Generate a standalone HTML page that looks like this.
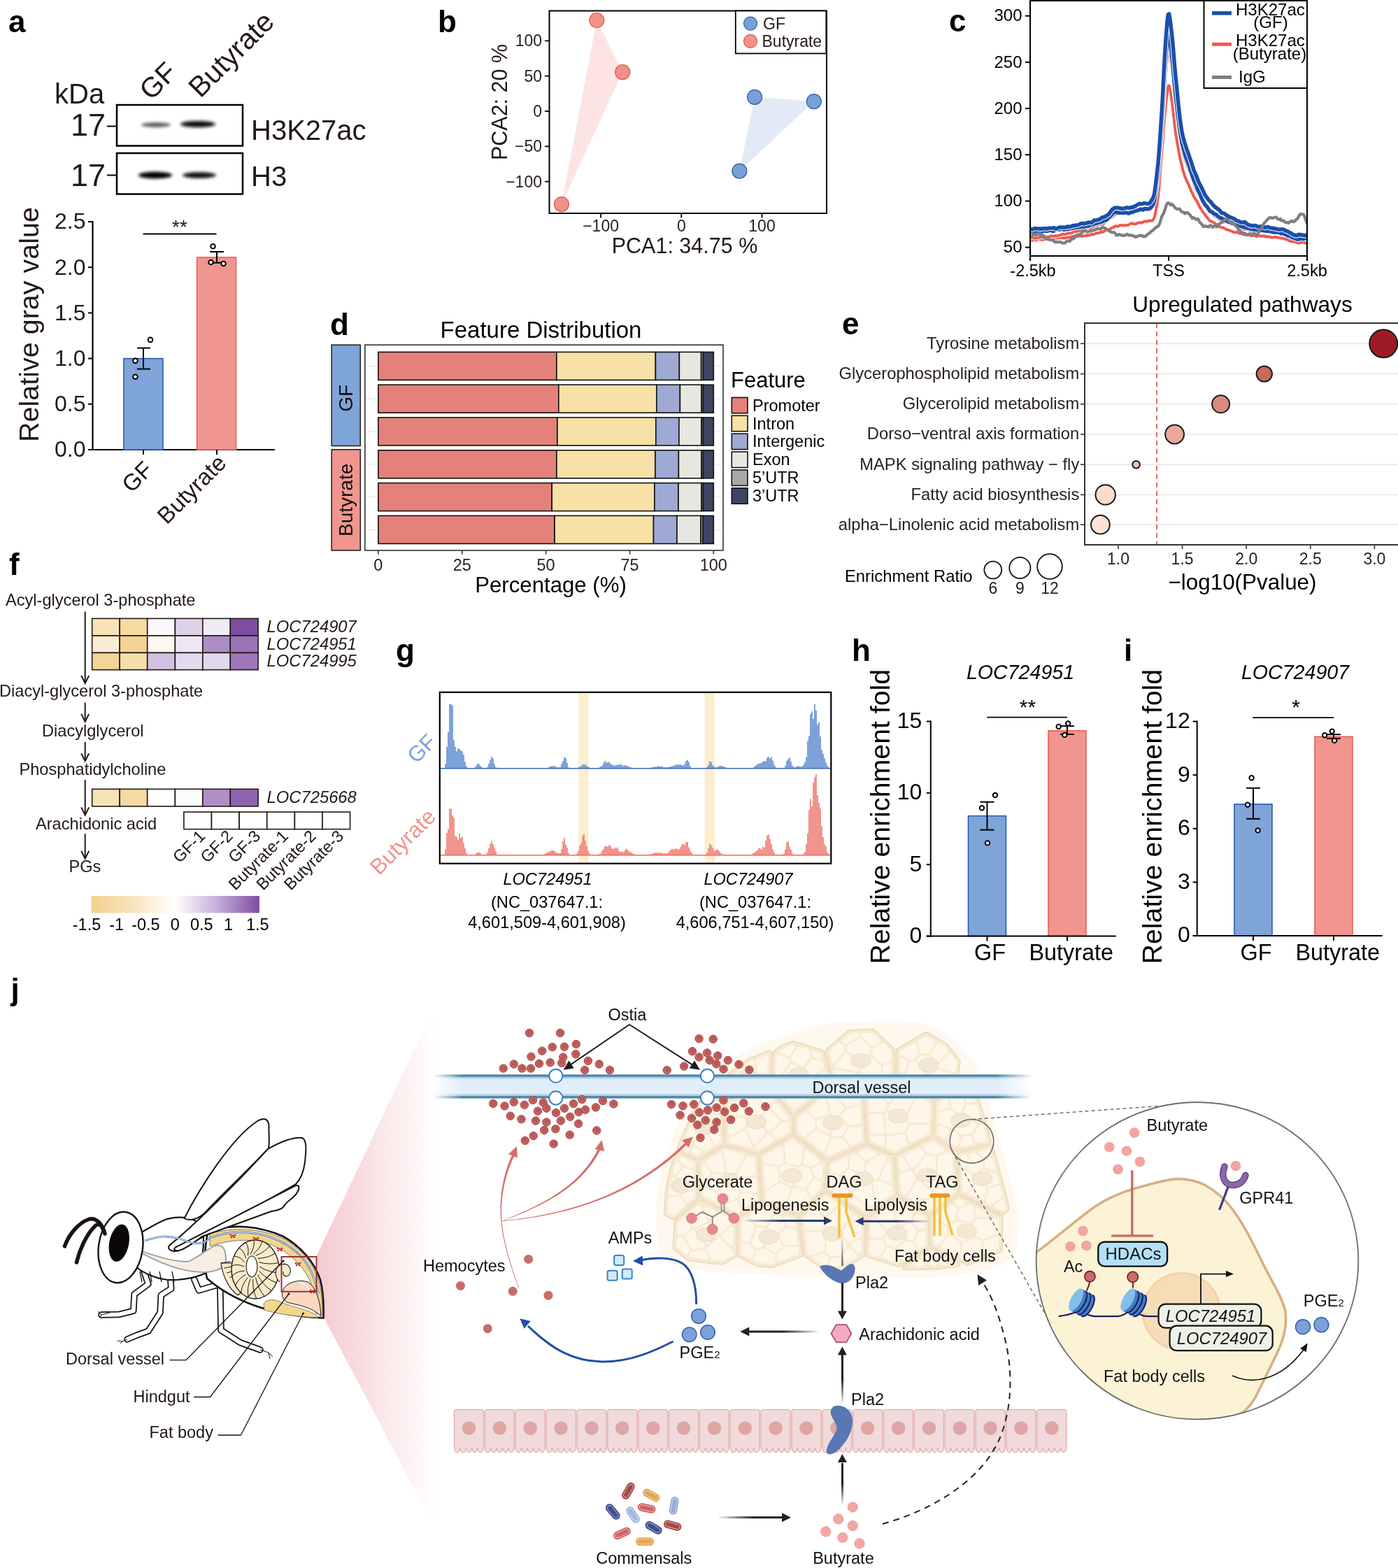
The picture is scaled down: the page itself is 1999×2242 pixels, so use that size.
<!DOCTYPE html>
<html><head><meta charset="utf-8"><title>Figure</title>
<style>
html,body{margin:0;padding:0;background:#fff;}
svg{display:block;}
text{font-family:'Liberation Sans', Arial, Helvetica, sans-serif;}
</style></head>
<body>
<svg width="1999" height="2242" viewBox="0 0 1999 2242" font-family="'Liberation Sans', Arial, Helvetica, sans-serif" fill="#231815">
<rect x="0" y="0" width="1999" height="2242" fill="#fff"/>
<defs>
<filter id="blur2" x="-50%" y="-200%" width="200%" height="500%"><feGaussianBlur stdDeviation="2.2"/></filter>
</defs>
<text x="12.0" y="46.0" font-size="44" font-weight="bold" fill="#000">a</text>
<text x="78.0" y="148.0" font-size="40">kDa</text>
<text x="216.0" y="145.0" font-size="40" transform="rotate(-45 216.0 145.0)">GF</text>
<text x="286.5" y="141.5" font-size="41" transform="rotate(-45 286.5 141.5)">Butyrate</text>
<text x="101.0" y="194.0" font-size="45">17</text>
<text x="101.0" y="266.0" font-size="45">17</text>
<line x1="153.0" y1="180.5" x2="167.0" y2="180.5" stroke="#000" stroke-width="2"/>
<line x1="153.0" y1="250.5" x2="167.0" y2="250.5" stroke="#000" stroke-width="2"/>
<rect x="167.0" y="150.0" width="180.0" height="58.5" fill="#fff" stroke="#000" stroke-width="2.5"/>
<rect x="167.0" y="219.0" width="180.0" height="58.5" fill="#fff" stroke="#000" stroke-width="2.5"/>
<g filter="url(#blur2)">
<ellipse cx="223" cy="178.5" rx="21" ry="3.2" fill="#555"/>
<ellipse cx="283" cy="177.5" rx="25" ry="4.5" fill="#111"/>
<ellipse cx="222" cy="250.5" rx="24" ry="5" fill="#000"/>
<ellipse cx="285" cy="250.5" rx="24" ry="4.2" fill="#0a0a0a"/>
</g>
<text x="359.0" y="199.5" font-size="40">H3K27ac</text>
<text x="359.0" y="265.5" font-size="40">H3</text>
<line x1="132.5" y1="316.0" x2="132.5" y2="644.0" stroke="#000" stroke-width="2.2"/>
<line x1="127.0" y1="643.0" x2="393.0" y2="643.0" stroke="#000" stroke-width="2.2"/>
<line x1="126.0" y1="643.0" x2="132.5" y2="643.0" stroke="#000" stroke-width="2"/>
<text x="122.5" y="653.3" font-size="32" text-anchor="end">0.0</text>
<line x1="126.0" y1="577.8" x2="132.5" y2="577.8" stroke="#000" stroke-width="2"/>
<text x="122.5" y="588.1" font-size="32" text-anchor="end">0.5</text>
<line x1="126.0" y1="512.6" x2="132.5" y2="512.6" stroke="#000" stroke-width="2"/>
<text x="122.5" y="522.9" font-size="32" text-anchor="end">1.0</text>
<line x1="126.0" y1="447.4" x2="132.5" y2="447.4" stroke="#000" stroke-width="2"/>
<text x="122.5" y="457.7" font-size="32" text-anchor="end">1.5</text>
<line x1="126.0" y1="382.2" x2="132.5" y2="382.2" stroke="#000" stroke-width="2"/>
<text x="122.5" y="392.5" font-size="32" text-anchor="end">2.0</text>
<line x1="126.0" y1="317.0" x2="132.5" y2="317.0" stroke="#000" stroke-width="2"/>
<text x="122.5" y="327.3" font-size="32" text-anchor="end">2.5</text>
<text x="55.0" y="464.0" font-size="39.5" text-anchor="middle" transform="rotate(-90 55.0 464.0)">Relative gray value</text>
<rect x="177.0" y="512.6" width="56.0" height="130.4" fill="#7FA4D8" stroke="#2457B0" stroke-width="1.5"/>
<rect x="281.5" y="367.9" width="56.0" height="275.1" fill="#F0968E" stroke="#EB5A50" stroke-width="1.5"/>
<line x1="205.0" y1="643.0" x2="205.0" y2="650.0" stroke="#000" stroke-width="2"/>
<line x1="310.0" y1="643.0" x2="310.0" y2="650.0" stroke="#000" stroke-width="2"/>
<text x="220.5" y="673.5" font-size="33" text-anchor="end" transform="rotate(-45 220.5 673.5)">GF</text>
<text x="325.5" y="664.0" font-size="33" text-anchor="end" transform="rotate(-45 325.5 664.0)">Butyrate</text>
<line x1="205.0" y1="497.6" x2="205.0" y2="527.6" stroke="#000" stroke-width="2"/>
<line x1="196.0" y1="497.6" x2="215.0" y2="497.6" stroke="#000" stroke-width="2"/>
<line x1="196.0" y1="527.6" x2="215.0" y2="527.6" stroke="#000" stroke-width="2"/>
<circle cx="193.5" cy="515.9" r="3.3" fill="#fff" stroke="#000" stroke-width="2"/>
<circle cx="193.5" cy="538.7" r="3.3" fill="#fff" stroke="#000" stroke-width="2"/>
<circle cx="215.0" cy="485.9" r="3.3" fill="#fff" stroke="#000" stroke-width="2"/>
<line x1="310.0" y1="360.0" x2="310.0" y2="375.7" stroke="#000" stroke-width="2"/>
<line x1="300.0" y1="360.0" x2="320.0" y2="360.0" stroke="#000" stroke-width="2"/>
<line x1="300.0" y1="375.7" x2="320.0" y2="375.7" stroke="#000" stroke-width="2"/>
<circle cx="304.5" cy="352.2" r="3.3" fill="#fff" stroke="#000" stroke-width="2"/>
<circle cx="301.5" cy="375.0" r="3.3" fill="#fff" stroke="#000" stroke-width="2"/>
<circle cx="319.5" cy="377.0" r="3.3" fill="#fff" stroke="#000" stroke-width="2"/>
<line x1="204.5" y1="334.5" x2="309.5" y2="334.5" stroke="#000" stroke-width="1.8"/>
<text x="257.0" y="334.0" font-size="28" text-anchor="middle">**</text>
<text x="626.0" y="46.0" font-size="44" font-weight="bold" fill="#000">b</text>
<rect x="785.5" y="15.5" width="396.5" height="289.5" fill="#fff" stroke="none" stroke-width="1"/>
<polygon points="853.3,29.0 890.2,103.2 802.9,292.1" fill="#FBE4E3" stroke="none" stroke-width="1"/>
<polygon points="1079.1,138.8 1163.9,145.1 1057.4,244.6" fill="#E2EAF6" stroke="none" stroke-width="1"/>
<circle cx="853.3" cy="29.0" r="10.5" fill="#F0928A" stroke="#E0564E" stroke-width="1.2"/>
<circle cx="890.2" cy="103.2" r="10.5" fill="#F0928A" stroke="#E0564E" stroke-width="1.2"/>
<circle cx="802.9" cy="292.1" r="10.5" fill="#F0928A" stroke="#E0564E" stroke-width="1.2"/>
<circle cx="1079.1" cy="138.8" r="10.5" fill="#789FD6" stroke="#2F5DB0" stroke-width="1.2"/>
<circle cx="1163.9" cy="145.1" r="10.5" fill="#789FD6" stroke="#2F5DB0" stroke-width="1.2"/>
<circle cx="1057.4" cy="244.6" r="10.5" fill="#789FD6" stroke="#2F5DB0" stroke-width="1.2"/>
<rect x="785.5" y="15.5" width="396.5" height="289.5" fill="none" stroke="#000" stroke-width="2"/>
<rect x="1051.8" y="15.5" width="129.5" height="61.0" fill="#fff" stroke="#000" stroke-width="1.8"/>
<circle cx="1073.0" cy="33.6" r="9.5" fill="#789FD6" stroke="#2F5DB0" stroke-width="1.2"/>
<circle cx="1073.0" cy="58.8" r="9.5" fill="#F0928A" stroke="#E0564E" stroke-width="1.2"/>
<text x="1091.0" y="41.5" font-size="23">GF</text>
<text x="1089.5" y="66.5" font-size="23">Butyrate</text>
<line x1="779.0" y1="58.4" x2="785.5" y2="58.4" stroke="#000" stroke-width="1.8"/>
<text x="775.0" y="66.4" font-size="23" text-anchor="end" fill="#2b2020">100</text>
<line x1="779.0" y1="108.7" x2="785.5" y2="108.7" stroke="#000" stroke-width="1.8"/>
<text x="775.0" y="116.7" font-size="23" text-anchor="end" fill="#2b2020">50</text>
<line x1="779.0" y1="159.0" x2="785.5" y2="159.0" stroke="#000" stroke-width="1.8"/>
<text x="775.0" y="167.0" font-size="23" text-anchor="end" fill="#2b2020">0</text>
<line x1="779.0" y1="209.3" x2="785.5" y2="209.3" stroke="#000" stroke-width="1.8"/>
<text x="775.0" y="217.3" font-size="23" text-anchor="end" fill="#2b2020">−50</text>
<line x1="779.0" y1="259.6" x2="785.5" y2="259.6" stroke="#000" stroke-width="1.8"/>
<text x="775.0" y="267.6" font-size="23" text-anchor="end" fill="#2b2020">−100</text>
<line x1="859.1" y1="305.0" x2="859.1" y2="311.5" stroke="#000" stroke-width="1.8"/>
<text x="859.1" y="331.0" font-size="23" text-anchor="middle" fill="#2b2020">−100</text>
<line x1="974.3" y1="305.0" x2="974.3" y2="311.5" stroke="#000" stroke-width="1.8"/>
<text x="974.3" y="331.0" font-size="23" text-anchor="middle" fill="#2b2020">0</text>
<line x1="1089.5" y1="305.0" x2="1089.5" y2="311.5" stroke="#000" stroke-width="1.8"/>
<text x="1089.5" y="331.0" font-size="23" text-anchor="middle" fill="#2b2020">100</text>
<text x="979.0" y="361.5" font-size="30.5" text-anchor="middle">PCA1: 34.75 %</text>
<text x="725.0" y="146.0" font-size="30.5" text-anchor="middle" transform="rotate(-90 725.0 146.0)">PCA2: 20 %</text>
<text x="1357.0" y="45.0" font-size="44" font-weight="bold" fill="#000">c</text>
<defs><clipPath id="cclip"><rect x="1473" y="1" width="396" height="365"/></clipPath></defs>
<g clip-path="url(#cclip)">
<polyline points="1473.0,343.3 1474.3,343.1 1475.6,343.8 1477.0,343.1 1478.3,343.2 1479.6,343.6 1480.9,343.4 1482.3,343.6 1483.6,341.8 1484.9,341.6 1486.2,341.4 1487.6,342.4 1488.9,342.6 1490.2,342.7 1491.5,342.7 1492.9,342.2 1494.2,341.9 1495.5,341.4 1496.8,341.5 1498.2,341.3 1499.5,341.0 1500.8,340.7 1502.1,340.8 1503.5,341.2 1504.8,341.1 1506.1,340.3 1507.4,340.2 1508.8,340.3 1510.1,340.5 1511.4,340.6 1512.7,340.5 1514.1,340.4 1515.4,339.9 1516.7,339.6 1518.0,339.6 1519.4,340.6 1520.7,340.2 1522.0,340.6 1523.3,340.1 1524.7,340.2 1526.0,339.6 1527.3,339.1 1528.6,339.4 1529.9,339.5 1531.3,339.2 1532.6,338.3 1533.9,338.0 1535.2,337.8 1536.6,337.7 1537.9,337.9 1539.2,338.1 1540.5,338.1 1541.9,337.7 1543.2,337.3 1544.5,337.6 1545.8,337.6 1547.2,338.1 1548.5,337.5 1549.8,337.2 1551.1,336.8 1552.5,336.8 1553.8,337.0 1555.1,336.1 1556.4,336.5 1557.8,336.3 1559.1,336.1 1560.4,334.9 1561.7,335.0 1563.1,335.1 1564.4,335.1 1565.7,334.4 1567.0,333.4 1568.4,333.6 1569.7,333.0 1571.0,333.5 1572.3,332.4 1573.7,332.1 1575.0,331.6 1576.3,332.2 1577.6,331.3 1579.0,330.6 1580.3,329.4 1581.6,329.1 1582.9,328.8 1584.3,328.6 1585.6,328.5 1586.9,328.1 1588.2,326.7 1589.5,326.1 1590.9,325.3 1592.2,325.1 1593.5,324.1 1594.8,323.3 1596.2,323.3 1597.5,323.8 1598.8,323.8 1600.1,322.9 1601.5,322.1 1602.8,321.9 1604.1,322.3 1605.4,322.4 1606.8,322.4 1608.1,322.0 1609.4,322.2 1610.7,322.0 1612.1,322.1 1613.4,321.5 1614.7,321.3 1616.0,320.2 1617.4,319.6 1618.7,318.9 1620.0,320.1 1621.3,320.3 1622.7,320.6 1624.0,319.5 1625.3,319.8 1626.6,319.0 1628.0,318.6 1629.3,318.0 1630.6,318.4 1631.9,318.8 1633.3,318.3 1634.6,317.6 1635.9,316.6 1637.2,316.6 1638.6,316.5 1639.9,316.9 1641.2,316.1 1642.5,315.9 1643.8,315.3 1645.2,315.8 1646.5,315.6 1647.8,315.6 1649.1,313.9 1650.5,311.2 1651.8,306.1 1653.1,300.0 1654.4,292.1 1655.8,283.3 1657.1,270.7 1658.4,255.1 1659.7,237.4 1661.1,220.9 1662.4,204.6 1663.7,187.9 1665.0,170.9 1666.4,155.4 1667.7,142.7 1669.0,130.7 1670.3,122.8 1671.7,122.6 1673.0,127.7 1674.3,135.8 1675.6,144.0 1677.0,154.7 1678.3,166.6 1679.6,178.6 1680.9,189.1 1682.3,197.5 1683.6,205.4 1684.9,213.1 1686.2,220.4 1687.6,227.2 1688.9,233.1 1690.2,238.0 1691.5,243.6 1692.9,247.8 1694.2,252.3 1695.5,255.2 1696.8,258.5 1698.2,261.2 1699.5,263.9 1700.8,267.2 1702.1,270.0 1703.4,273.3 1704.8,276.1 1706.1,279.0 1707.4,281.7 1708.7,283.4 1710.1,285.8 1711.4,287.2 1712.7,290.2 1714.0,292.9 1715.4,295.8 1716.7,297.8 1718.0,300.0 1719.3,302.0 1720.7,304.2 1722.0,305.4 1723.3,307.5 1724.6,308.8 1726.0,310.9 1727.3,312.3 1728.6,314.1 1729.9,315.5 1731.3,316.3 1732.6,316.8 1733.9,317.4 1735.2,318.2 1736.6,319.0 1737.9,319.8 1739.2,320.7 1740.5,322.0 1741.9,323.3 1743.2,323.7 1744.5,324.8 1745.8,324.8 1747.2,325.6 1748.5,325.3 1749.8,326.0 1751.1,326.8 1752.5,327.5 1753.8,328.2 1755.1,328.4 1756.4,329.0 1757.7,329.2 1759.1,329.7 1760.4,330.3 1761.7,330.7 1763.0,331.7 1764.4,331.8 1765.7,332.5 1767.0,331.9 1768.3,331.8 1769.7,332.3 1771.0,333.0 1772.3,333.7 1773.6,333.8 1775.0,333.9 1776.3,334.3 1777.6,334.8 1778.9,335.4 1780.3,335.5 1781.6,335.2 1782.9,335.8 1784.2,335.8 1785.6,335.8 1786.9,336.0 1788.2,336.6 1789.5,337.0 1790.9,337.0 1792.2,336.5 1793.5,336.5 1794.8,336.8 1796.2,337.8 1797.5,338.0 1798.8,337.1 1800.1,337.0 1801.5,337.1 1802.8,337.8 1804.1,337.8 1805.4,337.3 1806.8,337.7 1808.1,337.6 1809.4,338.3 1810.7,338.1 1812.1,338.8 1813.4,338.4 1814.7,338.7 1816.0,338.5 1817.3,339.4 1818.7,339.7 1820.0,339.7 1821.3,339.2 1822.6,338.9 1824.0,338.9 1825.3,339.1 1826.6,339.5 1827.9,339.8 1829.3,340.0 1830.6,340.2 1831.9,340.5 1833.2,340.6 1834.6,340.8 1835.9,341.5 1837.2,342.0 1838.5,341.9 1839.9,342.2 1841.2,342.9 1842.5,343.9 1843.8,343.9 1845.2,344.8 1846.5,345.0 1847.8,345.4 1849.1,345.4 1850.5,345.4 1851.8,345.9 1853.1,346.1 1854.4,346.7 1855.8,347.5 1857.1,347.6 1858.4,347.2 1859.7,347.0 1861.1,346.2 1862.4,346.8 1863.7,346.2 1865.0,346.8 1866.4,347.5 1867.7,347.9 1869.0,347.9" fill="none" stroke="#fff" stroke-width="6" stroke-linejoin="round"/>
<polyline points="1473.0,343.3 1474.3,343.1 1475.6,343.8 1477.0,343.1 1478.3,343.2 1479.6,343.6 1480.9,343.4 1482.3,343.6 1483.6,341.8 1484.9,341.6 1486.2,341.4 1487.6,342.4 1488.9,342.6 1490.2,342.7 1491.5,342.7 1492.9,342.2 1494.2,341.9 1495.5,341.4 1496.8,341.5 1498.2,341.3 1499.5,341.0 1500.8,340.7 1502.1,340.8 1503.5,341.2 1504.8,341.1 1506.1,340.3 1507.4,340.2 1508.8,340.3 1510.1,340.5 1511.4,340.6 1512.7,340.5 1514.1,340.4 1515.4,339.9 1516.7,339.6 1518.0,339.6 1519.4,340.6 1520.7,340.2 1522.0,340.6 1523.3,340.1 1524.7,340.2 1526.0,339.6 1527.3,339.1 1528.6,339.4 1529.9,339.5 1531.3,339.2 1532.6,338.3 1533.9,338.0 1535.2,337.8 1536.6,337.7 1537.9,337.9 1539.2,338.1 1540.5,338.1 1541.9,337.7 1543.2,337.3 1544.5,337.6 1545.8,337.6 1547.2,338.1 1548.5,337.5 1549.8,337.2 1551.1,336.8 1552.5,336.8 1553.8,337.0 1555.1,336.1 1556.4,336.5 1557.8,336.3 1559.1,336.1 1560.4,334.9 1561.7,335.0 1563.1,335.1 1564.4,335.1 1565.7,334.4 1567.0,333.4 1568.4,333.6 1569.7,333.0 1571.0,333.5 1572.3,332.4 1573.7,332.1 1575.0,331.6 1576.3,332.2 1577.6,331.3 1579.0,330.6 1580.3,329.4 1581.6,329.1 1582.9,328.8 1584.3,328.6 1585.6,328.5 1586.9,328.1 1588.2,326.7 1589.5,326.1 1590.9,325.3 1592.2,325.1 1593.5,324.1 1594.8,323.3 1596.2,323.3 1597.5,323.8 1598.8,323.8 1600.1,322.9 1601.5,322.1 1602.8,321.9 1604.1,322.3 1605.4,322.4 1606.8,322.4 1608.1,322.0 1609.4,322.2 1610.7,322.0 1612.1,322.1 1613.4,321.5 1614.7,321.3 1616.0,320.2 1617.4,319.6 1618.7,318.9 1620.0,320.1 1621.3,320.3 1622.7,320.6 1624.0,319.5 1625.3,319.8 1626.6,319.0 1628.0,318.6 1629.3,318.0 1630.6,318.4 1631.9,318.8 1633.3,318.3 1634.6,317.6 1635.9,316.6 1637.2,316.6 1638.6,316.5 1639.9,316.9 1641.2,316.1 1642.5,315.9 1643.8,315.3 1645.2,315.8 1646.5,315.6 1647.8,315.6 1649.1,313.9 1650.5,311.2 1651.8,306.1 1653.1,300.0 1654.4,292.1 1655.8,283.3 1657.1,270.7 1658.4,255.1 1659.7,237.4 1661.1,220.9 1662.4,204.6 1663.7,187.9 1665.0,170.9 1666.4,155.4 1667.7,142.7 1669.0,130.7 1670.3,122.8 1671.7,122.6 1673.0,127.7 1674.3,135.8 1675.6,144.0 1677.0,154.7 1678.3,166.6 1679.6,178.6 1680.9,189.1 1682.3,197.5 1683.6,205.4 1684.9,213.1 1686.2,220.4 1687.6,227.2 1688.9,233.1 1690.2,238.0 1691.5,243.6 1692.9,247.8 1694.2,252.3 1695.5,255.2 1696.8,258.5 1698.2,261.2 1699.5,263.9 1700.8,267.2 1702.1,270.0 1703.4,273.3 1704.8,276.1 1706.1,279.0 1707.4,281.7 1708.7,283.4 1710.1,285.8 1711.4,287.2 1712.7,290.2 1714.0,292.9 1715.4,295.8 1716.7,297.8 1718.0,300.0 1719.3,302.0 1720.7,304.2 1722.0,305.4 1723.3,307.5 1724.6,308.8 1726.0,310.9 1727.3,312.3 1728.6,314.1 1729.9,315.5 1731.3,316.3 1732.6,316.8 1733.9,317.4 1735.2,318.2 1736.6,319.0 1737.9,319.8 1739.2,320.7 1740.5,322.0 1741.9,323.3 1743.2,323.7 1744.5,324.8 1745.8,324.8 1747.2,325.6 1748.5,325.3 1749.8,326.0 1751.1,326.8 1752.5,327.5 1753.8,328.2 1755.1,328.4 1756.4,329.0 1757.7,329.2 1759.1,329.7 1760.4,330.3 1761.7,330.7 1763.0,331.7 1764.4,331.8 1765.7,332.5 1767.0,331.9 1768.3,331.8 1769.7,332.3 1771.0,333.0 1772.3,333.7 1773.6,333.8 1775.0,333.9 1776.3,334.3 1777.6,334.8 1778.9,335.4 1780.3,335.5 1781.6,335.2 1782.9,335.8 1784.2,335.8 1785.6,335.8 1786.9,336.0 1788.2,336.6 1789.5,337.0 1790.9,337.0 1792.2,336.5 1793.5,336.5 1794.8,336.8 1796.2,337.8 1797.5,338.0 1798.8,337.1 1800.1,337.0 1801.5,337.1 1802.8,337.8 1804.1,337.8 1805.4,337.3 1806.8,337.7 1808.1,337.6 1809.4,338.3 1810.7,338.1 1812.1,338.8 1813.4,338.4 1814.7,338.7 1816.0,338.5 1817.3,339.4 1818.7,339.7 1820.0,339.7 1821.3,339.2 1822.6,338.9 1824.0,338.9 1825.3,339.1 1826.6,339.5 1827.9,339.8 1829.3,340.0 1830.6,340.2 1831.9,340.5 1833.2,340.6 1834.6,340.8 1835.9,341.5 1837.2,342.0 1838.5,341.9 1839.9,342.2 1841.2,342.9 1842.5,343.9 1843.8,343.9 1845.2,344.8 1846.5,345.0 1847.8,345.4 1849.1,345.4 1850.5,345.4 1851.8,345.9 1853.1,346.1 1854.4,346.7 1855.8,347.5 1857.1,347.6 1858.4,347.2 1859.7,347.0 1861.1,346.2 1862.4,346.8 1863.7,346.2 1865.0,346.8 1866.4,347.5 1867.7,347.9 1869.0,347.9" fill="none" stroke="#EE5A50" stroke-width="4" stroke-linejoin="round"/>
<polyline points="1473.0,340.7 1474.3,340.2 1475.6,339.7 1477.0,340.1 1478.3,340.5 1479.6,340.8 1480.9,340.2 1482.3,340.6 1483.6,340.2 1484.9,340.1 1486.2,339.0 1487.6,338.9 1488.9,338.7 1490.2,339.5 1491.5,338.7 1492.9,339.4 1494.2,338.4 1495.5,339.1 1496.8,338.6 1498.2,339.0 1499.5,338.9 1500.8,338.4 1502.1,338.0 1503.5,337.2 1504.8,337.7 1506.1,337.5 1507.4,338.0 1508.8,337.1 1510.1,337.5 1511.4,337.2 1512.7,337.2 1514.1,336.8 1515.4,336.2 1516.7,336.0 1518.0,335.0 1519.4,334.7 1520.7,334.8 1522.0,335.1 1523.3,335.2 1524.7,334.4 1526.0,333.6 1527.3,333.5 1528.6,333.6 1529.9,333.8 1531.3,333.5 1532.6,333.0 1533.9,332.5 1535.2,331.3 1536.6,331.1 1537.9,330.8 1539.2,330.9 1540.5,330.7 1541.9,330.4 1543.2,330.2 1544.5,329.3 1545.8,329.2 1547.2,328.4 1548.5,328.4 1549.8,327.5 1551.1,327.3 1552.5,326.6 1553.8,326.0 1555.1,325.8 1556.4,325.6 1557.8,325.5 1559.1,325.5 1560.4,324.7 1561.7,324.6 1563.1,324.3 1564.4,323.6 1565.7,323.0 1567.0,322.5 1568.4,322.1 1569.7,321.7 1571.0,320.6 1572.3,320.9 1573.7,320.3 1575.0,320.7 1576.3,320.4 1577.6,320.1 1579.0,319.0 1580.3,317.5 1581.6,315.8 1582.9,315.3 1584.3,314.3 1585.6,314.0 1586.9,312.4 1588.2,311.8 1589.5,310.7 1590.9,309.6 1592.2,308.5 1593.5,307.2 1594.8,306.7 1596.2,305.9 1597.5,305.8 1598.8,305.6 1600.1,305.6 1601.5,305.5 1602.8,305.5 1604.1,305.9 1605.4,306.1 1606.8,305.8 1608.1,305.5 1609.4,305.3 1610.7,305.4 1612.1,305.8 1613.4,305.7 1614.7,306.2 1616.0,305.3 1617.4,305.1 1618.7,304.2 1620.0,304.0 1621.3,303.6 1622.7,303.2 1624.0,302.6 1625.3,302.1 1626.6,301.8 1628.0,301.6 1629.3,301.8 1630.6,300.8 1631.9,300.7 1633.3,300.0 1634.6,299.7 1635.9,298.9 1637.2,298.8 1638.6,299.2 1639.9,299.4 1641.2,298.7 1642.5,298.8 1643.8,298.7 1645.2,298.0 1646.5,296.5 1647.8,294.5 1649.1,292.4 1650.5,288.9 1651.8,282.8 1653.1,275.2 1654.4,265.1 1655.8,253.7 1657.1,239.6 1658.4,223.1 1659.7,205.8 1661.1,188.0 1662.4,169.3 1663.7,148.3 1665.0,127.7 1666.4,109.7 1667.7,96.1 1669.0,82.8 1670.3,73.9 1671.7,73.6 1673.0,79.0 1674.3,87.6 1675.6,96.3 1677.0,108.6 1678.3,122.4 1679.6,136.5 1680.9,148.7 1682.3,159.4 1683.6,169.9 1684.9,180.0 1686.2,188.9 1687.6,197.3 1688.9,204.5 1690.2,211.4 1691.5,217.9 1692.9,223.5 1694.2,227.4 1695.5,230.5 1696.8,234.2 1698.2,238.5 1699.5,241.7 1700.8,245.0 1702.1,248.3 1703.4,252.4 1704.8,256.1 1706.1,259.7 1707.4,263.8 1708.7,267.3 1710.1,270.6 1711.4,273.0 1712.7,275.7 1714.0,278.3 1715.4,281.7 1716.7,283.9 1718.0,285.9 1719.3,287.2 1720.7,289.9 1722.0,292.2 1723.3,294.5 1724.6,296.0 1726.0,297.9 1727.3,299.2 1728.6,301.1 1729.9,302.7 1731.3,303.7 1732.6,304.4 1733.9,305.3 1735.2,306.9 1736.6,308.7 1737.9,309.7 1739.2,310.2 1740.5,311.3 1741.9,311.9 1743.2,313.9 1744.5,314.2 1745.8,315.2 1747.2,315.6 1748.5,316.6 1749.8,317.3 1751.1,317.2 1752.5,317.4 1753.8,317.6 1755.1,318.6 1756.4,318.5 1757.7,319.4 1759.1,319.6 1760.4,320.4 1761.7,320.9 1763.0,320.9 1764.4,320.9 1765.7,321.3 1767.0,322.4 1768.3,324.0 1769.7,324.9 1771.0,325.3 1772.3,325.4 1773.6,325.7 1775.0,326.1 1776.3,326.4 1777.6,327.2 1778.9,327.9 1780.3,328.1 1781.6,327.8 1782.9,328.0 1784.2,328.3 1785.6,329.0 1786.9,329.2 1788.2,330.5 1789.5,330.2 1790.9,330.3 1792.2,329.6 1793.5,329.8 1794.8,330.0 1796.2,330.4 1797.5,330.4 1798.8,330.6 1800.1,330.9 1801.5,331.3 1802.8,331.1 1804.1,330.9 1805.4,330.5 1806.8,330.8 1808.1,330.8 1809.4,331.7 1810.7,331.6 1812.1,332.1 1813.4,331.4 1814.7,331.5 1816.0,331.8 1817.3,332.3 1818.7,332.5 1820.0,332.5 1821.3,332.9 1822.6,333.5 1824.0,332.7 1825.3,332.7 1826.6,332.2 1827.9,333.6 1829.3,334.2 1830.6,334.7 1831.9,334.7 1833.2,334.4 1834.6,334.9 1835.9,335.1 1837.2,335.2 1838.5,335.6 1839.9,335.8 1841.2,337.0 1842.5,337.0 1843.8,337.6 1845.2,337.1 1846.5,337.8 1847.8,338.3 1849.1,338.8 1850.5,339.3 1851.8,339.6 1853.1,340.5 1854.4,340.5 1855.8,340.5 1857.1,340.1 1858.4,339.2 1859.7,339.0 1861.1,338.7 1862.4,339.5 1863.7,339.8 1865.0,340.0 1866.4,340.4 1867.7,339.5 1869.0,339.3" fill="none" stroke="#fff" stroke-width="6" stroke-linejoin="round"/>
<polyline points="1473.0,340.7 1474.3,340.2 1475.6,339.7 1477.0,340.1 1478.3,340.5 1479.6,340.8 1480.9,340.2 1482.3,340.6 1483.6,340.2 1484.9,340.1 1486.2,339.0 1487.6,338.9 1488.9,338.7 1490.2,339.5 1491.5,338.7 1492.9,339.4 1494.2,338.4 1495.5,339.1 1496.8,338.6 1498.2,339.0 1499.5,338.9 1500.8,338.4 1502.1,338.0 1503.5,337.2 1504.8,337.7 1506.1,337.5 1507.4,338.0 1508.8,337.1 1510.1,337.5 1511.4,337.2 1512.7,337.2 1514.1,336.8 1515.4,336.2 1516.7,336.0 1518.0,335.0 1519.4,334.7 1520.7,334.8 1522.0,335.1 1523.3,335.2 1524.7,334.4 1526.0,333.6 1527.3,333.5 1528.6,333.6 1529.9,333.8 1531.3,333.5 1532.6,333.0 1533.9,332.5 1535.2,331.3 1536.6,331.1 1537.9,330.8 1539.2,330.9 1540.5,330.7 1541.9,330.4 1543.2,330.2 1544.5,329.3 1545.8,329.2 1547.2,328.4 1548.5,328.4 1549.8,327.5 1551.1,327.3 1552.5,326.6 1553.8,326.0 1555.1,325.8 1556.4,325.6 1557.8,325.5 1559.1,325.5 1560.4,324.7 1561.7,324.6 1563.1,324.3 1564.4,323.6 1565.7,323.0 1567.0,322.5 1568.4,322.1 1569.7,321.7 1571.0,320.6 1572.3,320.9 1573.7,320.3 1575.0,320.7 1576.3,320.4 1577.6,320.1 1579.0,319.0 1580.3,317.5 1581.6,315.8 1582.9,315.3 1584.3,314.3 1585.6,314.0 1586.9,312.4 1588.2,311.8 1589.5,310.7 1590.9,309.6 1592.2,308.5 1593.5,307.2 1594.8,306.7 1596.2,305.9 1597.5,305.8 1598.8,305.6 1600.1,305.6 1601.5,305.5 1602.8,305.5 1604.1,305.9 1605.4,306.1 1606.8,305.8 1608.1,305.5 1609.4,305.3 1610.7,305.4 1612.1,305.8 1613.4,305.7 1614.7,306.2 1616.0,305.3 1617.4,305.1 1618.7,304.2 1620.0,304.0 1621.3,303.6 1622.7,303.2 1624.0,302.6 1625.3,302.1 1626.6,301.8 1628.0,301.6 1629.3,301.8 1630.6,300.8 1631.9,300.7 1633.3,300.0 1634.6,299.7 1635.9,298.9 1637.2,298.8 1638.6,299.2 1639.9,299.4 1641.2,298.7 1642.5,298.8 1643.8,298.7 1645.2,298.0 1646.5,296.5 1647.8,294.5 1649.1,292.4 1650.5,288.9 1651.8,282.8 1653.1,275.2 1654.4,265.1 1655.8,253.7 1657.1,239.6 1658.4,223.1 1659.7,205.8 1661.1,188.0 1662.4,169.3 1663.7,148.3 1665.0,127.7 1666.4,109.7 1667.7,96.1 1669.0,82.8 1670.3,73.9 1671.7,73.6 1673.0,79.0 1674.3,87.6 1675.6,96.3 1677.0,108.6 1678.3,122.4 1679.6,136.5 1680.9,148.7 1682.3,159.4 1683.6,169.9 1684.9,180.0 1686.2,188.9 1687.6,197.3 1688.9,204.5 1690.2,211.4 1691.5,217.9 1692.9,223.5 1694.2,227.4 1695.5,230.5 1696.8,234.2 1698.2,238.5 1699.5,241.7 1700.8,245.0 1702.1,248.3 1703.4,252.4 1704.8,256.1 1706.1,259.7 1707.4,263.8 1708.7,267.3 1710.1,270.6 1711.4,273.0 1712.7,275.7 1714.0,278.3 1715.4,281.7 1716.7,283.9 1718.0,285.9 1719.3,287.2 1720.7,289.9 1722.0,292.2 1723.3,294.5 1724.6,296.0 1726.0,297.9 1727.3,299.2 1728.6,301.1 1729.9,302.7 1731.3,303.7 1732.6,304.4 1733.9,305.3 1735.2,306.9 1736.6,308.7 1737.9,309.7 1739.2,310.2 1740.5,311.3 1741.9,311.9 1743.2,313.9 1744.5,314.2 1745.8,315.2 1747.2,315.6 1748.5,316.6 1749.8,317.3 1751.1,317.2 1752.5,317.4 1753.8,317.6 1755.1,318.6 1756.4,318.5 1757.7,319.4 1759.1,319.6 1760.4,320.4 1761.7,320.9 1763.0,320.9 1764.4,320.9 1765.7,321.3 1767.0,322.4 1768.3,324.0 1769.7,324.9 1771.0,325.3 1772.3,325.4 1773.6,325.7 1775.0,326.1 1776.3,326.4 1777.6,327.2 1778.9,327.9 1780.3,328.1 1781.6,327.8 1782.9,328.0 1784.2,328.3 1785.6,329.0 1786.9,329.2 1788.2,330.5 1789.5,330.2 1790.9,330.3 1792.2,329.6 1793.5,329.8 1794.8,330.0 1796.2,330.4 1797.5,330.4 1798.8,330.6 1800.1,330.9 1801.5,331.3 1802.8,331.1 1804.1,330.9 1805.4,330.5 1806.8,330.8 1808.1,330.8 1809.4,331.7 1810.7,331.6 1812.1,332.1 1813.4,331.4 1814.7,331.5 1816.0,331.8 1817.3,332.3 1818.7,332.5 1820.0,332.5 1821.3,332.9 1822.6,333.5 1824.0,332.7 1825.3,332.7 1826.6,332.2 1827.9,333.6 1829.3,334.2 1830.6,334.7 1831.9,334.7 1833.2,334.4 1834.6,334.9 1835.9,335.1 1837.2,335.2 1838.5,335.6 1839.9,335.8 1841.2,337.0 1842.5,337.0 1843.8,337.6 1845.2,337.1 1846.5,337.8 1847.8,338.3 1849.1,338.8 1850.5,339.3 1851.8,339.6 1853.1,340.5 1854.4,340.5 1855.8,340.5 1857.1,340.1 1858.4,339.2 1859.7,339.0 1861.1,338.7 1862.4,339.5 1863.7,339.8 1865.0,340.0 1866.4,340.4 1867.7,339.5 1869.0,339.3" fill="none" stroke="#EE5A50" stroke-width="4" stroke-linejoin="round"/>
<polyline points="1473.0,330.8 1474.3,330.7 1475.6,331.1 1477.0,331.1 1478.3,331.0 1479.6,330.7 1480.9,330.7 1482.3,330.7 1483.6,330.3 1484.9,330.4 1486.2,330.3 1487.6,330.5 1488.9,330.5 1490.2,330.7 1491.5,330.2 1492.9,330.1 1494.2,329.9 1495.5,330.3 1496.8,330.3 1498.2,330.1 1499.5,329.8 1500.8,329.2 1502.1,328.8 1503.5,329.5 1504.8,330.3 1506.1,330.6 1507.4,329.8 1508.8,329.0 1510.1,328.8 1511.4,327.9 1512.7,328.2 1514.1,328.2 1515.4,328.1 1516.7,327.4 1518.0,327.0 1519.4,327.7 1520.7,328.2 1522.0,328.2 1523.3,327.9 1524.7,327.6 1526.0,327.7 1527.3,327.6 1528.6,327.4 1529.9,327.1 1531.3,326.8 1532.6,326.4 1533.9,326.3 1535.2,326.0 1536.6,325.5 1537.9,325.1 1539.2,325.3 1540.5,325.2 1541.9,325.2 1543.2,324.5 1544.5,324.8 1545.8,324.2 1547.2,324.2 1548.5,324.0 1549.8,324.2 1551.1,323.9 1552.5,323.2 1553.8,323.1 1555.1,323.2 1556.4,323.0 1557.8,322.5 1559.1,321.8 1560.4,321.3 1561.7,321.3 1563.1,321.0 1564.4,320.5 1565.7,319.7 1567.0,319.6 1568.4,319.3 1569.7,318.7 1571.0,317.8 1572.3,317.7 1573.7,317.7 1575.0,317.5 1576.3,317.0 1577.6,315.8 1579.0,315.1 1580.3,314.9 1581.6,314.9 1582.9,314.0 1584.3,312.3 1585.6,310.9 1586.9,309.9 1588.2,308.6 1589.5,306.9 1590.9,305.3 1592.2,304.3 1593.5,303.7 1594.8,303.5 1596.2,303.2 1597.5,303.9 1598.8,303.9 1600.1,304.4 1601.5,304.3 1602.8,304.3 1604.1,304.6 1605.4,304.1 1606.8,304.4 1608.1,304.1 1609.4,304.1 1610.7,304.0 1612.1,304.5 1613.4,305.2 1614.7,304.6 1616.0,304.1 1617.4,303.5 1618.7,303.6 1620.0,303.2 1621.3,302.3 1622.7,301.8 1624.0,301.3 1625.3,301.3 1626.6,300.7 1628.0,300.6 1629.3,299.8 1630.6,299.2 1631.9,299.1 1633.3,299.9 1634.6,300.1 1635.9,298.7 1637.2,298.2 1638.6,298.7 1639.9,299.1 1641.2,298.9 1642.5,298.5 1643.8,298.4 1645.2,297.2 1646.5,295.8 1647.8,293.8 1649.1,291.7 1650.5,287.7 1651.8,280.6 1653.1,271.5 1654.4,260.6 1655.8,249.8 1657.1,236.4 1658.4,220.3 1659.7,202.8 1661.1,184.3 1662.4,163.3 1663.7,138.5 1665.0,113.4 1666.4,91.4 1667.7,74.1 1669.0,58.1 1670.3,46.9 1671.7,46.8 1673.0,55.3 1674.3,68.0 1675.6,79.8 1677.0,92.7 1678.3,107.8 1679.6,122.4 1680.9,136.5 1682.3,147.8 1683.6,159.0 1684.9,169.4 1686.2,180.0 1687.6,189.8 1688.9,198.0 1690.2,204.8 1691.5,210.1 1692.9,215.2 1694.2,219.9 1695.5,224.5 1696.8,228.2 1698.2,231.5 1699.5,235.0 1700.8,238.7 1702.1,243.2 1703.4,246.9 1704.8,251.1 1706.1,254.8 1707.4,258.5 1708.7,261.5 1710.1,264.3 1711.4,267.5 1712.7,271.3 1714.0,273.6 1715.4,276.3 1716.7,279.2 1718.0,283.1 1719.3,286.0 1720.7,288.6 1722.0,290.7 1723.3,293.0 1724.6,294.1 1726.0,295.7 1727.3,297.9 1728.6,299.7 1729.9,301.9 1731.3,302.0 1732.6,303.1 1733.9,303.6 1735.2,305.3 1736.6,305.8 1737.9,306.3 1739.2,307.1 1740.5,308.4 1741.9,310.0 1743.2,310.5 1744.5,311.7 1745.8,311.6 1747.2,312.6 1748.5,312.9 1749.8,314.0 1751.1,314.5 1752.5,315.0 1753.8,315.9 1755.1,316.3 1756.4,317.1 1757.7,317.6 1759.1,318.1 1760.4,318.4 1761.7,318.7 1763.0,319.2 1764.4,319.4 1765.7,320.0 1767.0,320.4 1768.3,321.4 1769.7,321.9 1771.0,322.7 1772.3,322.8 1773.6,323.4 1775.0,323.7 1776.3,324.2 1777.6,324.1 1778.9,324.4 1780.3,325.5 1781.6,325.9 1782.9,326.1 1784.2,326.2 1785.6,326.4 1786.9,327.0 1788.2,327.2 1789.5,327.7 1790.9,327.8 1792.2,327.6 1793.5,328.4 1794.8,328.0 1796.2,328.4 1797.5,328.6 1798.8,329.1 1800.1,329.2 1801.5,328.8 1802.8,329.2 1804.1,329.3 1805.4,329.5 1806.8,329.7 1808.1,329.7 1809.4,330.0 1810.7,330.2 1812.1,330.5 1813.4,330.4 1814.7,330.3 1816.0,330.8 1817.3,330.9 1818.7,331.5 1820.0,331.7 1821.3,332.1 1822.6,332.1 1824.0,332.0 1825.3,332.2 1826.6,331.7 1827.9,332.3 1829.3,332.7 1830.6,333.1 1831.9,334.0 1833.2,333.2 1834.6,333.9 1835.9,333.9 1837.2,335.1 1838.5,335.4 1839.9,336.3 1841.2,336.9 1842.5,337.2 1843.8,337.4 1845.2,338.2 1846.5,338.9 1847.8,339.5 1849.1,339.8 1850.5,340.3 1851.8,340.6 1853.1,341.6 1854.4,342.0 1855.8,342.3 1857.1,341.7 1858.4,341.7 1859.7,341.2 1861.1,341.4 1862.4,341.3 1863.7,341.6 1865.0,341.2 1866.4,340.5 1867.7,340.1 1869.0,340.0" fill="none" stroke="#fff" stroke-width="7.5" stroke-linejoin="round"/>
<polyline points="1473.0,330.8 1474.3,330.7 1475.6,331.1 1477.0,331.1 1478.3,331.0 1479.6,330.7 1480.9,330.7 1482.3,330.7 1483.6,330.3 1484.9,330.4 1486.2,330.3 1487.6,330.5 1488.9,330.5 1490.2,330.7 1491.5,330.2 1492.9,330.1 1494.2,329.9 1495.5,330.3 1496.8,330.3 1498.2,330.1 1499.5,329.8 1500.8,329.2 1502.1,328.8 1503.5,329.5 1504.8,330.3 1506.1,330.6 1507.4,329.8 1508.8,329.0 1510.1,328.8 1511.4,327.9 1512.7,328.2 1514.1,328.2 1515.4,328.1 1516.7,327.4 1518.0,327.0 1519.4,327.7 1520.7,328.2 1522.0,328.2 1523.3,327.9 1524.7,327.6 1526.0,327.7 1527.3,327.6 1528.6,327.4 1529.9,327.1 1531.3,326.8 1532.6,326.4 1533.9,326.3 1535.2,326.0 1536.6,325.5 1537.9,325.1 1539.2,325.3 1540.5,325.2 1541.9,325.2 1543.2,324.5 1544.5,324.8 1545.8,324.2 1547.2,324.2 1548.5,324.0 1549.8,324.2 1551.1,323.9 1552.5,323.2 1553.8,323.1 1555.1,323.2 1556.4,323.0 1557.8,322.5 1559.1,321.8 1560.4,321.3 1561.7,321.3 1563.1,321.0 1564.4,320.5 1565.7,319.7 1567.0,319.6 1568.4,319.3 1569.7,318.7 1571.0,317.8 1572.3,317.7 1573.7,317.7 1575.0,317.5 1576.3,317.0 1577.6,315.8 1579.0,315.1 1580.3,314.9 1581.6,314.9 1582.9,314.0 1584.3,312.3 1585.6,310.9 1586.9,309.9 1588.2,308.6 1589.5,306.9 1590.9,305.3 1592.2,304.3 1593.5,303.7 1594.8,303.5 1596.2,303.2 1597.5,303.9 1598.8,303.9 1600.1,304.4 1601.5,304.3 1602.8,304.3 1604.1,304.6 1605.4,304.1 1606.8,304.4 1608.1,304.1 1609.4,304.1 1610.7,304.0 1612.1,304.5 1613.4,305.2 1614.7,304.6 1616.0,304.1 1617.4,303.5 1618.7,303.6 1620.0,303.2 1621.3,302.3 1622.7,301.8 1624.0,301.3 1625.3,301.3 1626.6,300.7 1628.0,300.6 1629.3,299.8 1630.6,299.2 1631.9,299.1 1633.3,299.9 1634.6,300.1 1635.9,298.7 1637.2,298.2 1638.6,298.7 1639.9,299.1 1641.2,298.9 1642.5,298.5 1643.8,298.4 1645.2,297.2 1646.5,295.8 1647.8,293.8 1649.1,291.7 1650.5,287.7 1651.8,280.6 1653.1,271.5 1654.4,260.6 1655.8,249.8 1657.1,236.4 1658.4,220.3 1659.7,202.8 1661.1,184.3 1662.4,163.3 1663.7,138.5 1665.0,113.4 1666.4,91.4 1667.7,74.1 1669.0,58.1 1670.3,46.9 1671.7,46.8 1673.0,55.3 1674.3,68.0 1675.6,79.8 1677.0,92.7 1678.3,107.8 1679.6,122.4 1680.9,136.5 1682.3,147.8 1683.6,159.0 1684.9,169.4 1686.2,180.0 1687.6,189.8 1688.9,198.0 1690.2,204.8 1691.5,210.1 1692.9,215.2 1694.2,219.9 1695.5,224.5 1696.8,228.2 1698.2,231.5 1699.5,235.0 1700.8,238.7 1702.1,243.2 1703.4,246.9 1704.8,251.1 1706.1,254.8 1707.4,258.5 1708.7,261.5 1710.1,264.3 1711.4,267.5 1712.7,271.3 1714.0,273.6 1715.4,276.3 1716.7,279.2 1718.0,283.1 1719.3,286.0 1720.7,288.6 1722.0,290.7 1723.3,293.0 1724.6,294.1 1726.0,295.7 1727.3,297.9 1728.6,299.7 1729.9,301.9 1731.3,302.0 1732.6,303.1 1733.9,303.6 1735.2,305.3 1736.6,305.8 1737.9,306.3 1739.2,307.1 1740.5,308.4 1741.9,310.0 1743.2,310.5 1744.5,311.7 1745.8,311.6 1747.2,312.6 1748.5,312.9 1749.8,314.0 1751.1,314.5 1752.5,315.0 1753.8,315.9 1755.1,316.3 1756.4,317.1 1757.7,317.6 1759.1,318.1 1760.4,318.4 1761.7,318.7 1763.0,319.2 1764.4,319.4 1765.7,320.0 1767.0,320.4 1768.3,321.4 1769.7,321.9 1771.0,322.7 1772.3,322.8 1773.6,323.4 1775.0,323.7 1776.3,324.2 1777.6,324.1 1778.9,324.4 1780.3,325.5 1781.6,325.9 1782.9,326.1 1784.2,326.2 1785.6,326.4 1786.9,327.0 1788.2,327.2 1789.5,327.7 1790.9,327.8 1792.2,327.6 1793.5,328.4 1794.8,328.0 1796.2,328.4 1797.5,328.6 1798.8,329.1 1800.1,329.2 1801.5,328.8 1802.8,329.2 1804.1,329.3 1805.4,329.5 1806.8,329.7 1808.1,329.7 1809.4,330.0 1810.7,330.2 1812.1,330.5 1813.4,330.4 1814.7,330.3 1816.0,330.8 1817.3,330.9 1818.7,331.5 1820.0,331.7 1821.3,332.1 1822.6,332.1 1824.0,332.0 1825.3,332.2 1826.6,331.7 1827.9,332.3 1829.3,332.7 1830.6,333.1 1831.9,334.0 1833.2,333.2 1834.6,333.9 1835.9,333.9 1837.2,335.1 1838.5,335.4 1839.9,336.3 1841.2,336.9 1842.5,337.2 1843.8,337.4 1845.2,338.2 1846.5,338.9 1847.8,339.5 1849.1,339.8 1850.5,340.3 1851.8,340.6 1853.1,341.6 1854.4,342.0 1855.8,342.3 1857.1,341.7 1858.4,341.7 1859.7,341.2 1861.1,341.4 1862.4,341.3 1863.7,341.6 1865.0,341.2 1866.4,340.5 1867.7,340.1 1869.0,340.0" fill="none" stroke="#1B4FAA" stroke-width="5.5" stroke-linejoin="round"/>
<polyline points="1473.0,327.3 1474.3,327.4 1475.6,328.3 1477.0,327.5 1478.3,327.0 1479.6,326.4 1480.9,326.7 1482.3,326.9 1483.6,326.9 1484.9,326.9 1486.2,327.0 1487.6,326.9 1488.9,327.4 1490.2,327.1 1491.5,327.0 1492.9,326.6 1494.2,326.8 1495.5,326.7 1496.8,327.1 1498.2,326.6 1499.5,326.5 1500.8,326.1 1502.1,326.2 1503.5,326.5 1504.8,326.3 1506.1,325.7 1507.4,325.8 1508.8,326.5 1510.1,327.5 1511.4,326.7 1512.7,326.1 1514.1,325.2 1515.4,325.1 1516.7,325.0 1518.0,325.1 1519.4,325.2 1520.7,324.9 1522.0,325.2 1523.3,325.1 1524.7,325.1 1526.0,324.0 1527.3,323.9 1528.6,324.1 1529.9,324.6 1531.3,323.9 1532.6,323.4 1533.9,322.5 1535.2,323.2 1536.6,322.5 1537.9,322.3 1539.2,321.9 1540.5,321.9 1541.9,321.6 1543.2,320.9 1544.5,320.3 1545.8,319.7 1547.2,319.3 1548.5,319.4 1549.8,320.1 1551.1,319.6 1552.5,319.3 1553.8,318.8 1555.1,318.7 1556.4,318.1 1557.8,318.1 1559.1,318.1 1560.4,318.7 1561.7,317.6 1563.1,316.7 1564.4,315.1 1565.7,315.1 1567.0,314.9 1568.4,314.7 1569.7,314.3 1571.0,313.9 1572.3,313.8 1573.7,312.7 1575.0,311.6 1576.3,310.6 1577.6,310.7 1579.0,310.4 1580.3,309.5 1581.6,308.8 1582.9,308.0 1584.3,307.2 1585.6,306.1 1586.9,304.3 1588.2,302.4 1589.5,300.8 1590.9,299.0 1592.2,298.4 1593.5,297.2 1594.8,297.3 1596.2,297.1 1597.5,297.1 1598.8,297.1 1600.1,297.4 1601.5,297.7 1602.8,298.0 1604.1,298.4 1605.4,298.5 1606.8,298.2 1608.1,297.6 1609.4,297.4 1610.7,296.8 1612.1,297.0 1613.4,297.2 1614.7,297.2 1616.0,297.3 1617.4,296.4 1618.7,296.7 1620.0,295.7 1621.3,296.0 1622.7,294.9 1624.0,294.4 1625.3,293.5 1626.6,292.7 1628.0,291.9 1629.3,291.2 1630.6,291.6 1631.9,291.6 1633.3,291.5 1634.6,290.9 1635.9,290.6 1637.2,290.7 1638.6,290.9 1639.9,291.2 1641.2,291.3 1642.5,291.1 1643.8,290.6 1645.2,289.0 1646.5,286.7 1647.8,284.7 1649.1,282.0 1650.5,277.9 1651.8,269.0 1653.1,258.8 1654.4,246.9 1655.8,235.4 1657.1,220.2 1658.4,202.4 1659.7,182.7 1661.1,162.2 1662.4,139.9 1663.7,113.6 1665.0,88.0 1666.4,64.5 1667.7,47.5 1669.0,30.6 1670.3,20.6 1671.7,19.8 1673.0,27.5 1674.3,37.7 1675.6,48.8 1677.0,62.7 1678.3,78.5 1679.6,94.5 1680.9,108.6 1682.3,121.7 1683.6,135.4 1684.9,148.7 1686.2,160.9 1687.6,172.3 1688.9,181.6 1690.2,189.7 1691.5,195.3 1692.9,200.5 1694.2,204.9 1695.5,208.8 1696.8,213.2 1698.2,216.9 1699.5,220.5 1700.8,224.3 1702.1,228.1 1703.4,232.0 1704.8,236.2 1706.1,240.3 1707.4,244.6 1708.7,247.1 1710.1,250.3 1711.4,253.4 1712.7,257.1 1714.0,260.4 1715.4,263.1 1716.7,265.3 1718.0,267.9 1719.3,270.7 1720.7,273.6 1722.0,276.9 1723.3,279.1 1724.6,281.1 1726.0,282.6 1727.3,284.7 1728.6,286.5 1729.9,287.4 1731.3,288.6 1732.6,290.6 1733.9,292.1 1735.2,294.1 1736.6,294.8 1737.9,296.6 1739.2,296.9 1740.5,298.4 1741.9,298.9 1743.2,300.2 1744.5,301.5 1745.8,303.5 1747.2,304.7 1748.5,304.7 1749.8,305.0 1751.1,305.7 1752.5,307.1 1753.8,307.7 1755.1,308.4 1756.4,309.0 1757.7,310.3 1759.1,310.7 1760.4,311.0 1761.7,311.7 1763.0,312.0 1764.4,312.8 1765.7,313.1 1767.0,315.0 1768.3,315.6 1769.7,315.8 1771.0,315.9 1772.3,317.2 1773.6,317.6 1775.0,318.0 1776.3,318.1 1777.6,318.0 1778.9,317.6 1780.3,317.6 1781.6,319.1 1782.9,319.9 1784.2,321.3 1785.6,321.4 1786.9,322.2 1788.2,322.2 1789.5,323.0 1790.9,322.9 1792.2,322.7 1793.5,322.4 1794.8,322.5 1796.2,323.0 1797.5,323.6 1798.8,324.6 1800.1,324.6 1801.5,324.1 1802.8,323.8 1804.1,323.6 1805.4,324.4 1806.8,324.6 1808.1,325.2 1809.4,325.4 1810.7,324.8 1812.1,324.4 1813.4,324.4 1814.7,325.4 1816.0,325.8 1817.3,326.1 1818.7,325.9 1820.0,326.5 1821.3,326.3 1822.6,326.9 1824.0,326.9 1825.3,327.4 1826.6,327.8 1827.9,328.1 1829.3,328.2 1830.6,328.1 1831.9,328.1 1833.2,327.8 1834.6,327.9 1835.9,328.5 1837.2,329.2 1838.5,330.2 1839.9,330.2 1841.2,330.9 1842.5,331.6 1843.8,332.4 1845.2,332.9 1846.5,333.8 1847.8,334.8 1849.1,335.7 1850.5,335.9 1851.8,336.4 1853.1,336.9 1854.4,336.5 1855.8,336.3 1857.1,335.3 1858.4,335.7 1859.7,335.4 1861.1,336.2 1862.4,335.9 1863.7,336.4 1865.0,336.8 1866.4,336.9 1867.7,336.1 1869.0,335.2" fill="none" stroke="#fff" stroke-width="7.5" stroke-linejoin="round"/>
<polyline points="1473.0,327.3 1474.3,327.4 1475.6,328.3 1477.0,327.5 1478.3,327.0 1479.6,326.4 1480.9,326.7 1482.3,326.9 1483.6,326.9 1484.9,326.9 1486.2,327.0 1487.6,326.9 1488.9,327.4 1490.2,327.1 1491.5,327.0 1492.9,326.6 1494.2,326.8 1495.5,326.7 1496.8,327.1 1498.2,326.6 1499.5,326.5 1500.8,326.1 1502.1,326.2 1503.5,326.5 1504.8,326.3 1506.1,325.7 1507.4,325.8 1508.8,326.5 1510.1,327.5 1511.4,326.7 1512.7,326.1 1514.1,325.2 1515.4,325.1 1516.7,325.0 1518.0,325.1 1519.4,325.2 1520.7,324.9 1522.0,325.2 1523.3,325.1 1524.7,325.1 1526.0,324.0 1527.3,323.9 1528.6,324.1 1529.9,324.6 1531.3,323.9 1532.6,323.4 1533.9,322.5 1535.2,323.2 1536.6,322.5 1537.9,322.3 1539.2,321.9 1540.5,321.9 1541.9,321.6 1543.2,320.9 1544.5,320.3 1545.8,319.7 1547.2,319.3 1548.5,319.4 1549.8,320.1 1551.1,319.6 1552.5,319.3 1553.8,318.8 1555.1,318.7 1556.4,318.1 1557.8,318.1 1559.1,318.1 1560.4,318.7 1561.7,317.6 1563.1,316.7 1564.4,315.1 1565.7,315.1 1567.0,314.9 1568.4,314.7 1569.7,314.3 1571.0,313.9 1572.3,313.8 1573.7,312.7 1575.0,311.6 1576.3,310.6 1577.6,310.7 1579.0,310.4 1580.3,309.5 1581.6,308.8 1582.9,308.0 1584.3,307.2 1585.6,306.1 1586.9,304.3 1588.2,302.4 1589.5,300.8 1590.9,299.0 1592.2,298.4 1593.5,297.2 1594.8,297.3 1596.2,297.1 1597.5,297.1 1598.8,297.1 1600.1,297.4 1601.5,297.7 1602.8,298.0 1604.1,298.4 1605.4,298.5 1606.8,298.2 1608.1,297.6 1609.4,297.4 1610.7,296.8 1612.1,297.0 1613.4,297.2 1614.7,297.2 1616.0,297.3 1617.4,296.4 1618.7,296.7 1620.0,295.7 1621.3,296.0 1622.7,294.9 1624.0,294.4 1625.3,293.5 1626.6,292.7 1628.0,291.9 1629.3,291.2 1630.6,291.6 1631.9,291.6 1633.3,291.5 1634.6,290.9 1635.9,290.6 1637.2,290.7 1638.6,290.9 1639.9,291.2 1641.2,291.3 1642.5,291.1 1643.8,290.6 1645.2,289.0 1646.5,286.7 1647.8,284.7 1649.1,282.0 1650.5,277.9 1651.8,269.0 1653.1,258.8 1654.4,246.9 1655.8,235.4 1657.1,220.2 1658.4,202.4 1659.7,182.7 1661.1,162.2 1662.4,139.9 1663.7,113.6 1665.0,88.0 1666.4,64.5 1667.7,47.5 1669.0,30.6 1670.3,20.6 1671.7,19.8 1673.0,27.5 1674.3,37.7 1675.6,48.8 1677.0,62.7 1678.3,78.5 1679.6,94.5 1680.9,108.6 1682.3,121.7 1683.6,135.4 1684.9,148.7 1686.2,160.9 1687.6,172.3 1688.9,181.6 1690.2,189.7 1691.5,195.3 1692.9,200.5 1694.2,204.9 1695.5,208.8 1696.8,213.2 1698.2,216.9 1699.5,220.5 1700.8,224.3 1702.1,228.1 1703.4,232.0 1704.8,236.2 1706.1,240.3 1707.4,244.6 1708.7,247.1 1710.1,250.3 1711.4,253.4 1712.7,257.1 1714.0,260.4 1715.4,263.1 1716.7,265.3 1718.0,267.9 1719.3,270.7 1720.7,273.6 1722.0,276.9 1723.3,279.1 1724.6,281.1 1726.0,282.6 1727.3,284.7 1728.6,286.5 1729.9,287.4 1731.3,288.6 1732.6,290.6 1733.9,292.1 1735.2,294.1 1736.6,294.8 1737.9,296.6 1739.2,296.9 1740.5,298.4 1741.9,298.9 1743.2,300.2 1744.5,301.5 1745.8,303.5 1747.2,304.7 1748.5,304.7 1749.8,305.0 1751.1,305.7 1752.5,307.1 1753.8,307.7 1755.1,308.4 1756.4,309.0 1757.7,310.3 1759.1,310.7 1760.4,311.0 1761.7,311.7 1763.0,312.0 1764.4,312.8 1765.7,313.1 1767.0,315.0 1768.3,315.6 1769.7,315.8 1771.0,315.9 1772.3,317.2 1773.6,317.6 1775.0,318.0 1776.3,318.1 1777.6,318.0 1778.9,317.6 1780.3,317.6 1781.6,319.1 1782.9,319.9 1784.2,321.3 1785.6,321.4 1786.9,322.2 1788.2,322.2 1789.5,323.0 1790.9,322.9 1792.2,322.7 1793.5,322.4 1794.8,322.5 1796.2,323.0 1797.5,323.6 1798.8,324.6 1800.1,324.6 1801.5,324.1 1802.8,323.8 1804.1,323.6 1805.4,324.4 1806.8,324.6 1808.1,325.2 1809.4,325.4 1810.7,324.8 1812.1,324.4 1813.4,324.4 1814.7,325.4 1816.0,325.8 1817.3,326.1 1818.7,325.9 1820.0,326.5 1821.3,326.3 1822.6,326.9 1824.0,326.9 1825.3,327.4 1826.6,327.8 1827.9,328.1 1829.3,328.2 1830.6,328.1 1831.9,328.1 1833.2,327.8 1834.6,327.9 1835.9,328.5 1837.2,329.2 1838.5,330.2 1839.9,330.2 1841.2,330.9 1842.5,331.6 1843.8,332.4 1845.2,332.9 1846.5,333.8 1847.8,334.8 1849.1,335.7 1850.5,335.9 1851.8,336.4 1853.1,336.9 1854.4,336.5 1855.8,336.3 1857.1,335.3 1858.4,335.7 1859.7,335.4 1861.1,336.2 1862.4,335.9 1863.7,336.4 1865.0,336.8 1866.4,336.9 1867.7,336.1 1869.0,335.2" fill="none" stroke="#1B4FAA" stroke-width="5.5" stroke-linejoin="round"/>
<polyline points="1473.0,339.3 1474.3,338.9 1475.6,337.5 1477.0,335.3 1478.3,334.7 1479.6,335.2 1480.9,336.3 1482.3,335.7 1483.6,334.1 1484.9,333.3 1486.2,334.7 1487.6,336.6 1488.9,335.9 1490.2,335.4 1491.5,336.6 1492.9,338.6 1494.2,340.4 1495.5,340.5 1496.8,341.8 1498.2,342.3 1499.5,342.3 1500.8,342.6 1502.1,343.0 1503.5,343.4 1504.8,343.1 1506.1,344.1 1507.4,344.8 1508.8,346.4 1510.1,345.6 1511.4,346.5 1512.7,346.0 1514.1,346.1 1515.4,345.6 1516.7,346.4 1518.0,346.8 1519.4,347.5 1520.7,347.7 1522.0,347.3 1523.3,347.3 1524.7,345.3 1526.0,344.5 1527.3,344.6 1528.6,344.5 1529.9,345.0 1531.3,342.7 1532.6,341.9 1533.9,341.6 1535.2,340.8 1536.6,340.1 1537.9,337.1 1539.2,337.0 1540.5,335.6 1541.9,336.4 1543.2,335.3 1544.5,336.0 1545.8,333.8 1547.2,332.8 1548.5,330.1 1549.8,330.4 1551.1,329.9 1552.5,330.7 1553.8,331.2 1555.1,331.6 1556.4,330.9 1557.8,330.4 1559.1,329.9 1560.4,330.5 1561.7,329.4 1563.1,329.4 1564.4,329.0 1565.7,328.7 1567.0,327.8 1568.4,327.7 1569.7,326.7 1571.0,327.1 1572.3,326.8 1573.7,327.9 1575.0,326.0 1576.3,325.2 1577.6,324.8 1579.0,326.4 1580.3,326.3 1581.6,327.0 1582.9,327.9 1584.3,328.7 1585.6,329.9 1586.9,330.3 1588.2,331.7 1589.5,332.0 1590.9,332.5 1592.2,332.0 1593.5,332.5 1594.8,333.7 1596.2,336.3 1597.5,336.4 1598.8,336.1 1600.1,334.9 1601.5,335.4 1602.8,335.7 1604.1,336.6 1605.4,336.9 1606.8,336.7 1608.1,336.6 1609.4,336.3 1610.7,335.3 1612.1,334.8 1613.4,336.1 1614.7,336.3 1616.0,336.6 1617.4,336.2 1618.7,336.9 1620.0,337.3 1621.3,337.2 1622.7,338.4 1624.0,339.2 1625.3,338.8 1626.6,337.6 1628.0,337.2 1629.3,337.0 1630.6,336.4 1631.9,337.0 1633.3,337.0 1634.6,338.3 1635.9,337.8 1637.2,338.2 1638.6,337.5 1639.9,335.8 1641.2,334.8 1642.5,334.0 1643.8,333.1 1645.2,331.8 1646.5,330.5 1647.8,329.9 1649.1,328.9 1650.5,327.2 1651.8,326.0 1653.1,325.0 1654.4,324.4 1655.8,323.8 1657.1,321.8 1658.4,318.9 1659.7,314.6 1661.1,310.0 1662.4,307.4 1663.7,305.8 1665.0,302.0 1666.4,297.4 1667.7,293.5 1669.0,291.0 1670.3,290.1 1671.7,290.5 1673.0,292.1 1674.3,293.2 1675.6,291.7 1677.0,293.1 1678.3,294.1 1679.6,296.6 1680.9,297.4 1682.3,298.8 1683.6,299.2 1684.9,298.9 1686.2,298.4 1687.6,299.9 1688.9,302.0 1690.2,303.0 1691.5,303.4 1692.9,303.6 1694.2,305.5 1695.5,304.3 1696.8,303.9 1698.2,304.2 1699.5,305.7 1700.8,306.3 1702.1,308.1 1703.4,310.1 1704.8,312.2 1706.1,311.0 1707.4,311.6 1708.7,312.4 1710.1,313.9 1711.4,313.5 1712.7,312.9 1714.0,314.5 1715.4,317.8 1716.7,318.8 1718.0,320.4 1719.3,321.4 1720.7,324.2 1722.0,324.0 1723.3,323.3 1724.6,323.2 1726.0,324.2 1727.3,324.4 1728.6,324.4 1729.9,322.3 1731.3,322.5 1732.6,323.3 1733.9,325.1 1735.2,323.8 1736.6,322.9 1737.9,323.4 1739.2,324.5 1740.5,323.8 1741.9,321.0 1743.2,320.6 1744.5,319.4 1745.8,318.8 1747.2,317.7 1748.5,317.5 1749.8,316.0 1751.1,313.7 1752.5,312.5 1753.8,313.3 1755.1,313.8 1756.4,314.9 1757.7,315.8 1759.1,318.2 1760.4,319.2 1761.7,320.4 1763.0,319.1 1764.4,320.6 1765.7,321.0 1767.0,323.2 1768.3,324.4 1769.7,325.4 1771.0,328.7 1772.3,329.3 1773.6,330.5 1775.0,331.5 1776.3,333.3 1777.6,334.0 1778.9,333.2 1780.3,333.9 1781.6,335.5 1782.9,336.1 1784.2,335.2 1785.6,334.7 1786.9,334.5 1788.2,335.5 1789.5,335.9 1790.9,334.7 1792.2,334.0 1793.5,333.5 1794.8,334.6 1796.2,335.7 1797.5,336.0 1798.8,334.1 1800.1,331.3 1801.5,329.2 1802.8,328.4 1804.1,326.0 1805.4,323.2 1806.8,320.1 1808.1,318.7 1809.4,317.0 1810.7,315.8 1812.1,314.1 1813.4,312.9 1814.7,311.5 1816.0,311.0 1817.3,311.3 1818.7,311.9 1820.0,311.7 1821.3,311.4 1822.6,310.8 1824.0,310.4 1825.3,310.9 1826.6,313.0 1827.9,313.6 1829.3,313.7 1830.6,312.8 1831.9,315.4 1833.2,315.0 1834.6,315.7 1835.9,315.5 1837.2,317.5 1838.5,318.2 1839.9,318.2 1841.2,318.1 1842.5,318.8 1843.8,317.5 1845.2,317.0 1846.5,315.8 1847.8,316.2 1849.1,317.3 1850.5,316.5 1851.8,316.2 1853.1,314.1 1854.4,313.3 1855.8,311.9 1857.1,309.0 1858.4,307.5 1859.7,305.9 1861.1,306.5 1862.4,306.3 1863.7,306.5 1865.0,308.4 1866.4,312.5 1867.7,315.9 1869.0,319.6" fill="none" stroke="#7F7F7F" stroke-width="4.2" stroke-linejoin="round"/>
</g>
<rect x="1473.0" y="1.0" width="396.0" height="365.0" fill="none" stroke="#000" stroke-width="2"/>
<line x1="1466.0" y1="353.7" x2="1473.0" y2="353.7" stroke="#000" stroke-width="2"/>
<text x="1461.5" y="361.4" font-size="24" text-anchor="end" fill="#000">50</text>
<line x1="1466.0" y1="287.5" x2="1473.0" y2="287.5" stroke="#000" stroke-width="2"/>
<text x="1461.5" y="295.2" font-size="24" text-anchor="end" fill="#000">100</text>
<line x1="1466.0" y1="221.3" x2="1473.0" y2="221.3" stroke="#000" stroke-width="2"/>
<text x="1461.5" y="229.0" font-size="24" text-anchor="end" fill="#000">150</text>
<line x1="1466.0" y1="155.1" x2="1473.0" y2="155.1" stroke="#000" stroke-width="2"/>
<text x="1461.5" y="162.8" font-size="24" text-anchor="end" fill="#000">200</text>
<line x1="1466.0" y1="88.9" x2="1473.0" y2="88.9" stroke="#000" stroke-width="2"/>
<text x="1461.5" y="96.6" font-size="24" text-anchor="end" fill="#000">250</text>
<line x1="1466.0" y1="22.7" x2="1473.0" y2="22.7" stroke="#000" stroke-width="2"/>
<text x="1461.5" y="30.4" font-size="24" text-anchor="end" fill="#000">300</text>
<line x1="1473.0" y1="366.0" x2="1473.0" y2="373.0" stroke="#000" stroke-width="2"/>
<text x="1477.0" y="395.0" font-size="23.5" text-anchor="middle" fill="#000">-2.5kb</text>
<line x1="1671.0" y1="366.0" x2="1671.0" y2="373.0" stroke="#000" stroke-width="2"/>
<text x="1671.0" y="395.0" font-size="23.5" text-anchor="middle" fill="#000">TSS</text>
<line x1="1869.0" y1="366.0" x2="1869.0" y2="373.0" stroke="#000" stroke-width="2"/>
<text x="1869.0" y="395.0" font-size="23.5" text-anchor="middle" fill="#000">2.5kb</text>
<rect x="1721.5" y="1.0" width="147.5" height="125.0" fill="#fff" stroke="#000" stroke-width="2"/>
<line x1="1733.0" y1="18.8" x2="1761.0" y2="18.8" stroke="#1B4FAA" stroke-width="5.5"/>
<text x="1767.0" y="21.5" font-size="24" fill="#000">H3K27ac</text>
<text x="1817.0" y="40.0" font-size="24" text-anchor="middle" fill="#000">(GF)</text>
<line x1="1733.0" y1="63.3" x2="1761.0" y2="63.3" stroke="#EE5A50" stroke-width="5"/>
<text x="1767.0" y="66.0" font-size="24" fill="#000">H3K27ac</text>
<text x="1815.5" y="85.0" font-size="24" text-anchor="middle" fill="#000">(Butyrate)</text>
<line x1="1733.0" y1="110.5" x2="1761.0" y2="110.5" stroke="#7F7F7F" stroke-width="5"/>
<text x="1771.0" y="117.5" font-size="24" fill="#000">IgG</text>
<text x="472.0" y="479.0" font-size="44" font-weight="bold" fill="#000">d</text>
<text x="773.5" y="483.0" font-size="33" text-anchor="middle" fill="#000">Feature Distribution</text>
<rect x="521.8" y="493.2" width="512.2" height="293.8" fill="#fff" stroke="none" stroke-width="1"/>
<line x1="521.8" y1="523.4" x2="1034.0" y2="523.4" stroke="#EBEBEB" stroke-width="1.5"/>
<line x1="521.8" y1="570.2" x2="1034.0" y2="570.2" stroke="#EBEBEB" stroke-width="1.5"/>
<line x1="521.8" y1="617.0" x2="1034.0" y2="617.0" stroke="#EBEBEB" stroke-width="1.5"/>
<line x1="521.8" y1="663.8" x2="1034.0" y2="663.8" stroke="#EBEBEB" stroke-width="1.5"/>
<line x1="521.8" y1="710.6" x2="1034.0" y2="710.6" stroke="#EBEBEB" stroke-width="1.5"/>
<line x1="521.8" y1="757.4" x2="1034.0" y2="757.4" stroke="#EBEBEB" stroke-width="1.5"/>
<rect x="540.9" y="503.4" width="255.0" height="40.0" fill="#E3817A" stroke="#111" stroke-width="1.6"/>
<rect x="795.9" y="503.4" width="141.4" height="40.0" fill="#F8E1A6" stroke="#111" stroke-width="1.6"/>
<rect x="937.4" y="503.4" width="34.0" height="40.0" fill="#9EA9D4" stroke="#111" stroke-width="1.6"/>
<rect x="971.4" y="503.4" width="31.2" height="40.0" fill="#E6E8E0" stroke="#111" stroke-width="1.6"/>
<rect x="1002.6" y="503.4" width="2.9" height="40.0" fill="#A8A8A8" stroke="#111" stroke-width="1.6"/>
<rect x="1005.4" y="503.4" width="14.9" height="40.0" fill="#3E4461" stroke="#111" stroke-width="1.6"/>
<rect x="540.9" y="550.2" width="257.9" height="40.0" fill="#E3817A" stroke="#111" stroke-width="1.6"/>
<rect x="798.8" y="550.2" width="140.0" height="40.0" fill="#F8E1A6" stroke="#111" stroke-width="1.6"/>
<rect x="938.8" y="550.2" width="33.6" height="40.0" fill="#9EA9D4" stroke="#111" stroke-width="1.6"/>
<rect x="972.4" y="550.2" width="30.7" height="40.0" fill="#E6E8E0" stroke="#111" stroke-width="1.6"/>
<rect x="1003.0" y="550.2" width="2.4" height="40.0" fill="#A8A8A8" stroke="#111" stroke-width="1.6"/>
<rect x="1005.4" y="550.2" width="14.9" height="40.0" fill="#3E4461" stroke="#111" stroke-width="1.6"/>
<rect x="540.9" y="597.0" width="256.0" height="40.0" fill="#E3817A" stroke="#111" stroke-width="1.6"/>
<rect x="796.9" y="597.0" width="140.9" height="40.0" fill="#F8E1A6" stroke="#111" stroke-width="1.6"/>
<rect x="937.8" y="597.0" width="33.1" height="40.0" fill="#9EA9D4" stroke="#111" stroke-width="1.6"/>
<rect x="970.9" y="597.0" width="32.1" height="40.0" fill="#E6E8E0" stroke="#111" stroke-width="1.6"/>
<rect x="1003.0" y="597.0" width="2.4" height="40.0" fill="#A8A8A8" stroke="#111" stroke-width="1.6"/>
<rect x="1005.4" y="597.0" width="14.9" height="40.0" fill="#3E4461" stroke="#111" stroke-width="1.6"/>
<rect x="540.9" y="643.8" width="255.0" height="40.0" fill="#E3817A" stroke="#111" stroke-width="1.6"/>
<rect x="795.9" y="643.8" width="140.9" height="40.0" fill="#F8E1A6" stroke="#111" stroke-width="1.6"/>
<rect x="936.9" y="643.8" width="33.6" height="40.0" fill="#9EA9D4" stroke="#111" stroke-width="1.6"/>
<rect x="970.4" y="643.8" width="32.6" height="40.0" fill="#E6E8E0" stroke="#111" stroke-width="1.6"/>
<rect x="1003.0" y="643.8" width="2.4" height="40.0" fill="#A8A8A8" stroke="#111" stroke-width="1.6"/>
<rect x="1005.4" y="643.8" width="14.9" height="40.0" fill="#3E4461" stroke="#111" stroke-width="1.6"/>
<rect x="540.9" y="690.6" width="248.3" height="40.0" fill="#E3817A" stroke="#111" stroke-width="1.6"/>
<rect x="789.2" y="690.6" width="146.7" height="40.0" fill="#F8E1A6" stroke="#111" stroke-width="1.6"/>
<rect x="935.9" y="690.6" width="34.0" height="40.0" fill="#9EA9D4" stroke="#111" stroke-width="1.6"/>
<rect x="970.0" y="690.6" width="33.1" height="40.0" fill="#E6E8E0" stroke="#111" stroke-width="1.6"/>
<rect x="1003.0" y="690.6" width="2.4" height="40.0" fill="#A8A8A8" stroke="#111" stroke-width="1.6"/>
<rect x="1005.4" y="690.6" width="14.9" height="40.0" fill="#3E4461" stroke="#111" stroke-width="1.6"/>
<rect x="540.9" y="737.4" width="252.2" height="40.0" fill="#E3817A" stroke="#111" stroke-width="1.6"/>
<rect x="793.1" y="737.4" width="141.4" height="40.0" fill="#F8E1A6" stroke="#111" stroke-width="1.6"/>
<rect x="934.5" y="737.4" width="33.6" height="40.0" fill="#9EA9D4" stroke="#111" stroke-width="1.6"/>
<rect x="968.0" y="737.4" width="34.0" height="40.0" fill="#E6E8E0" stroke="#111" stroke-width="1.6"/>
<rect x="1002.1" y="737.4" width="2.9" height="40.0" fill="#A8A8A8" stroke="#111" stroke-width="1.6"/>
<rect x="1005.0" y="737.4" width="15.3" height="40.0" fill="#3E4461" stroke="#111" stroke-width="1.6"/>
<rect x="521.8" y="493.2" width="512.2" height="293.8" fill="none" stroke="#333" stroke-width="1.6"/>
<rect x="474.2" y="493.2" width="41.1" height="144.3" fill="#7FA4D8" stroke="#222" stroke-width="1.6"/>
<rect x="474.2" y="642.8" width="41.1" height="144.2" fill="#F0968E" stroke="#222" stroke-width="1.6"/>
<text x="504.5" y="569.4" font-size="28" text-anchor="middle" fill="#111" transform="rotate(-90 504.5 569.4)">GF</text>
<text x="504.5" y="714.9" font-size="28" text-anchor="middle" fill="#111" transform="rotate(-90 504.5 714.9)">Butyrate</text>
<line x1="540.9" y1="787.0" x2="540.9" y2="792.5" stroke="#333" stroke-width="1.6"/>
<text x="540.9" y="816.4" font-size="23.5" text-anchor="middle" fill="#2b2020">0</text>
<line x1="660.8" y1="787.0" x2="660.8" y2="792.5" stroke="#333" stroke-width="1.6"/>
<text x="660.8" y="816.4" font-size="23.5" text-anchor="middle" fill="#2b2020">25</text>
<line x1="780.6" y1="787.0" x2="780.6" y2="792.5" stroke="#333" stroke-width="1.6"/>
<text x="780.6" y="816.4" font-size="23.5" text-anchor="middle" fill="#2b2020">50</text>
<line x1="900.5" y1="787.0" x2="900.5" y2="792.5" stroke="#333" stroke-width="1.6"/>
<text x="900.5" y="816.4" font-size="23.5" text-anchor="middle" fill="#2b2020">75</text>
<line x1="1020.3" y1="787.0" x2="1020.3" y2="792.5" stroke="#333" stroke-width="1.6"/>
<text x="1020.3" y="816.4" font-size="23.5" text-anchor="middle" fill="#2b2020">100</text>
<text x="787.5" y="847.0" font-size="31.2" text-anchor="middle" fill="#000">Percentage (%)</text>
<text x="1045.0" y="554.0" font-size="31" fill="#000">Feature</text>
<rect x="1046.3" y="568.4" width="22.7" height="22.4" fill="#E3817A" stroke="#111" stroke-width="1.6"/>
<text x="1076.0" y="587.6" font-size="23.5" fill="#000">Promoter</text>
<rect x="1046.3" y="594.3" width="22.7" height="22.4" fill="#F8E1A6" stroke="#111" stroke-width="1.6"/>
<text x="1076.0" y="613.5" font-size="23.5" fill="#000">Intron</text>
<rect x="1046.3" y="620.2" width="22.7" height="22.4" fill="#9EA9D4" stroke="#111" stroke-width="1.6"/>
<text x="1076.0" y="639.4" font-size="23.5" fill="#000">Intergenic</text>
<rect x="1046.3" y="646.1" width="22.7" height="22.4" fill="#E6E8E0" stroke="#111" stroke-width="1.6"/>
<text x="1076.0" y="665.3" font-size="23.5" fill="#000">Exon</text>
<rect x="1046.3" y="672.0" width="22.7" height="22.4" fill="#A8A8A8" stroke="#111" stroke-width="1.6"/>
<text x="1076.0" y="691.2" font-size="23.5" fill="#000">5’UTR</text>
<rect x="1046.3" y="697.9" width="22.7" height="22.4" fill="#3E4461" stroke="#111" stroke-width="1.6"/>
<text x="1076.0" y="717.1" font-size="23.5" fill="#000">3’UTR</text>
<text x="1204.0" y="477.6" font-size="44" font-weight="bold" fill="#000">e</text>
<text x="1776.5" y="445.6" font-size="31.6" text-anchor="middle" fill="#000">Upregulated pathways</text>
<line x1="1551.0" y1="491.3" x2="2005.0" y2="491.3" stroke="#EBEBEB" stroke-width="2"/>
<line x1="1551.0" y1="534.6" x2="2005.0" y2="534.6" stroke="#EBEBEB" stroke-width="2"/>
<line x1="1551.0" y1="577.8" x2="2005.0" y2="577.8" stroke="#EBEBEB" stroke-width="2"/>
<line x1="1551.0" y1="621.0" x2="2005.0" y2="621.0" stroke="#EBEBEB" stroke-width="2"/>
<line x1="1551.0" y1="664.2" x2="2005.0" y2="664.2" stroke="#EBEBEB" stroke-width="2"/>
<line x1="1551.0" y1="707.4" x2="2005.0" y2="707.4" stroke="#EBEBEB" stroke-width="2"/>
<line x1="1551.0" y1="750.2" x2="2005.0" y2="750.2" stroke="#EBEBEB" stroke-width="2"/>
<line x1="1654.1" y1="462.0" x2="1654.1" y2="779.0" stroke="#E36B63" stroke-width="2" stroke-dasharray="7,5"/>
<circle cx="1978.2" cy="491.3" r="20.0" fill="#9B1B27" stroke="#1a1a1a" stroke-width="2"/>
<circle cx="1807.8" cy="534.6" r="11.2" fill="#C8685F" stroke="#1a1a1a" stroke-width="2"/>
<circle cx="1745.6" cy="577.8" r="12.5" fill="#D98B80" stroke="#1a1a1a" stroke-width="2"/>
<circle cx="1679.6" cy="621.0" r="13.4" fill="#E8AA9A" stroke="#1a1a1a" stroke-width="2"/>
<circle cx="1624.6" cy="664.2" r="5.3" fill="#F3C3AF" stroke="#1a1a1a" stroke-width="2"/>
<circle cx="1580.7" cy="707.4" r="14.2" fill="#FCDDCB" stroke="#1a1a1a" stroke-width="2"/>
<circle cx="1573.4" cy="750.2" r="13.4" fill="#FDE1D2" stroke="#1a1a1a" stroke-width="2"/>
<path d="M2005,462 H1551 V779 H2005" fill="none" stroke="#333" stroke-width="2"/>
<line x1="1545.0" y1="491.3" x2="1551.0" y2="491.3" stroke="#333" stroke-width="1.6"/>
<text x="1543.3" y="498.6" font-size="23.8" text-anchor="end" fill="#2b2020">Tyrosine metabolism</text>
<line x1="1545.0" y1="534.6" x2="1551.0" y2="534.6" stroke="#333" stroke-width="1.6"/>
<text x="1543.3" y="541.9" font-size="23.8" text-anchor="end" fill="#2b2020">Glycerophospholipid metabolism</text>
<line x1="1545.0" y1="577.8" x2="1551.0" y2="577.8" stroke="#333" stroke-width="1.6"/>
<text x="1543.3" y="585.1" font-size="23.8" text-anchor="end" fill="#2b2020">Glycerolipid metabolism</text>
<line x1="1545.0" y1="621.0" x2="1551.0" y2="621.0" stroke="#333" stroke-width="1.6"/>
<text x="1543.3" y="628.3" font-size="23.8" text-anchor="end" fill="#2b2020">Dorso−ventral axis formation</text>
<line x1="1545.0" y1="664.2" x2="1551.0" y2="664.2" stroke="#333" stroke-width="1.6"/>
<text x="1543.3" y="671.5" font-size="23.8" text-anchor="end" fill="#2b2020">MAPK signaling pathway − fly</text>
<line x1="1545.0" y1="707.4" x2="1551.0" y2="707.4" stroke="#333" stroke-width="1.6"/>
<text x="1543.3" y="714.7" font-size="23.8" text-anchor="end" fill="#2b2020">Fatty acid biosynthesis</text>
<line x1="1545.0" y1="750.2" x2="1551.0" y2="750.2" stroke="#333" stroke-width="1.6"/>
<text x="1543.3" y="757.5" font-size="23.8" text-anchor="end" fill="#2b2020">alpha−Linolenic acid metabolism</text>
<line x1="1599.0" y1="779.0" x2="1599.0" y2="785.0" stroke="#333" stroke-width="1.6"/>
<text x="1599.0" y="806.5" font-size="23" text-anchor="middle" fill="#2b2020">1.0</text>
<line x1="1690.6" y1="779.0" x2="1690.6" y2="785.0" stroke="#333" stroke-width="1.6"/>
<text x="1690.6" y="806.5" font-size="23" text-anchor="middle" fill="#2b2020">1.5</text>
<line x1="1782.2" y1="779.0" x2="1782.2" y2="785.0" stroke="#333" stroke-width="1.6"/>
<text x="1782.2" y="806.5" font-size="23" text-anchor="middle" fill="#2b2020">2.0</text>
<line x1="1873.8" y1="779.0" x2="1873.8" y2="785.0" stroke="#333" stroke-width="1.6"/>
<text x="1873.8" y="806.5" font-size="23" text-anchor="middle" fill="#2b2020">2.5</text>
<line x1="1965.4" y1="779.0" x2="1965.4" y2="785.0" stroke="#333" stroke-width="1.6"/>
<text x="1965.4" y="806.5" font-size="23" text-anchor="middle" fill="#2b2020">3.0</text>
<text x="1776.5" y="843.0" font-size="31.4" text-anchor="middle" fill="#000">−log10(Pvalue)</text>
<text x="1208.0" y="832.0" font-size="23.8" fill="#000">Enrichment Ratio</text>
<circle cx="1419.8" cy="815.0" r="12.4" fill="#fff" stroke="#111" stroke-width="1.8"/>
<text x="1419.8" y="849.0" font-size="23" text-anchor="middle" fill="#2b2020">6</text>
<circle cx="1458.4" cy="812.0" r="15.1" fill="#fff" stroke="#111" stroke-width="1.8"/>
<text x="1458.4" y="849.0" font-size="23" text-anchor="middle" fill="#2b2020">9</text>
<circle cx="1501.0" cy="810.0" r="17.8" fill="#fff" stroke="#111" stroke-width="1.8"/>
<text x="1501.0" y="849.0" font-size="23" text-anchor="middle" fill="#2b2020">12</text>
<text x="13.0" y="822.0" font-size="44" font-weight="bold" fill="#000">f</text>
<text x="8.0" y="865.7" font-size="23.6">Acyl-glycerol 3-phosphate</text>
<text x="-1.0" y="996.3" font-size="23.6">Diacyl-glycerol 3-phosphate</text>
<text x="60.0" y="1052.6" font-size="23.6">Diacylglycerol</text>
<text x="27.5" y="1108.4" font-size="23.6">Phosphatidylcholine</text>
<text x="51.0" y="1186.2" font-size="23.6">Arachidonic acid</text>
<text x="98.5" y="1247.0" font-size="23.6">PGs</text>
<line x1="121.7" y1="874.6" x2="121.7" y2="975.0" stroke="#231815" stroke-width="2"/><path d="M116.2,966 L121.7,977 L127.2,966" fill="none" stroke="#231815" stroke-width="2"/>
<line x1="121.7" y1="1004.6" x2="121.7" y2="1029.9" stroke="#231815" stroke-width="2"/><path d="M116.2,1020.9000000000001 L121.7,1031.9 L127.2,1020.9000000000001" fill="none" stroke="#231815" stroke-width="2"/>
<line x1="121.7" y1="1061.0" x2="121.7" y2="1086.2" stroke="#231815" stroke-width="2"/><path d="M116.2,1077.2 L121.7,1088.2 L127.2,1077.2" fill="none" stroke="#231815" stroke-width="2"/>
<line x1="121.7" y1="1115.0" x2="121.7" y2="1163.4" stroke="#231815" stroke-width="2"/><path d="M116.2,1154.4 L121.7,1165.4 L127.2,1154.4" fill="none" stroke="#231815" stroke-width="2"/>
<line x1="121.7" y1="1192.1" x2="121.7" y2="1225.7" stroke="#231815" stroke-width="2"/><path d="M116.2,1216.7 L121.7,1227.7 L127.2,1216.7" fill="none" stroke="#231815" stroke-width="2"/>
<rect x="131.7" y="884.4" width="39.5" height="24.6" fill="#F7E3B5" stroke="#231815" stroke-width="1.6"/>
<rect x="171.2" y="884.4" width="39.5" height="24.6" fill="#F5DBA0" stroke="#231815" stroke-width="1.6"/>
<rect x="210.7" y="884.4" width="39.7" height="24.6" fill="#FAF8FC" stroke="#231815" stroke-width="1.6"/>
<rect x="250.4" y="884.4" width="39.5" height="24.6" fill="#DDD2E8" stroke="#231815" stroke-width="1.6"/>
<rect x="289.9" y="884.4" width="39.4" height="24.6" fill="#F0ECF6" stroke="#231815" stroke-width="1.6"/>
<rect x="329.3" y="884.4" width="39.8" height="24.6" fill="#7E4CA0" stroke="#231815" stroke-width="1.6"/>
<rect x="131.7" y="909.0" width="39.5" height="24.4" fill="#FAEDD4" stroke="#231815" stroke-width="1.6"/>
<rect x="171.2" y="909.0" width="39.5" height="24.4" fill="#F4D394" stroke="#231815" stroke-width="1.6"/>
<rect x="210.7" y="909.0" width="39.7" height="24.4" fill="#FDF9F0" stroke="#231815" stroke-width="1.6"/>
<rect x="250.4" y="909.0" width="39.5" height="24.4" fill="#EDE7F3" stroke="#231815" stroke-width="1.6"/>
<rect x="289.9" y="909.0" width="39.4" height="24.4" fill="#AC8EC5" stroke="#231815" stroke-width="1.6"/>
<rect x="329.3" y="909.0" width="39.8" height="24.4" fill="#9B73B8" stroke="#231815" stroke-width="1.6"/>
<rect x="131.7" y="933.4" width="39.5" height="24.3" fill="#F3D596" stroke="#231815" stroke-width="1.6"/>
<rect x="171.2" y="933.4" width="39.5" height="24.3" fill="#F6DEAA" stroke="#231815" stroke-width="1.6"/>
<rect x="210.7" y="933.4" width="39.7" height="24.3" fill="#D2C1E1" stroke="#231815" stroke-width="1.6"/>
<rect x="250.4" y="933.4" width="39.5" height="24.3" fill="#E4DAEE" stroke="#231815" stroke-width="1.6"/>
<rect x="289.9" y="933.4" width="39.4" height="24.3" fill="#E2D8EC" stroke="#231815" stroke-width="1.6"/>
<rect x="329.3" y="933.4" width="39.8" height="24.3" fill="#9E76B9" stroke="#231815" stroke-width="1.6"/>
<rect x="131.7" y="1128.3" width="39.5" height="24.6" fill="#F7E3B5" stroke="#231815" stroke-width="1.6"/>
<rect x="171.2" y="1128.3" width="39.5" height="24.6" fill="#F5DBA0" stroke="#231815" stroke-width="1.6"/>
<rect x="210.7" y="1128.3" width="39.7" height="24.6" fill="#FFFFFF" stroke="#231815" stroke-width="1.6"/>
<rect x="250.4" y="1128.3" width="39.5" height="24.6" fill="#FBFAFD" stroke="#231815" stroke-width="1.6"/>
<rect x="289.9" y="1128.3" width="39.4" height="24.6" fill="#AE90C7" stroke="#231815" stroke-width="1.6"/>
<rect x="329.3" y="1128.3" width="39.8" height="24.6" fill="#8D62AF" stroke="#231815" stroke-width="1.6"/>
<text x="381.5" y="904.3" font-size="23.8" font-style="italic">LOC724907</text>
<text x="381.5" y="928.9" font-size="23.8" font-style="italic">LOC724951</text>
<text x="381.5" y="953.3" font-size="23.8" font-style="italic">LOC724995</text>
<text x="381.5" y="1147.6" font-size="23.8" font-style="italic">LOC725668</text>
<rect x="262.9" y="1161.0" width="39.6" height="24.6" fill="#fff" stroke="#231815" stroke-width="1.6"/>
<rect x="302.5" y="1161.0" width="39.6" height="24.6" fill="#fff" stroke="#231815" stroke-width="1.6"/>
<rect x="342.1" y="1161.0" width="39.6" height="24.6" fill="#fff" stroke="#231815" stroke-width="1.6"/>
<rect x="381.8" y="1161.0" width="39.6" height="24.6" fill="#fff" stroke="#231815" stroke-width="1.6"/>
<rect x="421.4" y="1161.0" width="39.6" height="24.6" fill="#fff" stroke="#231815" stroke-width="1.6"/>
<rect x="461.0" y="1161.0" width="39.6" height="24.6" fill="#fff" stroke="#231815" stroke-width="1.6"/>
<text x="294.7" y="1197.0" font-size="23.6" text-anchor="end" transform="rotate(-45 294.7 1197.0)">GF-1</text>
<text x="334.3" y="1197.0" font-size="23.6" text-anchor="end" transform="rotate(-45 334.3 1197.0)">GF-2</text>
<text x="373.9" y="1197.0" font-size="23.6" text-anchor="end" transform="rotate(-45 373.9 1197.0)">GF-3</text>
<text x="413.6" y="1197.0" font-size="23.6" text-anchor="end" transform="rotate(-45 413.6 1197.0)">Butyrate-1</text>
<text x="453.2" y="1197.0" font-size="23.6" text-anchor="end" transform="rotate(-45 453.2 1197.0)">Butyrate-2</text>
<text x="492.8" y="1197.0" font-size="23.6" text-anchor="end" transform="rotate(-45 492.8 1197.0)">Butyrate-3</text>
<defs><linearGradient id="hmgrad" x1="0" x2="1" y1="0" y2="0"><stop offset="0" stop-color="#F3D08C"/><stop offset="0.25" stop-color="#F8E4BC"/><stop offset="0.5" stop-color="#FFFFFF"/><stop offset="0.75" stop-color="#C4AEDA"/><stop offset="1" stop-color="#7E4CA0"/></linearGradient></defs>
<rect x="130.6" y="1281.1" width="240.3" height="24.3" fill="url(#hmgrad)" stroke="none" stroke-width="1"/>
<text x="124.0" y="1330.0" font-size="23.5" text-anchor="middle" fill="#000">-1.5</text>
<text x="166.6" y="1330.0" font-size="23.5" text-anchor="middle" fill="#000">-1</text>
<text x="208.4" y="1330.0" font-size="23.5" text-anchor="middle" fill="#000">-0.5</text>
<text x="250.3" y="1330.0" font-size="23.5" text-anchor="middle" fill="#000">0</text>
<text x="288.3" y="1330.0" font-size="23.5" text-anchor="middle" fill="#000">0.5</text>
<text x="326.5" y="1330.0" font-size="23.5" text-anchor="middle" fill="#000">1</text>
<text x="368.3" y="1330.0" font-size="23.5" text-anchor="middle" fill="#000">1.5</text>
<text x="566.0" y="944.5" font-size="44" font-weight="bold" fill="#000">g</text>
<rect x="827.0" y="989.8" width="14.5" height="244.9" fill="#FCEFCF" stroke="none" stroke-width="1"/>
<rect x="1007.5" y="989.8" width="14.5" height="244.9" fill="#FCEFCF" stroke="none" stroke-width="1"/>
<polygon points="630.0,1099.0 630.0,1099.0 632.0,1099.0 632.0,1099.0 634.0,1099.0 634.0,1099.0 636.0,1099.0 636.0,1092.6 638.0,1092.6 638.0,1067.9 640.0,1067.9 640.0,1046.5 642.0,1046.5 642.0,1007.0 644.0,1007.0 644.0,1007.0 646.0,1007.0 646.0,1009.0 648.0,1009.0 648.0,1058.4 650.0,1058.4 650.0,1068.1 652.0,1068.1 652.0,1074.2 654.0,1074.2 654.0,1070.1 656.0,1070.1 656.0,1071.1 658.0,1071.1 658.0,1072.9 660.0,1072.9 660.0,1074.2 662.0,1074.2 662.0,1079.2 664.0,1079.2 664.0,1089.0 666.0,1089.0 666.0,1095.5 668.0,1095.5 668.0,1099.0 670.0,1099.0 670.0,1099.0 672.0,1099.0 672.0,1099.0 674.0,1099.0 674.0,1099.0 676.0,1099.0 676.0,1099.0 678.0,1099.0 678.0,1097.5 680.0,1097.5 680.0,1094.6 682.0,1094.6 682.0,1091.9 684.0,1091.9 684.0,1092.5 686.0,1092.5 686.0,1095.0 688.0,1095.0 688.0,1097.0 690.0,1097.0 690.0,1099.0 692.0,1099.0 692.0,1099.0 694.0,1099.0 694.0,1099.0 696.0,1099.0 696.0,1096.7 698.0,1096.7 698.0,1091.9 700.0,1091.9 700.0,1086.6 702.0,1086.6 702.0,1082.0 704.0,1082.0 704.0,1084.6 706.0,1084.6 706.0,1092.6 708.0,1092.6 708.0,1097.0 710.0,1097.0 710.0,1099.0 712.0,1099.0 712.0,1099.0 714.0,1099.0 714.0,1099.0 716.0,1099.0 716.0,1099.0 718.0,1099.0 718.0,1099.0 720.0,1099.0 720.0,1099.0 722.0,1099.0 722.0,1099.0 724.0,1099.0 724.0,1099.0 726.0,1099.0 726.0,1099.0 728.0,1099.0 728.0,1099.0 730.0,1099.0 730.0,1099.0 732.0,1099.0 732.0,1099.0 734.0,1099.0 734.0,1099.0 736.0,1099.0 736.0,1099.0 738.0,1099.0 738.0,1099.0 740.0,1099.0 740.0,1099.0 742.0,1099.0 742.0,1099.0 744.0,1099.0 744.0,1099.0 746.0,1099.0 746.0,1099.0 748.0,1099.0 748.0,1099.0 750.0,1099.0 750.0,1099.0 752.0,1099.0 752.0,1099.0 754.0,1099.0 754.0,1099.0 756.0,1099.0 756.0,1099.0 758.0,1099.0 758.0,1099.0 760.0,1099.0 760.0,1099.0 762.0,1099.0 762.0,1099.0 764.0,1099.0 764.0,1099.0 766.0,1099.0 766.0,1099.0 768.0,1099.0 768.0,1099.0 770.0,1099.0 770.0,1099.0 772.0,1099.0 772.0,1099.0 774.0,1099.0 774.0,1099.0 776.0,1099.0 776.0,1099.0 778.0,1099.0 778.0,1099.0 780.0,1099.0 780.0,1099.0 782.0,1099.0 782.0,1098.1 784.0,1098.1 784.0,1096.8 786.0,1096.8 786.0,1095.9 788.0,1095.9 788.0,1095.3 790.0,1095.3 790.0,1095.5 792.0,1095.5 792.0,1094.8 794.0,1094.8 794.0,1096.5 796.0,1096.5 796.0,1096.9 798.0,1096.9 798.0,1097.2 800.0,1097.2 800.0,1096.8 802.0,1096.8 802.0,1092.4 804.0,1092.4 804.0,1088.1 806.0,1088.1 806.0,1082.5 808.0,1082.5 808.0,1083.9 810.0,1083.9 810.0,1090.8 812.0,1090.8 812.0,1097.3 814.0,1097.3 814.0,1099.0 816.0,1099.0 816.0,1099.0 818.0,1099.0 818.0,1099.0 820.0,1099.0 820.0,1099.0 822.0,1099.0 822.0,1099.0 824.0,1099.0 824.0,1098.2 826.0,1098.2 826.0,1097.3 828.0,1097.3 828.0,1096.2 830.0,1096.2 830.0,1095.0 832.0,1095.0 832.0,1093.2 834.0,1093.2 834.0,1092.8 836.0,1092.8 836.0,1093.5 838.0,1093.5 838.0,1094.8 840.0,1094.8 840.0,1096.5 842.0,1096.5 842.0,1097.4 844.0,1097.4 844.0,1098.1 846.0,1098.1 846.0,1099.0 848.0,1099.0 848.0,1099.0 850.0,1099.0 850.0,1099.0 852.0,1099.0 852.0,1099.0 854.0,1099.0 854.0,1097.9 856.0,1097.9 856.0,1097.2 858.0,1097.2 858.0,1096.1 860.0,1096.1 860.0,1095.0 862.0,1095.0 862.0,1091.2 864.0,1091.2 864.0,1087.9 866.0,1087.9 866.0,1090.4 868.0,1090.4 868.0,1090.1 870.0,1090.1 870.0,1089.5 872.0,1089.5 872.0,1092.2 874.0,1092.2 874.0,1093.1 876.0,1093.1 876.0,1094.2 878.0,1094.2 878.0,1094.4 880.0,1094.4 880.0,1093.9 882.0,1093.9 882.0,1094.0 884.0,1094.0 884.0,1092.9 886.0,1092.9 886.0,1093.4 888.0,1093.4 888.0,1092.7 890.0,1092.7 890.0,1094.7 892.0,1094.7 892.0,1094.6 894.0,1094.6 894.0,1094.0 896.0,1094.0 896.0,1095.6 898.0,1095.6 898.0,1096.1 900.0,1096.1 900.0,1096.9 902.0,1096.9 902.0,1097.5 904.0,1097.5 904.0,1098.1 906.0,1098.1 906.0,1099.0 908.0,1099.0 908.0,1099.0 910.0,1099.0 910.0,1099.0 912.0,1099.0 912.0,1099.0 914.0,1099.0 914.0,1099.0 916.0,1099.0 916.0,1099.0 918.0,1099.0 918.0,1099.0 920.0,1099.0 920.0,1099.0 922.0,1099.0 922.0,1099.0 924.0,1099.0 924.0,1099.0 926.0,1099.0 926.0,1099.0 928.0,1099.0 928.0,1098.0 930.0,1098.0 930.0,1097.6 932.0,1097.6 932.0,1096.9 934.0,1096.9 934.0,1096.6 936.0,1096.6 936.0,1096.6 938.0,1096.6 938.0,1096.3 940.0,1096.3 940.0,1095.3 942.0,1095.3 942.0,1095.8 944.0,1095.8 944.0,1095.7 946.0,1095.7 946.0,1096.0 948.0,1096.0 948.0,1097.1 950.0,1097.1 950.0,1097.1 952.0,1097.1 952.0,1097.1 954.0,1097.1 954.0,1096.9 956.0,1096.9 956.0,1096.5 958.0,1096.5 958.0,1095.9 960.0,1095.9 960.0,1095.2 962.0,1095.2 962.0,1095.2 964.0,1095.2 964.0,1093.8 966.0,1093.8 966.0,1093.7 968.0,1093.7 968.0,1092.9 970.0,1092.9 970.0,1093.5 972.0,1093.5 972.0,1093.3 974.0,1093.3 974.0,1093.9 976.0,1093.9 976.0,1094.5 978.0,1094.5 978.0,1092.7 980.0,1092.7 980.0,1088.2 982.0,1088.2 982.0,1086.4 984.0,1086.4 984.0,1089.7 986.0,1089.7 986.0,1095.4 988.0,1095.4 988.0,1098.0 990.0,1098.0 990.0,1099.0 992.0,1099.0 992.0,1099.0 994.0,1099.0 994.0,1099.0 996.0,1099.0 996.0,1099.0 998.0,1099.0 998.0,1099.0 1000.0,1099.0 1000.0,1099.0 1002.0,1099.0 1002.0,1099.0 1004.0,1099.0 1004.0,1099.0 1006.0,1099.0 1006.0,1099.0 1008.0,1099.0 1008.0,1099.0 1010.0,1099.0 1010.0,1096.9 1012.0,1096.9 1012.0,1093.8 1014.0,1093.8 1014.0,1088.6 1016.0,1088.6 1016.0,1089.9 1018.0,1089.9 1018.0,1093.9 1020.0,1093.9 1020.0,1096.1 1022.0,1096.1 1022.0,1097.6 1024.0,1097.6 1024.0,1096.5 1026.0,1096.5 1026.0,1096.6 1028.0,1096.6 1028.0,1095.1 1030.0,1095.1 1030.0,1094.7 1032.0,1094.7 1032.0,1096.0 1034.0,1096.0 1034.0,1096.0 1036.0,1096.0 1036.0,1096.8 1038.0,1096.8 1038.0,1097.8 1040.0,1097.8 1040.0,1099.0 1042.0,1099.0 1042.0,1099.0 1044.0,1099.0 1044.0,1099.0 1046.0,1099.0 1046.0,1099.0 1048.0,1099.0 1048.0,1099.0 1050.0,1099.0 1050.0,1099.0 1052.0,1099.0 1052.0,1099.0 1054.0,1099.0 1054.0,1099.0 1056.0,1099.0 1056.0,1099.0 1058.0,1099.0 1058.0,1099.0 1060.0,1099.0 1060.0,1099.0 1062.0,1099.0 1062.0,1099.0 1064.0,1099.0 1064.0,1099.0 1066.0,1099.0 1066.0,1099.0 1068.0,1099.0 1068.0,1099.0 1070.0,1099.0 1070.0,1099.0 1072.0,1099.0 1072.0,1099.0 1074.0,1099.0 1074.0,1098.1 1076.0,1098.1 1076.0,1097.7 1078.0,1097.7 1078.0,1095.8 1080.0,1095.8 1080.0,1094.8 1082.0,1094.8 1082.0,1092.8 1084.0,1092.8 1084.0,1092.1 1086.0,1092.1 1086.0,1091.3 1088.0,1091.3 1088.0,1090.5 1090.0,1090.5 1090.0,1088.9 1092.0,1088.9 1092.0,1088.0 1094.0,1088.0 1094.0,1088.4 1096.0,1088.4 1096.0,1083.2 1098.0,1083.2 1098.0,1081.9 1100.0,1081.9 1100.0,1084.4 1102.0,1084.4 1102.0,1082.4 1104.0,1082.4 1104.0,1087.3 1106.0,1087.3 1106.0,1093.4 1108.0,1093.4 1108.0,1096.5 1110.0,1096.5 1110.0,1098.1 1112.0,1098.1 1112.0,1099.0 1114.0,1099.0 1114.0,1099.0 1116.0,1099.0 1116.0,1099.0 1118.0,1099.0 1118.0,1099.0 1120.0,1099.0 1120.0,1098.1 1122.0,1098.1 1122.0,1094.8 1124.0,1094.8 1124.0,1088.0 1126.0,1088.0 1126.0,1085.5 1128.0,1085.5 1128.0,1083.6 1130.0,1083.6 1130.0,1088.7 1132.0,1088.7 1132.0,1094.5 1134.0,1094.5 1134.0,1096.8 1136.0,1096.8 1136.0,1097.1 1138.0,1097.1 1138.0,1096.0 1140.0,1096.0 1140.0,1095.1 1142.0,1095.1 1142.0,1095.7 1144.0,1095.7 1144.0,1096.5 1146.0,1096.5 1146.0,1095.8 1148.0,1095.8 1148.0,1093.6 1150.0,1093.6 1150.0,1089.7 1152.0,1089.7 1152.0,1082.5 1154.0,1082.5 1154.0,1059.2 1156.0,1059.2 1156.0,1052.2 1158.0,1052.2 1158.0,1021.0 1160.0,1021.0 1160.0,1017.2 1162.0,1017.2 1162.0,1027.7 1164.0,1027.7 1164.0,1007.0 1166.0,1007.0 1166.0,1015.8 1168.0,1015.8 1168.0,1036.2 1170.0,1036.2 1170.0,1032.5 1172.0,1032.5 1172.0,1053.0 1174.0,1053.0 1174.0,1072.0 1176.0,1072.0 1176.0,1077.7 1178.0,1077.7 1178.0,1084.3 1180.0,1084.3 1180.0,1090.3 1182.0,1090.3 1182.0,1094.7 1184.0,1094.7 1184.0,1097.0 1186.0,1097.0 1186.0,1098.1 1188.0,1098.1 1186.0,1099.0" fill="#7DA2D8" stroke="none" stroke-width="1"/>
<line x1="630.0" y1="1098.8" x2="1187.0" y2="1098.8" stroke="#3A6CC0" stroke-width="1.6"/>
<polygon points="630.0,1223.0 630.0,1223.0 632.0,1223.0 632.0,1223.0 634.0,1223.0 634.0,1222.1 636.0,1222.1 636.0,1214.8 638.0,1214.8 638.0,1191.0 640.0,1191.0 640.0,1185.5 642.0,1185.5 642.0,1156.3 644.0,1156.3 644.0,1156.4 646.0,1156.4 646.0,1165.9 648.0,1165.9 648.0,1169.4 650.0,1169.4 650.0,1195.6 652.0,1195.6 652.0,1196.6 654.0,1196.6 654.0,1200.6 656.0,1200.6 656.0,1191.8 658.0,1191.8 658.0,1198.1 660.0,1198.1 660.0,1195.9 662.0,1195.9 662.0,1205.2 664.0,1205.2 664.0,1213.1 666.0,1213.1 666.0,1220.0 668.0,1220.0 668.0,1223.0 670.0,1223.0 670.0,1223.0 672.0,1223.0 672.0,1223.0 674.0,1223.0 674.0,1223.0 676.0,1223.0 676.0,1223.0 678.0,1223.0 678.0,1221.8 680.0,1221.8 680.0,1220.2 682.0,1220.2 682.0,1218.4 684.0,1218.4 684.0,1218.7 686.0,1218.7 686.0,1219.7 688.0,1219.7 688.0,1222.0 690.0,1222.0 690.0,1223.0 692.0,1223.0 692.0,1223.0 694.0,1223.0 694.0,1221.6 696.0,1221.6 696.0,1219.1 698.0,1219.1 698.0,1212.8 700.0,1212.8 700.0,1206.5 702.0,1206.5 702.0,1202.5 704.0,1202.5 704.0,1207.1 706.0,1207.1 706.0,1212.5 708.0,1212.5 708.0,1217.4 710.0,1217.4 710.0,1221.5 712.0,1221.5 712.0,1223.0 714.0,1223.0 714.0,1223.0 716.0,1223.0 716.0,1223.0 718.0,1223.0 718.0,1223.0 720.0,1223.0 720.0,1223.0 722.0,1223.0 722.0,1223.0 724.0,1223.0 724.0,1223.0 726.0,1223.0 726.0,1223.0 728.0,1223.0 728.0,1223.0 730.0,1223.0 730.0,1223.0 732.0,1223.0 732.0,1223.0 734.0,1223.0 734.0,1223.0 736.0,1223.0 736.0,1223.0 738.0,1223.0 738.0,1223.0 740.0,1223.0 740.0,1223.0 742.0,1223.0 742.0,1223.0 744.0,1223.0 744.0,1223.0 746.0,1223.0 746.0,1223.0 748.0,1223.0 748.0,1223.0 750.0,1223.0 750.0,1223.0 752.0,1223.0 752.0,1223.0 754.0,1223.0 754.0,1223.0 756.0,1223.0 756.0,1223.0 758.0,1223.0 758.0,1223.0 760.0,1223.0 760.0,1223.0 762.0,1223.0 762.0,1223.0 764.0,1223.0 764.0,1223.0 766.0,1223.0 766.0,1223.0 768.0,1223.0 768.0,1223.0 770.0,1223.0 770.0,1223.0 772.0,1223.0 772.0,1223.0 774.0,1223.0 774.0,1223.0 776.0,1223.0 776.0,1222.0 778.0,1222.0 778.0,1221.0 780.0,1221.0 780.0,1220.0 782.0,1220.0 782.0,1218.4 784.0,1218.4 784.0,1218.1 786.0,1218.1 786.0,1217.3 788.0,1217.3 788.0,1215.8 790.0,1215.8 790.0,1215.9 792.0,1215.9 792.0,1216.9 794.0,1216.9 794.0,1218.4 796.0,1218.4 796.0,1219.8 798.0,1219.8 798.0,1220.3 800.0,1220.3 800.0,1219.7 802.0,1219.7 802.0,1213.8 804.0,1213.8 804.0,1202.9 806.0,1202.9 806.0,1197.7 808.0,1197.7 808.0,1207.6 810.0,1207.6 810.0,1212.0 812.0,1212.0 812.0,1220.0 814.0,1220.0 814.0,1223.0 816.0,1223.0 816.0,1223.0 818.0,1223.0 818.0,1223.0 820.0,1223.0 820.0,1223.0 822.0,1223.0 822.0,1223.0 824.0,1223.0 824.0,1220.5 826.0,1220.5 826.0,1216.9 828.0,1216.9 828.0,1209.3 830.0,1209.3 830.0,1205.7 832.0,1205.7 832.0,1195.3 834.0,1195.3 834.0,1192.3 836.0,1192.3 836.0,1201.6 838.0,1201.6 838.0,1209.4 840.0,1209.4 840.0,1216.4 842.0,1216.4 842.0,1220.5 844.0,1220.5 844.0,1223.0 846.0,1223.0 846.0,1223.0 848.0,1223.0 848.0,1223.0 850.0,1223.0 850.0,1223.0 852.0,1223.0 852.0,1223.0 854.0,1223.0 854.0,1222.1 856.0,1222.1 856.0,1221.0 858.0,1221.0 858.0,1220.2 860.0,1220.2 860.0,1216.3 862.0,1216.3 862.0,1213.8 864.0,1213.8 864.0,1210.0 866.0,1210.0 866.0,1209.8 868.0,1209.8 868.0,1210.7 870.0,1210.7 870.0,1208.0 872.0,1208.0 872.0,1209.6 874.0,1209.6 874.0,1213.0 876.0,1213.0 876.0,1214.2 878.0,1214.2 878.0,1211.7 880.0,1211.7 880.0,1213.0 882.0,1213.0 882.0,1211.5 884.0,1211.5 884.0,1216.8 886.0,1216.8 886.0,1218.0 888.0,1218.0 888.0,1217.9 890.0,1217.9 890.0,1218.2 892.0,1218.2 892.0,1216.6 894.0,1216.6 894.0,1213.5 896.0,1213.5 896.0,1215.2 898.0,1215.2 898.0,1216.5 900.0,1216.5 900.0,1218.2 902.0,1218.2 902.0,1218.7 904.0,1218.7 904.0,1220.2 906.0,1220.2 906.0,1221.5 908.0,1221.5 908.0,1223.0 910.0,1223.0 910.0,1223.0 912.0,1223.0 912.0,1223.0 914.0,1223.0 914.0,1223.0 916.0,1223.0 916.0,1223.0 918.0,1223.0 918.0,1223.0 920.0,1223.0 920.0,1223.0 922.0,1223.0 922.0,1223.0 924.0,1223.0 924.0,1223.0 926.0,1223.0 926.0,1223.0 928.0,1223.0 928.0,1221.7 930.0,1221.7 930.0,1220.9 932.0,1220.9 932.0,1220.4 934.0,1220.4 934.0,1219.9 936.0,1219.9 936.0,1219.1 938.0,1219.1 938.0,1218.9 940.0,1218.9 940.0,1219.5 942.0,1219.5 942.0,1219.2 944.0,1219.2 944.0,1218.8 946.0,1218.8 946.0,1220.2 948.0,1220.2 948.0,1220.1 950.0,1220.1 950.0,1220.3 952.0,1220.3 952.0,1220.2 954.0,1220.2 954.0,1219.4 956.0,1219.4 956.0,1217.3 958.0,1217.3 958.0,1215.3 960.0,1215.3 960.0,1213.7 962.0,1213.7 962.0,1214.8 964.0,1214.8 964.0,1213.4 966.0,1213.4 966.0,1213.6 968.0,1213.6 968.0,1214.2 970.0,1214.2 970.0,1214.3 972.0,1214.3 972.0,1211.3 974.0,1211.3 974.0,1207.4 976.0,1207.4 976.0,1206.5 978.0,1206.5 978.0,1208.6 980.0,1208.6 980.0,1203.7 982.0,1203.7 982.0,1203.9 984.0,1203.9 984.0,1211.5 986.0,1211.5 986.0,1216.4 988.0,1216.4 988.0,1219.6 990.0,1219.6 990.0,1223.0 992.0,1223.0 992.0,1223.0 994.0,1223.0 994.0,1223.0 996.0,1223.0 996.0,1223.0 998.0,1223.0 998.0,1223.0 1000.0,1223.0 1000.0,1223.0 1002.0,1223.0 1002.0,1223.0 1004.0,1223.0 1004.0,1223.0 1006.0,1223.0 1006.0,1223.0 1008.0,1223.0 1008.0,1221.9 1010.0,1221.9 1010.0,1219.3 1012.0,1219.3 1012.0,1212.9 1014.0,1212.9 1014.0,1206.8 1016.0,1206.8 1016.0,1208.6 1018.0,1208.6 1018.0,1211.8 1020.0,1211.8 1020.0,1215.4 1022.0,1215.4 1022.0,1216.5 1024.0,1216.5 1024.0,1214.0 1026.0,1214.0 1026.0,1215.4 1028.0,1215.4 1028.0,1217.4 1030.0,1217.4 1030.0,1220.1 1032.0,1220.1 1032.0,1221.5 1034.0,1221.5 1034.0,1223.0 1036.0,1223.0 1036.0,1223.0 1038.0,1223.0 1038.0,1223.0 1040.0,1223.0 1040.0,1223.0 1042.0,1223.0 1042.0,1223.0 1044.0,1223.0 1044.0,1223.0 1046.0,1223.0 1046.0,1223.0 1048.0,1223.0 1048.0,1223.0 1050.0,1223.0 1050.0,1223.0 1052.0,1223.0 1052.0,1223.0 1054.0,1223.0 1054.0,1223.0 1056.0,1223.0 1056.0,1223.0 1058.0,1223.0 1058.0,1223.0 1060.0,1223.0 1060.0,1223.0 1062.0,1223.0 1062.0,1223.0 1064.0,1223.0 1064.0,1223.0 1066.0,1223.0 1066.0,1223.0 1068.0,1223.0 1068.0,1223.0 1070.0,1223.0 1070.0,1223.0 1072.0,1223.0 1072.0,1221.9 1074.0,1221.9 1074.0,1221.4 1076.0,1221.4 1076.0,1220.1 1078.0,1220.1 1078.0,1218.9 1080.0,1218.9 1080.0,1216.9 1082.0,1216.9 1082.0,1215.6 1084.0,1215.6 1084.0,1212.3 1086.0,1212.3 1086.0,1213.5 1088.0,1213.5 1088.0,1214.5 1090.0,1214.5 1090.0,1210.7 1092.0,1210.7 1092.0,1211.8 1094.0,1211.8 1094.0,1201.7 1096.0,1201.7 1096.0,1194.4 1098.0,1194.4 1098.0,1193.2 1100.0,1193.2 1100.0,1199.5 1102.0,1199.5 1102.0,1206.7 1104.0,1206.7 1104.0,1214.5 1106.0,1214.5 1106.0,1219.0 1108.0,1219.0 1108.0,1222.1 1110.0,1222.1 1110.0,1223.0 1112.0,1223.0 1112.0,1223.0 1114.0,1223.0 1114.0,1223.0 1116.0,1223.0 1116.0,1223.0 1118.0,1223.0 1118.0,1223.0 1120.0,1223.0 1120.0,1220.5 1122.0,1220.5 1122.0,1214.0 1124.0,1214.0 1124.0,1204.3 1126.0,1204.3 1126.0,1202.8 1128.0,1202.8 1128.0,1210.7 1130.0,1210.7 1130.0,1215.0 1132.0,1215.0 1132.0,1220.6 1134.0,1220.6 1134.0,1223.0 1136.0,1223.0 1136.0,1223.0 1138.0,1223.0 1138.0,1223.0 1140.0,1223.0 1140.0,1223.0 1142.0,1223.0 1142.0,1223.0 1144.0,1223.0 1144.0,1223.0 1146.0,1223.0 1146.0,1223.0 1148.0,1223.0 1148.0,1220.7 1150.0,1220.7 1150.0,1218.2 1152.0,1218.2 1152.0,1207.2 1154.0,1207.2 1154.0,1191.6 1156.0,1191.6 1156.0,1158.5 1158.0,1158.5 1158.0,1142.2 1160.0,1142.2 1160.0,1153.0 1162.0,1153.0 1162.0,1118.9 1164.0,1118.9 1164.0,1110.7 1166.0,1110.7 1166.0,1107.0 1168.0,1107.0 1168.0,1137.0 1170.0,1137.0 1170.0,1147.9 1172.0,1147.9 1172.0,1156.0 1174.0,1156.0 1174.0,1181.2 1176.0,1181.2 1176.0,1196.9 1178.0,1196.9 1178.0,1206.9 1180.0,1206.9 1180.0,1209.9 1182.0,1209.9 1182.0,1218.5 1184.0,1218.5 1184.0,1221.1 1186.0,1221.1 1186.0,1222.2 1188.0,1222.2 1186.0,1223.0" fill="#F0948C" stroke="none" stroke-width="1"/>
<line x1="630.0" y1="1222.8" x2="1187.0" y2="1222.8" stroke="#EE6A62" stroke-width="1.6"/>
<rect x="628.8" y="989.8" width="559.5" height="244.9" fill="none" stroke="#000" stroke-width="2.2"/>
<text x="625.6" y="1062.6" font-size="31" text-anchor="end" fill="#7DA2D8" transform="rotate(-45 625.6 1062.6)">GF</text>
<text x="625.0" y="1169.6" font-size="31.5" text-anchor="end" fill="#F0948C" transform="rotate(-45 625.0 1169.6)">Butyrate</text>
<text x="783.0" y="1264.7" font-size="23.6" text-anchor="middle" font-style="italic" fill="#000">LOC724951</text>
<text x="782.0" y="1298.0" font-size="23.6" text-anchor="middle" fill="#000">(NC_037647.1:</text>
<text x="782.0" y="1326.5" font-size="23.6" text-anchor="middle" fill="#000">4,601,509-4,601,908)</text>
<text x="1070.0" y="1264.7" font-size="23.6" text-anchor="middle" font-style="italic" fill="#000">LOC724907</text>
<text x="1080.0" y="1298.0" font-size="23.6" text-anchor="middle" fill="#000">(NC_037647.1:</text>
<text x="1079.5" y="1326.5" font-size="23.6" text-anchor="middle" fill="#000">4,606,751-4,607,150)</text>
<text x="1218.0" y="945.0" font-size="44" font-weight="bold" fill="#000">h</text>
<text x="1459.0" y="971.0" font-size="28.6" text-anchor="middle" font-style="italic" fill="#000">LOC724951</text>
<rect x="1384.5" y="1166.6" width="54.0" height="171.9" fill="#7FA4D8" stroke="#2457B0" stroke-width="1.5"/>
<rect x="1499.0" y="1044.8" width="54.0" height="293.7" fill="#F0968E" stroke="#EB5A50" stroke-width="1.5"/>
<line x1="1330.8" y1="1030.5" x2="1330.8" y2="1339.5" stroke="#000" stroke-width="2"/>
<line x1="1324.8" y1="1338.5" x2="1595.8" y2="1338.5" stroke="#000" stroke-width="2"/>
<line x1="1324.8" y1="1338.5" x2="1330.8" y2="1338.5" stroke="#000" stroke-width="2"/>
<text x="1318.3" y="1347.8" font-size="32" text-anchor="end" fill="#000">0</text>
<line x1="1324.8" y1="1236.2" x2="1330.8" y2="1236.2" stroke="#000" stroke-width="2"/>
<text x="1318.3" y="1245.5" font-size="32" text-anchor="end" fill="#000">5</text>
<line x1="1324.8" y1="1133.8" x2="1330.8" y2="1133.8" stroke="#000" stroke-width="2"/>
<text x="1318.3" y="1143.1" font-size="32" text-anchor="end" fill="#000">10</text>
<line x1="1324.8" y1="1031.5" x2="1330.8" y2="1031.5" stroke="#000" stroke-width="2"/>
<text x="1318.3" y="1040.8" font-size="32" text-anchor="end" fill="#000">15</text>
<line x1="1411.5" y1="1338.5" x2="1411.5" y2="1345.5" stroke="#000" stroke-width="2"/>
<line x1="1411.5" y1="1146.7" x2="1411.5" y2="1186.6" stroke="#000" stroke-width="2"/>
<line x1="1401.5" y1="1146.7" x2="1421.5" y2="1146.7" stroke="#000" stroke-width="2"/>
<line x1="1401.5" y1="1186.6" x2="1421.5" y2="1186.6" stroke="#000" stroke-width="2"/>
<circle cx="1423.0" cy="1136.9" r="3.2" fill="#fff" stroke="#000" stroke-width="2"/>
<circle cx="1404.0" cy="1155.3" r="3.2" fill="#fff" stroke="#000" stroke-width="2"/>
<circle cx="1412.0" cy="1205.4" r="3.2" fill="#fff" stroke="#000" stroke-width="2"/>
<line x1="1526.0" y1="1338.5" x2="1526.0" y2="1345.5" stroke="#000" stroke-width="2"/>
<line x1="1526.0" y1="1038.2" x2="1526.0" y2="1049.9" stroke="#000" stroke-width="2"/>
<line x1="1516.0" y1="1038.2" x2="1536.0" y2="1038.2" stroke="#000" stroke-width="2"/>
<line x1="1516.0" y1="1049.9" x2="1536.0" y2="1049.9" stroke="#000" stroke-width="2"/>
<circle cx="1513.7" cy="1039.0" r="3.2" fill="#fff" stroke="#000" stroke-width="2"/>
<circle cx="1527.2" cy="1034.5" r="3.2" fill="#fff" stroke="#000" stroke-width="2"/>
<circle cx="1522.3" cy="1050.9" r="3.2" fill="#fff" stroke="#000" stroke-width="2"/>
<text x="1415.5" y="1373.0" font-size="32.4" text-anchor="middle" fill="#000">GF</text>
<text x="1531.8" y="1373.0" font-size="32.4" text-anchor="middle" fill="#000">Butyrate</text>
<text x="1272.5" y="1167.6" font-size="39.3" text-anchor="middle" fill="#000" transform="rotate(-90 1272.5 1167.6)">Relative enrichment fold</text>
<line x1="1411.3" y1="1025.7" x2="1526.0" y2="1025.7" stroke="#000" stroke-width="1.8"/>
<text x="1469.5" y="1020.7" font-size="30" text-anchor="middle" fill="#000">**</text>
<text x="1607.0" y="945.0" font-size="44" font-weight="bold" fill="#000">i</text>
<text x="1852.0" y="971.0" font-size="28.6" text-anchor="middle" font-style="italic" fill="#000">LOC724907</text>
<rect x="1765.0" y="1149.8" width="54.0" height="188.2" fill="#7FA4D8" stroke="#2457B0" stroke-width="1.5"/>
<rect x="1880.0" y="1053.3" width="54.0" height="284.7" fill="#F0968E" stroke="#EB5A50" stroke-width="1.5"/>
<line x1="1711.7" y1="1030.5" x2="1711.7" y2="1339.0" stroke="#000" stroke-width="2"/>
<line x1="1705.7" y1="1338.0" x2="1976.7" y2="1338.0" stroke="#000" stroke-width="2"/>
<line x1="1705.7" y1="1338.0" x2="1711.7" y2="1338.0" stroke="#000" stroke-width="2"/>
<text x="1701.7" y="1347.3" font-size="32" text-anchor="end" fill="#000">0</text>
<line x1="1705.7" y1="1261.4" x2="1711.7" y2="1261.4" stroke="#000" stroke-width="2"/>
<text x="1701.7" y="1270.7" font-size="32" text-anchor="end" fill="#000">3</text>
<line x1="1705.7" y1="1184.8" x2="1711.7" y2="1184.8" stroke="#000" stroke-width="2"/>
<text x="1701.7" y="1194.1" font-size="32" text-anchor="end" fill="#000">6</text>
<line x1="1705.7" y1="1108.2" x2="1711.7" y2="1108.2" stroke="#000" stroke-width="2"/>
<text x="1701.7" y="1117.5" font-size="32" text-anchor="end" fill="#000">9</text>
<line x1="1705.7" y1="1031.6" x2="1711.7" y2="1031.6" stroke="#000" stroke-width="2"/>
<text x="1701.7" y="1040.9" font-size="32" text-anchor="end" fill="#000">12</text>
<line x1="1792.0" y1="1338.0" x2="1792.0" y2="1345.0" stroke="#000" stroke-width="2"/>
<line x1="1792.0" y1="1126.8" x2="1792.0" y2="1170.8" stroke="#000" stroke-width="2"/>
<line x1="1782.0" y1="1126.8" x2="1802.0" y2="1126.8" stroke="#000" stroke-width="2"/>
<line x1="1782.0" y1="1170.8" x2="1802.0" y2="1170.8" stroke="#000" stroke-width="2"/>
<circle cx="1789.6" cy="1112.3" r="3.2" fill="#fff" stroke="#000" stroke-width="2"/>
<circle cx="1784.0" cy="1150.6" r="3.2" fill="#fff" stroke="#000" stroke-width="2"/>
<circle cx="1798.6" cy="1187.4" r="3.2" fill="#fff" stroke="#000" stroke-width="2"/>
<line x1="1907.0" y1="1338.0" x2="1907.0" y2="1345.0" stroke="#000" stroke-width="2"/>
<line x1="1907.0" y1="1050.2" x2="1907.0" y2="1055.9" stroke="#000" stroke-width="2"/>
<line x1="1897.0" y1="1050.2" x2="1917.0" y2="1050.2" stroke="#000" stroke-width="2"/>
<line x1="1897.0" y1="1055.9" x2="1917.0" y2="1055.9" stroke="#000" stroke-width="2"/>
<circle cx="1894.2" cy="1051.3" r="3.2" fill="#fff" stroke="#000" stroke-width="2"/>
<circle cx="1904.7" cy="1045.6" r="3.2" fill="#fff" stroke="#000" stroke-width="2"/>
<circle cx="1908.1" cy="1058.9" r="3.2" fill="#fff" stroke="#000" stroke-width="2"/>
<text x="1796.0" y="1373.0" font-size="32.4" text-anchor="middle" fill="#000">GF</text>
<text x="1912.8" y="1373.0" font-size="32.4" text-anchor="middle" fill="#000">Butyrate</text>
<text x="1661.5" y="1167.6" font-size="39.3" text-anchor="middle" fill="#000" transform="rotate(-90 1661.5 1167.6)">Relative enrichment fold</text>
<line x1="1791.3" y1="1026.1" x2="1907.1" y2="1026.1" stroke="#000" stroke-width="1.8"/>
<text x="1853.0" y="1021.1" font-size="30" text-anchor="middle" fill="#000">*</text>
<text x="15.5" y="1430.0" font-size="44" font-weight="bold" fill="#000">j</text>
<defs><linearGradient id="fang" gradientUnits="userSpaceOnUse" x1="452" y1="0" x2="622" y2="0"><stop offset="0" stop-color="#F4CAD0"/><stop offset="0.45" stop-color="#F9E1E3"/><stop offset="1" stop-color="#FFFFFF" stop-opacity="1"/></linearGradient></defs>
<polygon points="452.0,1797.0 623.0,1436.0 623.0,2186.0 463.0,1884.0" fill="url(#fang)" stroke="none" stroke-width="1"/>
<path d="M205,1815 L211.9,1836 L192.1,1850.6 L190.8,1874.3 L169.7,1879.6 L145,1880" fill="none" stroke="#1a1311" stroke-width="9.5" stroke-linejoin="round" stroke-linecap="round"/>
<path d="M205,1815 L211.9,1836 L192.1,1850.6 L190.8,1874.3 L169.7,1879.6 L145,1880" fill="none" stroke="#fff" stroke-width="6" stroke-linejoin="round" stroke-linecap="round"/>
<path d="M243.5,1826 L244.8,1842.6 L230.3,1851.9 L229,1876.9 L211.9,1903.3 L196,1909 L182,1915" fill="none" stroke="#1a1311" stroke-width="9.5" stroke-linejoin="round" stroke-linecap="round"/>
<path d="M243.5,1826 L244.8,1842.6 L230.3,1851.9 L229,1876.9 L211.9,1903.3 L196,1909 L182,1915" fill="none" stroke="#fff" stroke-width="6" stroke-linejoin="round" stroke-linecap="round"/>
<path d="M277.8,1829.5 L284.4,1845 L314.7,1836 L316,1902 L343.7,1919.7 L372,1930" fill="none" stroke="#1a1311" stroke-width="9.5" stroke-linejoin="round" stroke-linecap="round"/>
<path d="M277.8,1829.5 L284.4,1845 L314.7,1836 L316,1902 L343.7,1919.7 L372,1930" fill="none" stroke="#fff" stroke-width="6" stroke-linejoin="round" stroke-linecap="round"/>
<path d="M145,1880 L157,1877 M145,1880 L140,1875 M145,1880 L142,1884" fill="none" stroke="#1a1311" stroke-width="1"/>
<path d="M182,1915 L175,1918 L168,1917 M175,1918 L172,1921" fill="none" stroke="#1a1311" stroke-width="1"/>
<path d="M372,1930 L384,1934 L390,1940 M384,1934 L386,1943" fill="none" stroke="#1a1311" stroke-width="1"/>
<path d="M200,1763 C210,1758 222,1750 236,1744 C250,1739 270,1739 282,1747 C292,1756 292,1772 290,1790 C298,1800 302,1812 298,1818 C285,1826 262,1831 240,1830 C222,1828 205,1820 195,1812 Z" fill="#fff" stroke="#1a1311" stroke-width="2.2"/>
<path d="M298,1760 C330,1750 370,1752 405,1768 C430,1782 450,1805 458,1830 C463,1850 463,1870 462.5,1884.5 C430,1883 395,1878 362,1866 C335,1856 312,1842 296,1828 C292,1810 292,1780 298,1760 Z" fill="#fff" stroke="#1a1311" stroke-width="2.6"/>
<path d="M300,1764 C335,1754 372,1756 405,1771 C430,1784 449,1808 456,1832 C460,1848 461,1865 461,1880 L452,1878 C451,1862 449,1848 445,1836 C437,1815 421,1797 399,1785 C370,1770 336,1770 300,1782 Z" fill="#F2D68A" stroke="#6b6b6b" stroke-width="0.9"/>
<path d="M203,1789 C222,1796 248,1804 268,1804 C282,1800 292,1788 308,1781 C318,1779 323,1786 323,1800 C323,1812 313,1817 296,1819 C272,1820 240,1812 203,1792 Z" fill="#F6EEE2" stroke="#9a9a9a" stroke-width="1.8"/>
<path d="M316,1806 C318,1822 326,1842 340,1852 L352,1842 C342,1834 336,1822 332,1806 Z" fill="#F8EBCB" stroke="#1a1311" stroke-width="1.1"/>
<line x1="316.0" y1="1806.0" x2="330.0" y2="1804.0" stroke="#1a1311" stroke-width="1"/>
<line x1="320.1" y1="1813.4" x2="333.4" y2="1810.4" stroke="#1a1311" stroke-width="1"/>
<line x1="324.2" y1="1820.2" x2="336.9" y2="1816.2" stroke="#1a1311" stroke-width="1"/>
<line x1="328.5" y1="1826.5" x2="340.5" y2="1821.5" stroke="#1a1311" stroke-width="1"/>
<line x1="332.9" y1="1832.2" x2="344.2" y2="1826.2" stroke="#1a1311" stroke-width="1"/>
<line x1="337.4" y1="1837.4" x2="348.1" y2="1830.4" stroke="#1a1311" stroke-width="1"/>
<ellipse cx="365" cy="1815" rx="34" ry="42" fill="#F8EBCB" stroke="#1a1311" stroke-width="1.3"/>
<path d="M358.1,1793.3 Q364.6,1782.5 363.1,1773.1" fill="none" stroke="#1a1311" stroke-width="1.0"/>
<path d="M361.9,1793.3 Q372.3,1784.7 374.9,1774.8" fill="none" stroke="#1a1311" stroke-width="1.0"/>
<path d="M365.5,1795.4 Q378.9,1790.4 385.4,1781.4" fill="none" stroke="#1a1311" stroke-width="1.0"/>
<path d="M368.4,1799.4 Q383.5,1798.8 393.5,1792.0" fill="none" stroke="#1a1311" stroke-width="1.0"/>
<path d="M370.3,1804.8 Q385.6,1808.9 398.1,1805.5" fill="none" stroke="#1a1311" stroke-width="1.0"/>
<path d="M371.0,1811.0 Q384.9,1819.5 398.8,1820.0" fill="none" stroke="#1a1311" stroke-width="1.0"/>
<path d="M370.3,1817.2 Q381.5,1829.3 395.3,1834.0" fill="none" stroke="#1a1311" stroke-width="1.0"/>
<path d="M368.4,1822.6 Q375.8,1837.2 388.2,1845.7" fill="none" stroke="#1a1311" stroke-width="1.0"/>
<path d="M365.5,1826.6 Q368.5,1842.1 378.4,1853.6" fill="none" stroke="#1a1311" stroke-width="1.0"/>
<path d="M361.9,1828.7 Q360.4,1843.5 366.9,1856.9" fill="none" stroke="#1a1311" stroke-width="1.0"/>
<path d="M358.1,1828.7 Q352.7,1841.3 355.1,1855.2" fill="none" stroke="#1a1311" stroke-width="1.0"/>
<path d="M354.5,1826.6 Q346.1,1835.6 344.6,1848.6" fill="none" stroke="#1a1311" stroke-width="1.0"/>
<path d="M351.6,1822.6 Q341.5,1827.2 336.5,1838.0" fill="none" stroke="#1a1311" stroke-width="1.0"/>
<path d="M349.7,1817.2 Q339.4,1817.1 331.9,1824.5" fill="none" stroke="#1a1311" stroke-width="1.0"/>
<path d="M349.0,1811.0 Q340.1,1806.5 331.2,1810.0" fill="none" stroke="#1a1311" stroke-width="1.0"/>
<path d="M349.7,1804.8 Q343.5,1796.7 334.7,1796.0" fill="none" stroke="#1a1311" stroke-width="1.0"/>
<path d="M351.6,1799.4 Q349.2,1788.8 341.8,1784.3" fill="none" stroke="#1a1311" stroke-width="1.0"/>
<path d="M354.5,1795.4 Q356.5,1783.9 351.6,1776.4" fill="none" stroke="#1a1311" stroke-width="1.0"/>
<ellipse cx="360" cy="1811" rx="8" ry="15" fill="#fff" stroke="#1a1311" stroke-width="1.1"/>
<path d="M400,1833 C392,1826 392,1812 402,1808 C412,1805 418,1814 414,1822 C410,1828 404,1824 405,1818" fill="#F8EBCB" stroke="#1a1311" stroke-width="1.1"/>
<path d="M406,1842 C412,1833 428,1829 440,1833 C452,1840 458,1860 459,1882 C445,1868 425,1866 410,1862 C402,1856 402,1848 406,1842 Z" fill="#F9D7C2" stroke="#1a1311" stroke-width="1.0"/>
<path d="M427,1833 C434,1835 440,1840 443,1845" fill="none" stroke="#fff" stroke-width="1.6"/>
<path d="M377,1864 C382,1856 395,1858 402,1862 C415,1868 440,1872 452,1880 L455,1884 C430,1883 400,1880 378,1873 Z" fill="#F2D68A" stroke="#6b6b6b" stroke-width="0.8"/>
<path d="M263.5,1742 C285,1700 330,1628 368,1603 C378,1597 385,1600 384.5,1612 C384,1622 386,1632 384,1642 C360,1668 320,1705 292,1735 C282,1744 270,1746 263.5,1742 Z" fill="#fff" stroke="#1a1311" stroke-width="2"/>
<path d="M242,1781 C280,1750 340,1690 383,1643 C400,1633 420,1625 432,1627 C440,1630 437,1650 436,1662 C434,1676 430,1686 423,1693 L256,1788 C248,1791 238,1787 242,1781 Z" fill="#fff" stroke="#1a1311" stroke-width="2"/>
<path d="M251,1783.5 L423,1695 C430,1694 428,1702 422,1709 C416,1716 410,1717 405,1726 C400,1731 392,1731 388,1732 L289,1768 C275,1778 265,1786 256,1788 C250,1789 247,1786 251,1783.5 Z" fill="#fff" stroke="#1a1311" stroke-width="2"/>
<path d="M207,1774 C225,1768 240,1765 262,1773 C280,1780 292,1780 300,1770 C335,1757 372,1760 403,1776 C428,1789 445,1810 452,1838 L456,1850" fill="none" stroke="#3C6FC0" stroke-width="2.6"/>
<path d="M207,1774 C225,1768 240,1765 262,1773 C280,1780 292,1780 300,1770 C335,1757 372,1760 403,1776 C428,1789 445,1810 452,1838 L456,1850" fill="none" stroke="#fff" stroke-width="1.0"/>
<circle cx="330.0" cy="1766.0" r="1.3" fill="#C8161D" stroke="none" stroke-width="1"/>
<circle cx="333.0" cy="1767.0" r="1.3" fill="#C8161D" stroke="none" stroke-width="1"/>
<circle cx="336.0" cy="1766.0" r="1.3" fill="#C8161D" stroke="none" stroke-width="1"/>
<circle cx="331.0" cy="1769.0" r="1.3" fill="#C8161D" stroke="none" stroke-width="1"/>
<circle cx="335.0" cy="1769.0" r="1.3" fill="#C8161D" stroke="none" stroke-width="1"/>
<circle cx="363.0" cy="1770.0" r="1.3" fill="#C8161D" stroke="none" stroke-width="1"/>
<circle cx="366.0" cy="1771.0" r="1.3" fill="#C8161D" stroke="none" stroke-width="1"/>
<circle cx="369.0" cy="1770.0" r="1.3" fill="#C8161D" stroke="none" stroke-width="1"/>
<circle cx="364.0" cy="1773.0" r="1.3" fill="#C8161D" stroke="none" stroke-width="1"/>
<circle cx="368.0" cy="1773.0" r="1.3" fill="#C8161D" stroke="none" stroke-width="1"/>
<circle cx="397.0" cy="1785.0" r="1.3" fill="#C8161D" stroke="none" stroke-width="1"/>
<circle cx="400.0" cy="1786.0" r="1.3" fill="#C8161D" stroke="none" stroke-width="1"/>
<circle cx="403.0" cy="1785.0" r="1.3" fill="#C8161D" stroke="none" stroke-width="1"/>
<circle cx="398.0" cy="1788.0" r="1.3" fill="#C8161D" stroke="none" stroke-width="1"/>
<circle cx="402.0" cy="1788.0" r="1.3" fill="#C8161D" stroke="none" stroke-width="1"/>
<circle cx="423.0" cy="1806.0" r="1.3" fill="#C8161D" stroke="none" stroke-width="1"/>
<circle cx="426.0" cy="1807.0" r="1.3" fill="#C8161D" stroke="none" stroke-width="1"/>
<circle cx="429.0" cy="1806.0" r="1.3" fill="#C8161D" stroke="none" stroke-width="1"/>
<circle cx="424.0" cy="1809.0" r="1.3" fill="#C8161D" stroke="none" stroke-width="1"/>
<circle cx="428.0" cy="1809.0" r="1.3" fill="#C8161D" stroke="none" stroke-width="1"/>
<circle cx="444.0" cy="1845.0" r="1.3" fill="#C8161D" stroke="none" stroke-width="1"/>
<circle cx="447.0" cy="1846.0" r="1.3" fill="#C8161D" stroke="none" stroke-width="1"/>
<circle cx="450.0" cy="1845.0" r="1.3" fill="#C8161D" stroke="none" stroke-width="1"/>
<circle cx="445.0" cy="1848.0" r="1.3" fill="#C8161D" stroke="none" stroke-width="1"/>
<circle cx="449.0" cy="1848.0" r="1.3" fill="#C8161D" stroke="none" stroke-width="1"/>
<ellipse cx="172.5" cy="1783.5" rx="31.5" ry="51" transform="rotate(8 172.5 1783.5)" fill="#fff" stroke="#1a1311" stroke-width="2.4"/>
<ellipse cx="170.3" cy="1777.3" rx="14" ry="27" transform="rotate(11 170.3 1777.3)" fill="#0a0606"/>
<path d="M92.5,1782 C98,1766 112,1748 128,1743 C138,1741 146,1750 150,1764" fill="none" stroke="#1a1311" stroke-width="5.5" stroke-linecap="round"/>
<path d="M109.5,1805 C114,1786 124,1764 137,1752 C142,1749 146,1752 147,1757" fill="none" stroke="#1a1311" stroke-width="5.5" stroke-linecap="round"/>
<line x1="200.0" y1="1818.0" x2="203.0" y2="1833.0" stroke="#1a1311" stroke-width="1.3"/>
<line x1="214.0" y1="1818.0" x2="217.0" y2="1833.0" stroke="#1a1311" stroke-width="1.3"/>
<line x1="228.0" y1="1818.0" x2="231.0" y2="1833.0" stroke="#1a1311" stroke-width="1.3"/>
<line x1="246.0" y1="1818.0" x2="249.0" y2="1833.0" stroke="#1a1311" stroke-width="1.3"/>
<rect x="402.5" y="1797.0" width="50.0" height="49.8" fill="none" stroke="#9B2A2A" stroke-width="1.9"/>
<text x="94.0" y="1951.0" font-size="23.5">Dorsal vessel</text>
<polyline points="242.5,1944.7 266.0,1944.7 405.0,1803.0" fill="none" stroke="#1a1311" stroke-width="1.3" stroke-linejoin="round"/>
<circle cx="405.0" cy="1803.0" r="1.5" fill="#1a1311" stroke="none" stroke-width="1"/>
<text x="190.5" y="2004.5" font-size="23.5">Hindgut</text>
<polyline points="277.0,1997.5 300.5,1997.5 413.0,1850.0" fill="none" stroke="#1a1311" stroke-width="1.3" stroke-linejoin="round"/>
<circle cx="413.0" cy="1850.0" r="1.5" fill="#1a1311" stroke="none" stroke-width="1"/>
<text x="213.5" y="2056.0" font-size="23.5">Fat body</text>
<polyline points="311.5,2052.0 344.5,2052.0 433.5,1878.0" fill="none" stroke="#1a1311" stroke-width="1.3" stroke-linejoin="round"/>
<circle cx="433.5" cy="1878.0" r="1.5" fill="#1a1311" stroke="none" stroke-width="1"/>
<path d="M1229.7,1461.0 C1248.0,1460.3 1273.5,1459.3 1290.0,1460.0 C1306.5,1460.7 1316.7,1461.0 1328.6,1465.0 C1340.5,1469.0 1349.9,1473.2 1361.5,1484.0 C1373.1,1494.8 1388.2,1510.7 1398.0,1530.0 C1407.8,1549.3 1413.0,1576.7 1420.0,1600.0 C1427.0,1623.3 1434.5,1650.0 1440.0,1670.0 C1445.5,1690.0 1450.3,1704.2 1453.0,1720.0 C1455.7,1735.8 1457.2,1752.2 1456.0,1765.0 C1454.8,1777.8 1453.3,1788.5 1446.0,1797.0 C1438.7,1805.5 1429.7,1811.2 1412.0,1816.0 C1394.3,1820.8 1367.0,1824.2 1340.0,1826.0 C1313.0,1827.8 1280.0,1827.0 1250.0,1827.0 C1220.0,1827.0 1188.3,1826.8 1160.0,1826.0 C1131.7,1825.2 1103.3,1823.3 1080.0,1822.0 C1056.7,1820.7 1038.8,1819.8 1020.0,1818.0 C1001.2,1816.2 979.7,1816.0 967.0,1811.0 C954.3,1806.0 948.8,1799.7 944.0,1788.0 C939.2,1776.3 938.5,1755.7 938.0,1741.0 C937.5,1726.3 939.5,1711.8 941.0,1700.0 C942.5,1688.2 944.0,1680.8 947.0,1670.0 C950.0,1659.2 952.7,1650.8 959.0,1635.0 C965.3,1619.2 973.2,1592.5 985.0,1575.0 C996.8,1557.5 1016.7,1541.8 1030.0,1530.0 C1043.3,1518.2 1048.1,1512.7 1064.8,1504.0 C1081.5,1495.3 1110.8,1484.7 1130.0,1478.0 C1149.2,1471.3 1163.4,1466.8 1180.0,1464.0 C1196.6,1461.2 1211.4,1461.7 1229.7,1461.0 Z" fill="#FEF8EE" stroke="none" stroke-width="1"/>
<path d="M1034.0,1568.9 L1034.2,1569.1 L1034.5,1569.2 L1034.7,1569.4 L1034.9,1569.5 L1035.2,1569.6 L1035.5,1569.7 L1035.7,1569.7 L1036.0,1569.7 L1036.3,1569.7 L1036.5,1569.7 L1098.5,1557.8 L1098.7,1557.7 L1099.0,1557.6 L1099.3,1557.5 L1099.5,1557.3 L1099.7,1557.2 L1099.9,1557.0 L1100.1,1556.8 L1100.3,1556.5 L1100.4,1556.3 L1100.6,1556.0 L1100.6,1555.8 L1100.7,1555.5 L1100.7,1555.2 L1103.6,1505.4 L1103.6,1505.1 L1103.5,1504.9 L1103.5,1504.6 L1103.4,1504.3 L1103.3,1504.1 L1103.2,1503.9 L1103.1,1503.6 L1102.9,1503.4 L1102.7,1503.2 L1102.5,1503.0 L1102.3,1502.9 L1102.1,1502.8 L1101.8,1502.6 L1101.6,1502.6 L1100.8,1502.3 L1100.6,1502.3 L1100.3,1502.2 L1100.0,1502.2 L1099.8,1502.2 L1099.5,1502.3 L1099.2,1502.3 L1099.0,1502.4 L1070.7,1513.7 L1070.4,1513.8 L1070.2,1513.9 L1070.0,1514.1 L1037.5,1538.4 L1037.2,1538.6 L1022.4,1553.5 L1022.2,1553.7 L1022.0,1553.9 L1021.9,1554.1 L1021.8,1554.4 L1021.7,1554.6 L1021.6,1554.9 L1021.6,1555.2 L1021.6,1555.4 L1021.6,1555.7 L1021.6,1556.0 L1021.7,1556.3 L1021.8,1556.5 L1021.9,1556.8 L1022.0,1557.0 L1022.2,1557.2 L1022.4,1557.4 L1034.0,1568.9Z" fill="#F8EAD1" stroke="#ECDCC1" stroke-width="2"/>
<path d="M1094.1,1536.7 L1083.5,1537.8 L1082.4,1539.8 L1084.2,1553.6 L1086.9,1555.2 L1094.7,1553.6 L1096.2,1551.4 L1096.5,1538.2Z" fill="#FDF6E9" stroke="none" stroke-width="1"/>
<path d="M1077.3,1536.1 L1079.4,1535.1 L1080.1,1532.9 L1078.8,1519.1 L1076.3,1516.9 L1072.3,1518.2 L1054.8,1531.3 L1053.7,1533.2 L1054.3,1535.6 L1057.6,1537.7Z" fill="#FDF6E9" stroke="none" stroke-width="1"/>
<path d="M1040.6,1541.9 L1039.3,1544.5 L1039.4,1560.7 L1040.2,1562.8 L1042.9,1563.7 L1058.3,1560.2 L1059.2,1557.4 L1054.9,1539.2 L1051.1,1536.2 L1049.0,1536.0Z" fill="#FDF6E9" stroke="none" stroke-width="1"/>
<path d="M1085.2,1534.7 L1096.4,1533.5 L1097.3,1531.7 L1098.5,1512.3 L1097.7,1510.1 L1095.5,1509.1 L1082.7,1514.0 L1081.1,1516.6 L1083.0,1533.5Z" fill="#FDF6E9" stroke="none" stroke-width="1"/>
<path d="M1080.1,1541.2 L1079.1,1539.2 L1077.2,1538.6 L1061.4,1539.8 L1059.5,1540.7 L1058.7,1543.4 L1062.4,1558.6 L1065.0,1559.4 L1080.7,1555.9 L1081.6,1553.7Z" fill="#FDF6E9" stroke="none" stroke-width="1"/>
<path d="M1036.9,1552.8 L1035.6,1550.3 L1032.8,1550.0 L1028.8,1553.7 L1028.6,1556.6 L1032.3,1560.5 L1035.1,1560.8 L1036.9,1558.6Z" fill="#FDF6E9" stroke="none" stroke-width="1"/>
<ellipse cx="1069.1" cy="1540.2" rx="14" ry="10" fill="#F4E8D3" stroke="#ECDFC8" stroke-width="1.2"/>
<path d="M1107.2,1502.2 L1107.0,1502.3 L1106.8,1502.5 L1106.6,1502.7 L1106.4,1503.0 L1106.3,1503.2 L1106.2,1503.5 L1106.1,1503.7 L1106.1,1504.0 L1106.0,1504.3 L1103.0,1556.8 L1103.0,1557.1 L1103.1,1557.4 L1103.1,1557.6 L1103.2,1557.9 L1103.3,1558.1 L1103.4,1558.4 L1103.6,1558.6 L1103.7,1558.8 L1133.0,1592.5 L1133.2,1592.7 L1133.4,1592.8 L1133.6,1593.0 L1133.9,1593.1 L1134.1,1593.2 L1134.4,1593.3 L1134.6,1593.4 L1134.9,1593.4 L1135.2,1593.4 L1135.4,1593.4 L1135.7,1593.4 L1136.0,1593.3 L1136.2,1593.2 L1136.5,1593.1 L1136.7,1593.0 L1136.9,1592.8 L1188.0,1550.5 L1188.2,1550.3 L1188.4,1550.1 L1188.6,1549.9 L1188.7,1549.6 L1188.8,1549.4 L1188.9,1549.1 L1189.0,1548.8 L1189.0,1548.6 L1189.0,1548.3 L1189.0,1548.0 L1189.0,1547.7 L1178.2,1503.8 L1178.2,1503.6 L1178.1,1503.3 L1177.9,1503.1 L1177.8,1502.9 L1177.6,1502.7 L1177.5,1502.5 L1177.3,1502.3 L1177.0,1502.2 L1176.8,1502.0 L1176.6,1501.9 L1176.3,1501.8 L1134.4,1489.0 L1134.2,1488.9 L1133.9,1488.9 L1133.6,1488.8 L1133.4,1488.8 L1133.1,1488.9 L1132.8,1488.9 L1132.6,1489.0 L1116.9,1495.3 L1116.6,1495.4 L1116.3,1495.6 L1107.2,1502.2Z" fill="#F8EAD1" stroke="#ECDCC1" stroke-width="2"/>
<path d="M1120.1,1536.8 L1119.6,1539.0 L1120.8,1540.9 L1135.5,1547.2 L1149.3,1537.1 L1150.5,1534.4 L1147.9,1527.9 L1132.6,1521.1 L1130.5,1522.1Z" fill="#FDF6E9" stroke="none" stroke-width="1"/>
<path d="M1164.4,1540.7 L1163.3,1544.1 L1168.8,1555.8 L1170.3,1557.1 L1173.0,1556.8 L1183.5,1547.6 L1180.7,1533.8 L1178.8,1531.7 L1176.3,1532.0Z" fill="#FDF6E9" stroke="none" stroke-width="1"/>
<path d="M1131.0,1511.4 L1130.6,1513.9 L1132.8,1518.1 L1146.8,1524.7 L1149.2,1524.8 L1158.5,1512.1 L1157.4,1502.2 L1155.4,1500.3 L1141.7,1496.6 L1140.0,1497.8Z" fill="#FDF6E9" stroke="none" stroke-width="1"/>
<path d="M1138.3,1564.1 L1135.3,1564.5 L1125.4,1572.2 L1124.5,1573.9 L1125.2,1576.3 L1135.2,1586.8 L1137.6,1586.1 L1151.5,1574.6 L1152.6,1572.6 L1151.1,1569.7Z" fill="#FDF6E9" stroke="none" stroke-width="1"/>
<path d="M1134.1,1562.4 L1135.2,1559.9 L1134.7,1551.4 L1133.5,1549.4 L1116.5,1541.8 L1109.0,1544.2 L1108.1,1556.5 L1120.1,1570.4 L1123.5,1570.6Z" fill="#FDF6E9" stroke="none" stroke-width="1"/>
<path d="M1138.3,1548.6 L1137.1,1550.9 L1138.2,1561.1 L1155.7,1569.1 L1158.5,1568.8 L1167.4,1561.0 L1167.4,1558.6 L1160.2,1543.1 L1153.7,1538.6 L1151.0,1538.9Z" fill="#FDF6E9" stroke="none" stroke-width="1"/>
<path d="M1116.2,1501.5 L1115.0,1503.7 L1116.1,1506.3 L1127.8,1510.4 L1129.4,1509.3 L1136.6,1498.6 L1137.0,1496.1 L1135.6,1494.3 L1133.0,1493.9 L1119.2,1499.4Z" fill="#FDF6E9" stroke="none" stroke-width="1"/>
<path d="M1114.4,1539.5 L1116.0,1538.3 L1129.6,1518.3 L1127.2,1513.3 L1113.3,1508.1 L1111.4,1508.9 L1110.4,1510.7 L1108.9,1537.2 L1110.6,1539.8Z" fill="#FDF6E9" stroke="none" stroke-width="1"/>
<path d="M1162.6,1514.2 L1159.5,1515.1 L1151.2,1527.7 L1153.6,1535.5 L1160.5,1539.7 L1162.5,1539.1 L1177.4,1528.1 L1178.6,1525.9 L1176.3,1518.5Z" fill="#FDF6E9" stroke="none" stroke-width="1"/>
<path d="M1171.3,1514.2 L1173.6,1514.0 L1175.0,1512.1 L1173.5,1506.2 L1164.0,1503.0 L1161.3,1503.8 L1160.4,1506.0 L1161.8,1511.0Z" fill="#FDF6E9" stroke="none" stroke-width="1"/>
<ellipse cx="1142.6" cy="1536.8" rx="14" ry="10" fill="#F4E8D3" stroke="#ECDFC8" stroke-width="1.2"/>
<path d="M1181.5,1500.6 L1181.3,1500.8 L1181.1,1501.1 L1180.9,1501.3 L1180.8,1501.5 L1180.7,1501.8 L1180.6,1502.0 L1180.6,1502.3 L1180.5,1502.6 L1180.5,1502.9 L1180.5,1503.2 L1180.6,1503.4 L1191.4,1547.5 L1191.5,1547.8 L1191.6,1548.0 L1191.7,1548.3 L1191.8,1548.5 L1192.0,1548.7 L1192.2,1548.9 L1192.4,1549.1 L1192.6,1549.2 L1192.9,1549.4 L1193.1,1549.5 L1234.0,1565.0 L1234.2,1565.1 L1234.5,1565.2 L1234.8,1565.2 L1235.0,1565.2 L1235.3,1565.2 L1235.6,1565.2 L1235.8,1565.1 L1236.1,1565.0 L1236.3,1564.9 L1236.6,1564.7 L1278.9,1534.9 L1279.2,1534.8 L1279.4,1534.6 L1279.5,1534.4 L1279.7,1534.2 L1279.8,1533.9 L1279.9,1533.7 L1280.0,1533.4 L1280.1,1533.1 L1280.1,1532.9 L1280.1,1532.6 L1279.3,1501.5 L1279.3,1501.2 L1279.3,1500.9 L1279.2,1500.7 L1279.1,1500.4 L1279.0,1500.2 L1278.8,1499.9 L1278.7,1499.7 L1278.5,1499.5 L1250.2,1472.7 L1250.0,1472.5 L1249.8,1472.3 L1249.5,1472.2 L1249.3,1472.1 L1249.0,1472.0 L1248.8,1471.9 L1248.5,1471.9 L1248.2,1471.9 L1230.2,1472.2 L1230.1,1472.2 L1214.1,1473.2 L1213.8,1473.2 L1213.6,1473.2 L1213.3,1473.3 L1213.1,1473.4 L1212.9,1473.5 L1212.6,1473.7 L1212.4,1473.8 L1181.5,1500.6Z" fill="#F8EAD1" stroke="#ECDCC1" stroke-width="2"/>
<path d="M1232.0,1480.9 L1232.9,1482.8 L1246.8,1496.0 L1249.1,1495.7 L1257.4,1491.0 L1258.6,1489.3 L1258.0,1486.6 L1247.2,1476.7 L1234.0,1477.0 L1232.3,1478.4Z" fill="#FDF6E9" stroke="none" stroke-width="1"/>
<path d="M1259.9,1525.6 L1259.0,1523.5 L1246.3,1510.4 L1243.7,1509.5 L1233.4,1517.0 L1229.9,1531.2 L1231.6,1533.5 L1254.3,1544.6 L1256.3,1544.9 L1259.4,1541.9Z" fill="#FDF6E9" stroke="none" stroke-width="1"/>
<path d="M1206.8,1504.1 L1207.5,1502.2 L1206.8,1495.9 L1202.5,1491.5 L1199.4,1491.4 L1186.0,1503.5 L1189.7,1519.2 L1191.8,1520.2 L1194.0,1519.3Z" fill="#FDF6E9" stroke="none" stroke-width="1"/>
<path d="M1263.9,1523.8 L1262.3,1526.1 L1262.0,1535.5 L1263.1,1537.6 L1265.4,1538.3 L1274.9,1531.8 L1275.2,1522.6 L1274.1,1520.6 L1271.9,1519.9Z" fill="#FDF6E9" stroke="none" stroke-width="1"/>
<path d="M1194.7,1522.2 L1194.2,1525.0 L1196.2,1527.0 L1224.9,1532.3 L1227.4,1530.3 L1230.3,1517.8 L1228.8,1515.5 L1209.5,1505.9 L1207.5,1506.9Z" fill="#FDF6E9" stroke="none" stroke-width="1"/>
<path d="M1206.8,1492.3 L1210.1,1492.9 L1228.0,1482.8 L1229.5,1480.8 L1229.1,1478.5 L1226.7,1477.1 L1214.7,1478.2 L1204.6,1487.2 L1204.5,1489.7Z" fill="#FDF6E9" stroke="none" stroke-width="1"/>
<path d="M1259.8,1520.8 L1263.3,1521.4 L1273.6,1516.1 L1274.9,1513.8 L1274.3,1502.2 L1264.2,1492.4 L1262.3,1491.6 L1248.6,1498.8 L1246.3,1505.5 L1246.9,1507.6Z" fill="#FDF6E9" stroke="none" stroke-width="1"/>
<path d="M1230.9,1535.8 L1228.9,1535.6 L1227.0,1537.0 L1221.9,1553.9 L1223.5,1556.0 L1234.6,1559.9 L1249.7,1549.7 L1250.7,1547.1 L1249.3,1544.9Z" fill="#FDF6E9" stroke="none" stroke-width="1"/>
<path d="M1224.0,1538.1 L1223.8,1535.8 L1221.7,1534.3 L1195.9,1529.4 L1193.7,1530.2 L1192.7,1532.0 L1196.2,1545.4 L1216.4,1553.3 L1219.6,1551.8Z" fill="#FDF6E9" stroke="none" stroke-width="1"/>
<path d="M1230.5,1513.7 L1233.4,1513.7 L1242.9,1506.7 L1245.2,1499.5 L1244.3,1497.4 L1232.4,1485.6 L1230.2,1484.8 L1211.1,1495.1 L1209.6,1497.7 L1210.9,1503.2Z" fill="#FDF6E9" stroke="none" stroke-width="1"/>
<ellipse cx="1231.1" cy="1516.5" rx="14" ry="10" fill="#F4E8D3" stroke="#ECDFC8" stroke-width="1.2"/>
<path d="M1283.1,1499.6 L1282.9,1499.8 L1282.7,1499.9 L1282.5,1500.1 L1282.3,1500.3 L1282.2,1500.6 L1282.1,1500.8 L1281.9,1501.1 L1281.9,1501.3 L1281.8,1501.6 L1281.8,1501.8 L1281.8,1502.1 L1282.5,1532.7 L1282.6,1533.0 L1282.6,1533.2 L1282.7,1533.5 L1282.8,1533.8 L1282.9,1534.0 L1283.1,1534.3 L1283.3,1534.5 L1283.5,1534.7 L1283.7,1534.9 L1334.7,1571.5 L1334.9,1571.6 L1335.2,1571.8 L1335.5,1571.9 L1335.7,1572.0 L1336.0,1572.0 L1336.3,1572.0 L1336.6,1572.0 L1336.9,1572.0 L1337.1,1571.9 L1337.4,1571.8 L1337.7,1571.7 L1337.9,1571.5 L1366.7,1552.1 L1366.9,1551.9 L1367.1,1551.7 L1367.3,1551.5 L1367.5,1551.3 L1367.6,1551.0 L1367.7,1550.8 L1367.8,1550.5 L1367.9,1550.2 L1372.8,1517.6 L1372.8,1517.4 L1372.8,1517.1 L1372.8,1516.8 L1372.7,1516.5 L1372.6,1516.2 L1372.5,1516.0 L1372.4,1515.7 L1372.2,1515.5 L1354.4,1493.0 L1354.2,1492.9 L1354.0,1492.7 L1353.8,1492.5 L1353.6,1492.4 L1325.5,1476.2 L1325.3,1476.0 L1325.1,1475.9 L1324.8,1475.9 L1324.5,1475.8 L1324.3,1475.8 L1324.0,1475.8 L1323.7,1475.8 L1323.5,1475.9 L1323.2,1476.0 L1323.0,1476.1 L1322.7,1476.2 L1283.1,1499.6Z" fill="#F8EAD1" stroke="#ECDCC1" stroke-width="2"/>
<path d="M1287.5,1507.5 L1301.0,1515.7 L1308.4,1514.3 L1313.4,1508.0 L1310.3,1493.5 L1308.5,1491.4 L1305.9,1491.6 L1288.0,1502.2 L1286.7,1503.7Z" fill="#FDF6E9" stroke="none" stroke-width="1"/>
<path d="M1337.2,1491.9 L1337.6,1489.9 L1336.7,1488.1 L1324.6,1481.3 L1313.5,1487.1 L1312.0,1489.6 L1315.5,1504.6 L1318.1,1506.6 L1328.0,1505.9Z" fill="#FDF6E9" stroke="none" stroke-width="1"/>
<path d="M1309.7,1545.4 L1320.4,1535.8 L1320.1,1533.8 L1309.6,1518.0 L1307.2,1517.1 L1301.0,1518.7 L1295.7,1535.5 L1296.5,1538.2 L1308.0,1545.9Z" fill="#FDF6E9" stroke="none" stroke-width="1"/>
<path d="M1313.2,1545.7 L1312.1,1547.9 L1313.2,1550.2 L1334.9,1565.9 L1337.6,1566.0 L1342.0,1562.7 L1342.0,1559.9 L1330.1,1537.6 L1323.1,1537.6Z" fill="#FDF6E9" stroke="none" stroke-width="1"/>
<path d="M1342.4,1521.9 L1341.6,1524.4 L1343.1,1526.6 L1363.5,1533.2 L1366.0,1531.0 L1367.8,1518.1 L1360.0,1507.7 L1357.4,1506.8Z" fill="#FDF6E9" stroke="none" stroke-width="1"/>
<path d="M1354.7,1505.2 L1355.4,1502.1 L1351.1,1496.5 L1341.5,1491.6 L1339.4,1492.9 L1331.2,1505.8 L1330.8,1507.8 L1338.1,1518.2 L1340.8,1519.2 L1342.6,1518.3Z" fill="#FDF6E9" stroke="none" stroke-width="1"/>
<path d="M1343.7,1557.9 L1345.5,1559.4 L1347.5,1559.3 L1362.5,1549.2 L1363.5,1547.7 L1364.8,1538.6 L1363.1,1536.0 L1340.8,1528.6 L1339.0,1529.4 L1334.1,1534.7 L1333.3,1536.9Z" fill="#FDF6E9" stroke="none" stroke-width="1"/>
<path d="M1325.0,1534.9 L1331.4,1534.1 L1338.1,1526.8 L1338.3,1522.5 L1328.2,1509.3 L1315.7,1509.4 L1311.8,1514.4 L1311.9,1517.0 L1323.2,1534.0Z" fill="#FDF6E9" stroke="none" stroke-width="1"/>
<path d="M1291.4,1513.1 L1288.3,1513.0 L1286.8,1515.6 L1287.3,1530.7 L1288.4,1532.5 L1291.3,1533.9 L1294.2,1532.1 L1297.9,1518.9 L1297.0,1516.8Z" fill="#FDF6E9" stroke="none" stroke-width="1"/>
<ellipse cx="1327.8" cy="1522.9" rx="14" ry="10" fill="#F4E8D3" stroke="#ECDFC8" stroke-width="1.2"/>
<path d="M996.5,1657.1 L996.7,1657.2 L997.0,1657.3 L997.3,1657.3 L997.5,1657.3 L997.8,1657.4 L998.1,1657.3 L998.4,1657.3 L998.6,1657.2 L998.9,1657.1 L999.1,1657.0 L1033.2,1637.3 L1033.4,1637.1 L1033.6,1637.0 L1033.8,1636.8 L1034.0,1636.6 L1034.1,1636.4 L1034.3,1636.1 L1034.4,1635.9 L1034.5,1635.6 L1034.5,1635.4 L1034.6,1635.1 L1034.6,1634.8 L1033.5,1572.9 L1033.5,1572.6 L1033.5,1572.4 L1033.4,1572.1 L1033.3,1571.8 L1033.2,1571.6 L1033.0,1571.4 L1032.9,1571.1 L1032.7,1570.9 L1020.7,1559.1 L1020.5,1558.9 L1020.2,1558.8 L1020.0,1558.6 L1019.8,1558.5 L1019.5,1558.4 L1019.2,1558.3 L1019.0,1558.3 L1018.7,1558.3 L1018.4,1558.3 L1018.2,1558.3 L1017.9,1558.4 L1017.6,1558.5 L1017.4,1558.6 L1017.2,1558.8 L1016.9,1558.9 L1016.7,1559.1 L994.8,1581.0 L994.6,1581.2 L994.5,1581.4 L994.3,1581.7 L994.2,1581.9 L969.5,1638.9 L969.4,1639.2 L969.0,1640.5 L968.9,1640.7 L968.8,1641.0 L968.8,1641.3 L968.8,1641.5 L968.8,1641.8 L968.9,1642.1 L969.0,1642.3 L969.1,1642.6 L969.2,1642.8 L969.3,1643.0 L969.5,1643.2 L969.7,1643.4 L969.9,1643.6 L970.1,1643.8 L970.3,1643.9 L996.5,1657.1Z" fill="#F8EAD1" stroke="#ECDCC1" stroke-width="2"/>
<path d="M993.1,1632.3 L992.3,1634.4 L993.3,1636.5 L1008.0,1645.4 L1010.0,1645.2 L1017.9,1640.7 L1019.3,1638.9 L1019.1,1636.6 L1009.9,1620.3 L1008.1,1618.9 L1005.3,1619.5Z" fill="#FDF6E9" stroke="none" stroke-width="1"/>
<path d="M1026.3,1591.5 L1028.3,1590.5 L1029.1,1588.7 L1028.9,1578.7 L1027.1,1576.3 L1008.9,1574.3 L1001.9,1580.9 L1002.2,1583.6 L1009.3,1592.2Z" fill="#FDF6E9" stroke="none" stroke-width="1"/>
<path d="M1001.9,1587.2 L999.6,1586.0 L997.1,1587.3 L989.9,1604.1 L991.5,1606.8 L1002.1,1611.0 L1004.0,1610.3 L1005.0,1608.8 L1007.1,1594.8Z" fill="#FDF6E9" stroke="none" stroke-width="1"/>
<path d="M994.5,1640.2 L992.5,1639.8 L990.7,1640.8 L988.5,1644.6 L988.4,1646.7 L989.9,1648.5 L996.5,1651.8 L998.5,1651.8 L1002.7,1649.3 L1003.3,1646.3Z" fill="#FDF6E9" stroke="none" stroke-width="1"/>
<path d="M1002.8,1618.6 L1003.6,1616.2 L1002.3,1614.1 L988.8,1609.0 L986.9,1610.7 L981.2,1623.8 L981.1,1625.9 L982.6,1627.7 L988.6,1630.8 L990.7,1630.8Z" fill="#FDF6E9" stroke="none" stroke-width="1"/>
<path d="M1014.7,1617.0 L1013.2,1618.4 L1013.0,1620.7 L1021.4,1635.8 L1024.4,1636.8 L1028.8,1634.3 L1029.8,1632.0 L1028.9,1613.7 L1025.7,1612.7Z" fill="#FDF6E9" stroke="none" stroke-width="1"/>
<path d="M1006.8,1612.6 L1007.7,1615.3 L1010.4,1616.1 L1028.3,1609.0 L1029.4,1606.6 L1029.2,1596.6 L1028.5,1594.9 L1026.0,1593.9 L1010.4,1595.4 L1009.3,1597.1Z" fill="#FDF6E9" stroke="none" stroke-width="1"/>
<path d="M978.1,1631.0 L974.9,1639.6 L976.0,1641.4 L984.1,1645.0 L986.2,1643.7 L990.0,1635.9 L988.5,1633.5 L980.3,1629.7Z" fill="#FDF6E9" stroke="none" stroke-width="1"/>
<path d="M1020.5,1573.0 L1023.1,1572.0 L1023.7,1569.2 L1020.4,1565.5 L1017.9,1565.1 L1014.6,1568.0 L1014.2,1570.5 L1015.9,1572.4Z" fill="#FDF6E9" stroke="none" stroke-width="1"/>
<ellipse cx="1007.2" cy="1612.4" rx="14" ry="10" fill="#F4E8D3" stroke="#ECDFC8" stroke-width="1.2"/>
<path d="M1132.0,1621.9 L1132.3,1621.8 L1132.5,1621.6 L1132.7,1621.4 L1132.8,1621.2 L1133.0,1621.0 L1133.1,1620.8 L1133.2,1620.5 L1133.3,1620.3 L1133.4,1620.0 L1133.4,1619.7 L1133.4,1619.5 L1133.5,1597.7 L1133.5,1597.4 L1133.4,1597.1 L1133.3,1596.9 L1133.2,1596.6 L1133.1,1596.3 L1133.0,1596.1 L1132.8,1595.9 L1102.4,1560.9 L1102.2,1560.7 L1102.0,1560.5 L1101.8,1560.4 L1101.5,1560.2 L1101.3,1560.1 L1101.0,1560.0 L1100.8,1560.0 L1100.5,1559.9 L1100.2,1559.9 L1100.0,1559.9 L1099.7,1560.0 L1038.2,1571.8 L1038.0,1571.8 L1037.7,1571.9 L1037.4,1572.1 L1037.2,1572.2 L1037.0,1572.4 L1036.8,1572.6 L1036.6,1572.8 L1036.4,1573.0 L1036.3,1573.2 L1036.2,1573.5 L1036.1,1573.7 L1036.0,1574.0 L1036.0,1574.3 L1036.0,1574.6 L1037.0,1634.1 L1037.0,1634.4 L1037.0,1634.7 L1037.1,1634.9 L1037.2,1635.2 L1037.3,1635.4 L1037.5,1635.7 L1037.6,1635.9 L1037.8,1636.1 L1038.0,1636.3 L1038.3,1636.4 L1038.5,1636.6 L1038.8,1636.7 L1039.0,1636.8 L1083.5,1648.9 L1083.7,1649.0 L1084.0,1649.0 L1084.3,1649.0 L1084.6,1649.0 L1084.8,1648.9 L1085.1,1648.8 L1085.4,1648.7 L1085.6,1648.6 L1132.0,1621.9Z" fill="#F8EAD1" stroke="#ECDCC1" stroke-width="2"/>
<path d="M1045.6,1623.3 L1064.9,1612.3 L1067.6,1604.5 L1064.3,1599.3 L1044.3,1595.4 L1041.7,1596.5 L1041.1,1598.4 L1041.4,1620.6 L1042.5,1622.9Z" fill="#FDF6E9" stroke="none" stroke-width="1"/>
<path d="M1085.5,1600.8 L1084.9,1602.8 L1085.6,1604.4 L1099.6,1617.5 L1102.0,1616.7 L1114.3,1605.3 L1115.3,1603.5 L1114.5,1601.1 L1100.5,1586.1 L1098.7,1585.2 L1096.1,1586.2Z" fill="#FDF6E9" stroke="none" stroke-width="1"/>
<path d="M1043.2,1627.3 L1041.6,1630.4 L1043.5,1633.1 L1071.8,1640.8 L1073.9,1640.5 L1075.2,1638.9 L1075.1,1636.6 L1066.4,1618.5 L1064.7,1616.9 L1062.3,1617.1Z" fill="#FDF6E9" stroke="none" stroke-width="1"/>
<path d="M1072.2,1604.7 L1069.7,1606.4 L1067.3,1614.5 L1076.6,1634.2 L1079.8,1635.6 L1094.7,1621.1 L1095.5,1618.4 L1082.4,1604.7Z" fill="#FDF6E9" stroke="none" stroke-width="1"/>
<path d="M1060.7,1595.8 L1062.9,1595.3 L1064.1,1593.7 L1067.3,1574.8 L1066.4,1572.5 L1063.7,1571.7 L1041.6,1576.5 L1040.7,1578.6 L1040.9,1590.2 L1041.8,1592.0Z" fill="#FDF6E9" stroke="none" stroke-width="1"/>
<path d="M1126.2,1604.2 L1118.0,1605.3 L1104.0,1618.4 L1104.1,1621.2 L1109.5,1628.1 L1112.1,1627.9 L1128.5,1617.8 L1128.3,1605.5Z" fill="#FDF6E9" stroke="none" stroke-width="1"/>
<path d="M1082.0,1569.6 L1079.6,1568.6 L1072.5,1570.0 L1070.3,1571.8 L1066.1,1596.6 L1070.3,1602.1 L1082.0,1601.3 L1094.0,1584.7 L1093.6,1581.9Z" fill="#FDF6E9" stroke="none" stroke-width="1"/>
<path d="M1080.9,1638.7 L1080.0,1640.5 L1080.8,1642.7 L1082.7,1643.8 L1084.8,1643.7 L1105.1,1632.0 L1106.2,1630.3 L1106.1,1628.3 L1101.6,1621.8 L1098.3,1621.2Z" fill="#FDF6E9" stroke="none" stroke-width="1"/>
<path d="M1087.2,1571.6 L1097.9,1582.0 L1099.8,1581.6 L1106.6,1574.6 L1105.9,1572.2 L1099.0,1565.1 L1088.8,1566.9 L1086.7,1569.1Z" fill="#FDF6E9" stroke="none" stroke-width="1"/>
<path d="M1103.6,1581.5 L1102.6,1583.6 L1103.2,1585.5 L1118.0,1601.3 L1119.9,1602.0 L1125.3,1601.8 L1127.5,1600.6 L1127.6,1597.0 L1111.0,1578.1 L1107.9,1577.8Z" fill="#FDF6E9" stroke="none" stroke-width="1"/>
<ellipse cx="1081.4" cy="1604.2" rx="14" ry="10" fill="#F4E8D3" stroke="#ECDFC8" stroke-width="1.2"/>
<path d="M1236.3,1635.6 L1236.6,1635.5 L1236.8,1635.4 L1237.0,1635.2 L1237.2,1635.0 L1237.4,1634.8 L1237.6,1634.5 L1237.7,1634.3 L1237.8,1634.0 L1237.9,1633.8 L1238.0,1633.5 L1238.0,1633.2 L1238.0,1632.9 L1234.5,1569.6 L1234.4,1569.3 L1234.4,1569.0 L1234.3,1568.8 L1234.2,1568.5 L1234.1,1568.3 L1233.9,1568.1 L1233.8,1567.9 L1233.6,1567.7 L1233.4,1567.5 L1233.1,1567.4 L1232.9,1567.2 L1232.7,1567.1 L1192.5,1551.8 L1192.2,1551.7 L1191.9,1551.7 L1191.7,1551.6 L1191.4,1551.6 L1191.1,1551.6 L1190.9,1551.7 L1190.6,1551.8 L1190.4,1551.9 L1190.1,1552.0 L1189.9,1552.1 L1189.7,1552.3 L1136.9,1595.9 L1136.7,1596.1 L1136.5,1596.3 L1136.3,1596.5 L1136.2,1596.8 L1136.1,1597.0 L1136.0,1597.3 L1135.9,1597.5 L1135.9,1597.8 L1135.9,1598.1 L1135.8,1619.8 L1135.8,1620.1 L1135.9,1620.4 L1136.0,1620.7 L1136.1,1620.9 L1136.2,1621.2 L1136.3,1621.4 L1136.5,1621.7 L1136.7,1621.9 L1136.9,1622.0 L1181.8,1657.5 L1182.0,1657.7 L1182.3,1657.8 L1182.5,1657.9 L1182.8,1658.0 L1183.0,1658.1 L1183.3,1658.1 L1183.6,1658.1 L1183.9,1658.1 L1184.1,1658.0 L1184.4,1658.0 L1184.6,1657.9 L1236.3,1635.6Z" fill="#F8EAD1" stroke="#ECDCC1" stroke-width="2"/>
<path d="M1154.7,1625.4 L1153.6,1627.8 L1154.7,1630.1 L1175.5,1646.5 L1177.5,1647.0 L1179.5,1645.9 L1186.4,1627.9 L1185.4,1624.7 L1167.8,1616.0Z" fill="#FDF6E9" stroke="none" stroke-width="1"/>
<path d="M1188.6,1621.5 L1189.0,1623.8 L1190.8,1625.1 L1202.4,1624.6 L1210.7,1612.7 L1210.5,1609.7 L1199.6,1597.2 L1195.5,1597.4 L1193.6,1599.1Z" fill="#FDF6E9" stroke="none" stroke-width="1"/>
<path d="M1179.8,1571.9 L1177.8,1570.0 L1175.2,1570.3 L1156.5,1586.1 L1156.9,1589.5 L1165.9,1598.0 L1168.1,1598.2 L1183.3,1593.9 L1185.2,1592.4 L1185.4,1590.1Z" fill="#FDF6E9" stroke="none" stroke-width="1"/>
<path d="M1216.9,1636.9 L1219.9,1637.6 L1231.3,1632.7 L1232.8,1631.2 L1232.2,1612.8 L1230.5,1610.6 L1214.2,1612.4 L1206.5,1623.9 L1206.9,1627.2Z" fill="#FDF6E9" stroke="none" stroke-width="1"/>
<path d="M1198.1,1559.0 L1194.9,1559.7 L1194.4,1563.2 L1210.1,1581.9 L1212.1,1582.1 L1227.7,1579.0 L1229.7,1577.5 L1229.9,1572.7 L1228.5,1570.6Z" fill="#FDF6E9" stroke="none" stroke-width="1"/>
<path d="M1181.3,1648.4 L1182.0,1651.7 L1185.2,1652.5 L1212.1,1640.9 L1213.4,1639.4 L1213.5,1637.4 L1203.3,1627.4 L1190.2,1627.8 L1188.3,1629.6Z" fill="#FDF6E9" stroke="none" stroke-width="1"/>
<path d="M1164.8,1614.5 L1165.9,1612.2 L1164.9,1600.8 L1154.3,1590.4 L1151.0,1590.4 L1141.1,1598.7 L1140.7,1618.4 L1148.2,1624.9 L1151.4,1624.9Z" fill="#FDF6E9" stroke="none" stroke-width="1"/>
<path d="M1198.4,1594.5 L1206.7,1585.7 L1207.3,1582.9 L1189.9,1561.7 L1186.9,1561.0 L1181.8,1564.9 L1180.9,1567.1 L1188.5,1591.9 L1193.0,1595.2Z" fill="#FDF6E9" stroke="none" stroke-width="1"/>
<path d="M1188.7,1595.8 L1186.5,1595.5 L1168.5,1600.9 L1167.6,1603.3 L1169.0,1613.3 L1182.8,1620.6 L1185.8,1620.2 L1186.8,1618.5 L1191.1,1599.2 L1190.6,1597.2Z" fill="#FDF6E9" stroke="none" stroke-width="1"/>
<path d="M1211.6,1584.7 L1203.3,1593.5 L1202.6,1595.4 L1203.3,1597.3 L1212.6,1608.5 L1215.3,1609.6 L1230.7,1607.1 L1231.7,1604.7 L1229.9,1582.7 L1227.3,1581.5Z" fill="#FDF6E9" stroke="none" stroke-width="1"/>
<ellipse cx="1190.9" cy="1605.4" rx="14" ry="10" fill="#F4E8D3" stroke="#ECDFC8" stroke-width="1.2"/>
<path d="M1283.0,1537.3 L1282.8,1537.2 L1282.5,1537.1 L1282.3,1537.0 L1282.0,1536.9 L1281.8,1536.8 L1281.5,1536.8 L1281.2,1536.8 L1281.0,1536.8 L1280.7,1536.9 L1280.5,1537.0 L1280.2,1537.0 L1280.0,1537.2 L1279.8,1537.3 L1238.0,1566.6 L1237.8,1566.8 L1237.6,1567.0 L1237.4,1567.2 L1237.2,1567.4 L1237.1,1567.7 L1237.0,1568.0 L1236.9,1568.2 L1236.9,1568.5 L1236.8,1568.8 L1236.8,1569.1 L1240.4,1633.1 L1240.4,1633.4 L1240.5,1633.6 L1240.6,1633.9 L1240.7,1634.2 L1240.8,1634.4 L1241.0,1634.7 L1241.2,1634.9 L1241.4,1635.1 L1241.6,1635.2 L1241.9,1635.4 L1242.1,1635.5 L1277.6,1650.7 L1277.9,1650.8 L1278.2,1650.8 L1278.4,1650.9 L1278.7,1650.9 L1279.0,1650.9 L1279.2,1650.8 L1279.5,1650.8 L1279.8,1650.7 L1280.0,1650.6 L1332.0,1624.3 L1332.2,1624.2 L1332.4,1624.0 L1332.7,1623.8 L1332.8,1623.6 L1333.0,1623.4 L1333.2,1623.2 L1333.3,1622.9 L1333.4,1622.7 L1333.5,1622.4 L1333.5,1622.1 L1333.5,1621.9 L1335.0,1576.2 L1335.0,1575.9 L1335.0,1575.6 L1334.9,1575.4 L1334.8,1575.1 L1334.7,1574.9 L1334.6,1574.6 L1334.4,1574.4 L1334.2,1574.2 L1334.0,1574.0 L1333.8,1573.8 L1283.0,1537.3Z" fill="#F8EAD1" stroke="#ECDCC1" stroke-width="2"/>
<path d="M1271.5,1579.8 L1270.3,1587.3 L1271.8,1588.8 L1291.2,1595.7 L1293.8,1595.5 L1309.4,1565.2 L1309.3,1562.3 L1302.7,1557.9 L1286.9,1561.9Z" fill="#FDF6E9" stroke="none" stroke-width="1"/>
<path d="M1246.0,1592.7 L1243.8,1593.7 L1243.0,1595.6 L1244.7,1619.4 L1247.1,1620.9 L1263.2,1621.4 L1264.7,1618.7 L1262.9,1594.0 L1260.6,1592.5Z" fill="#FDF6E9" stroke="none" stroke-width="1"/>
<path d="M1299.5,1631.5 L1300.9,1633.3 L1303.4,1633.5 L1327.8,1621.1 L1328.9,1618.8 L1328.5,1608.9 L1326.2,1607.7 L1300.5,1608.4 L1296.2,1619.6Z" fill="#FDF6E9" stroke="none" stroke-width="1"/>
<path d="M1270.2,1624.4 L1267.7,1626.7 L1267.7,1640.1 L1269.1,1641.9 L1277.4,1645.4 L1279.9,1645.4 L1296.1,1637.2 L1297.5,1635.7 L1294.7,1623.4 L1293.1,1621.5Z" fill="#FDF6E9" stroke="none" stroke-width="1"/>
<path d="M1267.1,1619.1 L1268.1,1621.2 L1270.2,1621.9 L1293.0,1618.5 L1294.5,1616.7 L1297.7,1607.8 L1297.5,1605.8 L1292.8,1598.8 L1269.8,1590.6 L1267.4,1590.7 L1265.7,1593.4Z" fill="#FDF6E9" stroke="none" stroke-width="1"/>
<path d="M1265.2,1627.3 L1264.5,1625.4 L1263.0,1624.4 L1248.0,1623.3 L1245.8,1624.1 L1244.8,1626.2 L1245.0,1630.4 L1246.2,1632.1 L1262.2,1638.7 L1265.1,1636.6Z" fill="#FDF6E9" stroke="none" stroke-width="1"/>
<path d="M1296.4,1596.6 L1296.4,1599.2 L1299.3,1604.1 L1300.9,1605.3 L1328.1,1604.8 L1329.4,1602.4 L1329.8,1577.0 L1315.2,1566.2 L1312.2,1566.2Z" fill="#FDF6E9" stroke="none" stroke-width="1"/>
<path d="M1263.1,1590.0 L1267.1,1587.6 L1268.5,1579.6 L1257.3,1562.3 L1254.1,1561.3 L1241.9,1570.3 L1242.7,1588.3 L1245.3,1590.3Z" fill="#FDF6E9" stroke="none" stroke-width="1"/>
<path d="M1285.3,1558.5 L1287.5,1559.1 L1294.9,1557.2 L1296.4,1555.7 L1296.5,1553.7 L1295.4,1552.0 L1283.1,1543.2 L1280.4,1542.8 L1275.1,1546.4 L1274.4,1549.4Z" fill="#FDF6E9" stroke="none" stroke-width="1"/>
<path d="M1282.4,1563.2 L1283.1,1561.3 L1282.4,1559.3 L1270.6,1550.6 L1268.4,1551.1 L1259.9,1557.0 L1258.9,1558.7 L1259.3,1560.9 L1268.0,1574.2 L1269.9,1575.5 L1272.6,1574.7Z" fill="#FDF6E9" stroke="none" stroke-width="1"/>
<ellipse cx="1284.0" cy="1595.9" rx="14" ry="10" fill="#F4E8D3" stroke="#ECDFC8" stroke-width="1.2"/>
<path d="M1335.9,1622.2 L1335.9,1622.5 L1336.0,1622.7 L1336.0,1623.0 L1336.1,1623.3 L1336.2,1623.5 L1336.3,1623.8 L1336.5,1624.0 L1336.7,1624.2 L1336.9,1624.4 L1337.1,1624.6 L1366.6,1645.7 L1366.8,1645.8 L1367.0,1645.9 L1367.3,1646.0 L1367.5,1646.1 L1367.8,1646.2 L1368.1,1646.2 L1368.3,1646.2 L1368.6,1646.2 L1368.9,1646.1 L1415.3,1635.1 L1415.6,1635.0 L1415.9,1634.9 L1416.1,1634.8 L1416.4,1634.6 L1416.6,1634.5 L1416.8,1634.3 L1417.0,1634.0 L1417.1,1633.8 L1417.2,1633.6 L1417.3,1633.3 L1417.4,1633.0 L1417.5,1632.7 L1417.5,1632.5 L1417.5,1632.2 L1417.5,1631.9 L1417.4,1631.6 L1409.3,1603.3 L1409.3,1603.2 L1396.4,1562.2 L1396.3,1561.9 L1396.2,1561.7 L1396.0,1561.4 L1395.8,1561.2 L1395.6,1561.0 L1395.4,1560.8 L1395.2,1560.7 L1395.0,1560.5 L1394.7,1560.4 L1394.4,1560.3 L1370.3,1553.8 L1370.0,1553.7 L1369.7,1553.7 L1369.5,1553.7 L1369.2,1553.7 L1368.9,1553.7 L1368.7,1553.8 L1368.4,1553.9 L1368.2,1554.0 L1368.0,1554.1 L1338.6,1573.9 L1338.4,1574.1 L1338.2,1574.3 L1338.0,1574.5 L1337.9,1574.7 L1337.7,1574.9 L1337.6,1575.2 L1337.5,1575.4 L1337.5,1575.7 L1337.4,1575.9 L1337.4,1576.2 L1335.9,1622.2Z" fill="#F8EAD1" stroke="#ECDCC1" stroke-width="2"/>
<path d="M1398.9,1605.1 L1402.4,1605.0 L1403.9,1602.1 L1397.0,1580.4 L1394.7,1579.1 L1382.1,1580.3 L1377.2,1589.7 L1377.5,1592.3Z" fill="#FDF6E9" stroke="none" stroke-width="1"/>
<path d="M1401.6,1607.8 L1391.0,1622.4 L1394.6,1632.9 L1396.7,1634.4 L1409.6,1631.6 L1411.5,1629.5 L1406.1,1609.3 L1404.2,1607.6Z" fill="#FDF6E9" stroke="none" stroke-width="1"/>
<path d="M1363.8,1617.0 L1361.5,1616.5 L1359.5,1617.7 L1354.6,1630.3 L1355.6,1632.0 L1365.3,1639.0 L1367.6,1639.5 L1369.9,1637.6 L1372.8,1624.9 L1371.9,1623.1Z" fill="#FDF6E9" stroke="none" stroke-width="1"/>
<path d="M1357.7,1611.7 L1361.1,1610.5 L1369.1,1594.8 L1368.0,1592.5 L1357.5,1586.1 L1342.3,1591.3 L1341.6,1592.9 L1341.2,1604.2 L1343.0,1607.0Z" fill="#FDF6E9" stroke="none" stroke-width="1"/>
<path d="M1370.1,1591.0 L1372.4,1591.5 L1374.2,1590.3 L1379.7,1578.2 L1374.2,1560.8 L1372.8,1559.4 L1370.3,1558.8 L1359.0,1565.8 L1357.9,1568.1 L1359.5,1583.5Z" fill="#FDF6E9" stroke="none" stroke-width="1"/>
<path d="M1375.9,1594.5 L1373.8,1594.2 L1371.9,1595.4 L1363.5,1611.0 L1363.6,1613.4 L1374.9,1622.2 L1388.2,1621.2 L1396.5,1609.9 L1396.6,1607.1Z" fill="#FDF6E9" stroke="none" stroke-width="1"/>
<path d="M1357.0,1617.4 L1356.9,1614.8 L1355.1,1613.4 L1344.2,1610.0 L1342.3,1610.5 L1341.1,1612.0 L1341.0,1621.1 L1349.6,1627.6 L1351.4,1627.6 L1353.1,1626.4Z" fill="#FDF6E9" stroke="none" stroke-width="1"/>
<path d="M1389.2,1625.8 L1386.5,1624.0 L1376.1,1625.2 L1372.8,1635.9 L1373.3,1638.4 L1376.1,1639.5 L1391.0,1635.7 L1391.9,1632.9Z" fill="#FDF6E9" stroke="none" stroke-width="1"/>
<path d="M1354.6,1584.3 L1356.7,1581.5 L1355.9,1573.0 L1354.4,1570.9 L1351.6,1570.9 L1342.4,1577.5 L1341.8,1584.6 L1343.3,1586.9 L1345.5,1587.3Z" fill="#FDF6E9" stroke="none" stroke-width="1"/>
<path d="M1381.4,1575.2 L1384.1,1577.3 L1394.0,1576.1 L1394.9,1573.2 L1391.9,1564.9 L1381.6,1561.7 L1378.9,1562.6 L1378.2,1565.3Z" fill="#FDF6E9" stroke="none" stroke-width="1"/>
<ellipse cx="1374.0" cy="1601.9" rx="14" ry="10" fill="#F4E8D3" stroke="#ECDFC8" stroke-width="1.2"/>
<path d="M970.2,1646.5 L970.0,1646.4 L969.7,1646.3 L969.4,1646.3 L969.2,1646.2 L968.9,1646.2 L968.6,1646.3 L968.3,1646.3 L968.1,1646.4 L967.8,1646.5 L967.6,1646.6 L967.3,1646.8 L967.1,1647.0 L966.9,1647.2 L966.7,1647.4 L966.6,1647.6 L966.4,1647.9 L966.3,1648.1 L957.9,1672.8 L957.8,1673.1 L952.2,1701.3 L952.1,1701.7 L949.7,1735.1 L949.7,1735.4 L949.7,1735.6 L949.7,1735.9 L949.8,1736.2 L949.9,1736.4 L950.0,1736.7 L950.1,1736.9 L950.3,1737.1 L950.5,1737.3 L950.7,1737.5 L950.9,1737.6 L951.1,1737.8 L961.4,1743.3 L961.6,1743.4 L961.9,1743.5 L962.2,1743.6 L962.5,1743.6 L962.7,1743.6 L963.0,1743.6 L963.3,1743.6 L963.6,1743.5 L963.8,1743.4 L964.1,1743.3 L964.3,1743.1 L964.5,1742.9 L997.0,1714.4 L997.2,1714.2 L997.4,1714.0 L997.6,1713.7 L997.7,1713.5 L997.8,1713.3 L997.9,1713.0 L998.0,1712.7 L998.0,1712.5 L998.0,1712.2 L996.7,1661.5 L996.7,1661.3 L996.7,1661.0 L996.6,1660.7 L996.5,1660.5 L996.4,1660.2 L996.2,1660.0 L996.0,1659.8 L995.9,1659.6 L995.6,1659.4 L995.4,1659.2 L995.2,1659.1 L970.2,1646.5Z" fill="#F8EAD1" stroke="#ECDCC1" stroke-width="2"/>
<path d="M979.8,1694.3 L982.4,1695.1 L992.2,1691.5 L992.3,1674.8 L990.2,1672.2 L977.8,1670.0 L975.7,1671.2 L968.3,1682.3 L969.1,1684.2Z" fill="#FDF6E9" stroke="none" stroke-width="1"/>
<path d="M960.0,1686.1 L956.6,1707.1 L958.5,1709.3 L971.1,1707.6 L972.7,1706.6 L977.8,1699.1 L978.2,1696.8 L966.0,1684.6 L962.1,1684.1Z" fill="#FDF6E9" stroke="none" stroke-width="1"/>
<path d="M973.3,1711.5 L970.6,1710.2 L958.1,1712.1 L956.5,1713.2 L954.6,1732.3 L955.7,1734.8 L960.9,1737.7 L963.2,1737.6 L978.9,1723.9 L979.2,1720.8Z" fill="#FDF6E9" stroke="none" stroke-width="1"/>
<path d="M975.4,1707.0 L975.2,1710.0 L980.6,1718.4 L982.2,1719.4 L984.4,1719.1 L993.0,1711.2 L992.6,1697.1 L989.7,1695.5 L982.0,1697.8Z" fill="#FDF6E9" stroke="none" stroke-width="1"/>
<path d="M975.9,1654.7 L972.8,1654.9 L971.6,1657.5 L977.0,1666.8 L988.9,1669.5 L991.3,1668.6 L992.1,1666.4 L991.2,1662.5Z" fill="#FDF6E9" stroke="none" stroke-width="1"/>
<path d="M962.0,1676.1 L963.0,1679.0 L966.2,1679.4 L973.9,1669.6 L974.0,1666.8 L970.5,1661.7 L968.2,1661.4 L966.4,1662.7Z" fill="#FDF6E9" stroke="none" stroke-width="1"/>
<ellipse cx="974.0" cy="1695.2" rx="14" ry="10" fill="#F4E8D3" stroke="#ECDFC8" stroke-width="1.2"/>
<path d="M1083.8,1653.4 L1083.7,1653.2 L1083.7,1652.9 L1083.6,1652.6 L1083.5,1652.4 L1083.4,1652.2 L1083.2,1651.9 L1083.0,1651.7 L1082.9,1651.5 L1082.6,1651.4 L1082.4,1651.2 L1082.2,1651.1 L1081.9,1651.0 L1081.7,1650.9 L1037.1,1638.7 L1036.8,1638.7 L1036.6,1638.7 L1036.3,1638.6 L1036.0,1638.7 L1035.7,1638.7 L1035.5,1638.8 L1035.2,1638.9 L1035.0,1639.0 L1000.5,1658.9 L1000.3,1659.1 L1000.1,1659.3 L999.9,1659.5 L999.7,1659.7 L999.5,1659.9 L999.4,1660.1 L999.3,1660.4 L999.2,1660.6 L999.2,1660.9 L999.1,1661.2 L999.1,1661.4 L1000.4,1711.5 L1000.4,1711.8 L1000.5,1712.1 L1000.5,1712.4 L1000.6,1712.6 L1000.8,1712.9 L1000.9,1713.1 L1001.1,1713.3 L1001.3,1713.5 L1001.5,1713.7 L1001.7,1713.9 L1002.0,1714.0 L1053.5,1738.1 L1053.7,1738.2 L1054.0,1738.3 L1054.3,1738.4 L1054.5,1738.4 L1054.8,1738.4 L1055.1,1738.4 L1055.3,1738.3 L1055.6,1738.2 L1055.9,1738.1 L1056.1,1738.0 L1086.4,1719.7 L1086.7,1719.5 L1086.9,1719.4 L1087.1,1719.2 L1087.2,1719.0 L1087.4,1718.7 L1087.5,1718.5 L1087.6,1718.2 L1087.7,1718.0 L1087.8,1717.7 L1087.8,1717.4 L1087.8,1717.1 L1083.8,1653.4Z" fill="#F8EAD1" stroke="#ECDCC1" stroke-width="2"/>
<path d="M1038.4,1644.0 L1035.6,1644.6 L1034.6,1647.1 L1039.7,1676.7 L1044.4,1681.7 L1046.9,1682.2 L1048.8,1680.9 L1064.5,1655.0 L1064.8,1652.8 L1063.0,1650.7Z" fill="#FDF6E9" stroke="none" stroke-width="1"/>
<path d="M1018.0,1675.1 L1020.1,1676.4 L1033.6,1676.7 L1036.4,1675.0 L1032.7,1650.4 L1031.0,1648.2 L1028.3,1648.3 L1009.7,1659.7 L1009.7,1662.4Z" fill="#FDF6E9" stroke="none" stroke-width="1"/>
<path d="M1042.4,1683.4 L1037.1,1679.2 L1018.9,1679.1 L1008.1,1692.7 L1007.9,1695.5 L1009.3,1696.9 L1024.1,1702.6 L1026.6,1702.5 L1042.5,1686.2Z" fill="#FDF6E9" stroke="none" stroke-width="1"/>
<path d="M1059.5,1728.8 L1054.3,1716.9 L1052.4,1716.5 L1040.0,1721.0 L1038.3,1722.5 L1038.2,1724.8 L1039.7,1726.5 L1053.4,1732.9 L1055.4,1732.9 L1058.5,1731.0Z" fill="#FDF6E9" stroke="none" stroke-width="1"/>
<path d="M1056.0,1687.3 L1054.1,1688.7 L1053.7,1691.0 L1059.8,1703.2 L1079.1,1706.0 L1081.6,1704.7 L1082.2,1702.8 L1081.1,1685.4 L1079.6,1683.1 L1077.4,1682.7Z" fill="#FDF6E9" stroke="none" stroke-width="1"/>
<path d="M1028.6,1704.1 L1027.7,1706.4 L1029.7,1718.6 L1032.5,1720.9 L1053.5,1713.4 L1057.2,1705.0 L1049.8,1688.4 L1047.0,1686.7 L1044.7,1687.6Z" fill="#FDF6E9" stroke="none" stroke-width="1"/>
<path d="M1061.9,1706.3 L1058.9,1707.7 L1056.7,1714.3 L1061.1,1725.7 L1062.6,1727.1 L1065.3,1726.9 L1082.6,1715.9 L1082.6,1710.7 L1080.9,1708.8Z" fill="#FDF6E9" stroke="none" stroke-width="1"/>
<path d="M1008.9,1699.4 L1006.6,1699.4 L1005.0,1701.4 L1005.8,1710.3 L1022.7,1718.5 L1025.8,1717.9 L1026.7,1715.5 L1024.7,1705.8Z" fill="#FDF6E9" stroke="none" stroke-width="1"/>
<path d="M1051.7,1680.6 L1051.7,1683.6 L1054.4,1685.2 L1079.5,1679.4 L1080.5,1677.0 L1078.5,1655.4 L1070.8,1652.8 L1068.4,1653.5Z" fill="#FDF6E9" stroke="none" stroke-width="1"/>
<path d="M1004.4,1684.8 L1005.8,1687.3 L1008.9,1687.3 L1016.0,1677.9 L1015.7,1676.0 L1009.5,1666.5 L1007.6,1665.3 L1005.3,1665.7 L1004.0,1667.7Z" fill="#FDF6E9" stroke="none" stroke-width="1"/>
<ellipse cx="1044.3" cy="1687.3" rx="14" ry="10" fill="#F4E8D3" stroke="#ECDFC8" stroke-width="1.2"/>
<path d="M1178.0,1701.8 L1178.2,1701.6 L1178.4,1701.4 L1178.5,1701.1 L1178.7,1700.9 L1178.8,1700.6 L1178.8,1700.3 L1178.9,1700.0 L1181.6,1662.0 L1181.6,1661.7 L1181.6,1661.4 L1181.5,1661.1 L1181.4,1660.9 L1181.4,1660.6 L1181.2,1660.4 L1181.1,1660.1 L1180.9,1659.9 L1180.7,1659.7 L1180.5,1659.6 L1136.0,1624.4 L1135.8,1624.2 L1135.5,1624.1 L1135.3,1624.0 L1135.0,1623.9 L1134.8,1623.8 L1134.5,1623.8 L1134.2,1623.8 L1133.9,1623.8 L1133.7,1623.9 L1133.4,1624.0 L1133.1,1624.1 L1132.9,1624.2 L1087.5,1650.3 L1087.3,1650.4 L1087.1,1650.6 L1086.9,1650.8 L1086.7,1651.0 L1086.5,1651.3 L1086.4,1651.5 L1086.3,1651.8 L1086.2,1652.1 L1086.1,1652.3 L1086.1,1652.6 L1086.1,1652.9 L1090.2,1716.8 L1090.2,1717.0 L1090.2,1717.3 L1090.3,1717.6 L1090.4,1717.8 L1090.6,1718.1 L1090.7,1718.3 L1090.9,1718.5 L1091.1,1718.7 L1091.3,1718.8 L1091.5,1719.0 L1091.8,1719.1 L1092.0,1719.2 L1140.3,1736.5 L1140.5,1736.6 L1140.8,1736.7 L1141.1,1736.7 L1141.4,1736.7 L1141.7,1736.7 L1142.0,1736.6 L1142.2,1736.5 L1142.5,1736.4 L1142.7,1736.3 L1143.0,1736.1 L1143.2,1735.9 L1178.0,1701.8Z" fill="#F8EAD1" stroke="#ECDCC1" stroke-width="2"/>
<path d="M1171.0,1685.8 L1173.6,1685.9 L1175.3,1683.7 L1176.4,1667.1 L1175.6,1665.3 L1173.7,1664.5 L1162.7,1669.9 L1161.4,1672.0 L1165.0,1682.5Z" fill="#FDF6E9" stroke="none" stroke-width="1"/>
<path d="M1116.6,1667.5 L1115.0,1670.1 L1117.0,1688.9 L1130.4,1695.3 L1132.9,1694.9 L1134.2,1693.0 L1138.7,1671.6 L1138.3,1669.3 L1136.7,1668.1 L1122.8,1664.8Z" fill="#FDF6E9" stroke="none" stroke-width="1"/>
<path d="M1119.8,1642.1 L1118.4,1639.7 L1115.9,1639.5 L1092.2,1653.0 L1091.0,1655.3 L1091.9,1662.1 L1093.8,1663.2 L1112.7,1666.3 L1119.7,1663.2 L1120.8,1661.0Z" fill="#FDF6E9" stroke="none" stroke-width="1"/>
<path d="M1136.8,1698.2 L1134.8,1698.5 L1133.4,1700.0 L1126.1,1724.6 L1127.9,1727.1 L1140.2,1731.2 L1142.1,1730.4 L1157.2,1715.6 L1158.1,1713.3 L1150.8,1701.4Z" fill="#FDF6E9" stroke="none" stroke-width="1"/>
<path d="M1123.2,1660.2 L1125.2,1662.8 L1139.9,1666.4 L1144.5,1664.8 L1145.8,1663.4 L1148.2,1640.7 L1134.9,1629.7 L1132.3,1629.9 L1122.2,1636.6Z" fill="#FDF6E9" stroke="none" stroke-width="1"/>
<path d="M1170.5,1662.9 L1172.0,1660.6 L1170.9,1657.9 L1154.8,1645.2 L1152.8,1644.8 L1150.8,1645.8 L1148.5,1662.1 L1149.5,1664.8 L1159.2,1668.7Z" fill="#FDF6E9" stroke="none" stroke-width="1"/>
<path d="M1095.3,1665.9 L1092.8,1666.7 L1091.9,1669.1 L1093.6,1696.4 L1094.8,1698.4 L1096.6,1699.0 L1112.8,1690.3 L1114.1,1687.8 L1112.0,1669.4 L1110.1,1668.4Z" fill="#FDF6E9" stroke="none" stroke-width="1"/>
<path d="M1095.7,1702.6 L1094.1,1705.1 L1094.7,1713.5 L1095.6,1715.3 L1121.4,1724.5 L1124.0,1722.7 L1130.7,1699.8 L1129.2,1697.4 L1115.5,1691.8Z" fill="#FDF6E9" stroke="none" stroke-width="1"/>
<path d="M1136.7,1692.7 L1137.0,1694.7 L1138.8,1696.2 L1149.6,1698.5 L1152.0,1697.7 L1162.2,1683.7 L1158.0,1671.4 L1147.5,1666.7 L1142.2,1668.7Z" fill="#FDF6E9" stroke="none" stroke-width="1"/>
<path d="M1174.3,1690.7 L1164.9,1686.0 L1163.0,1687.0 L1153.9,1699.7 L1154.2,1702.0 L1158.9,1709.3 L1160.6,1710.4 L1163.1,1709.8 L1174.2,1698.4Z" fill="#FDF6E9" stroke="none" stroke-width="1"/>
<ellipse cx="1132.2" cy="1681.0" rx="14" ry="10" fill="#F4E8D3" stroke="#ECDFC8" stroke-width="1.2"/>
<path d="M1280.5,1709.8 L1280.7,1709.6 L1280.9,1709.4 L1281.1,1709.2 L1281.2,1709.0 L1281.4,1708.7 L1281.5,1708.5 L1281.6,1708.2 L1281.6,1707.9 L1281.7,1707.6 L1281.6,1707.3 L1277.9,1655.0 L1277.8,1654.7 L1277.8,1654.5 L1277.7,1654.2 L1277.6,1654.0 L1277.4,1653.7 L1277.3,1653.5 L1277.1,1653.3 L1276.9,1653.1 L1276.7,1652.9 L1276.4,1652.8 L1276.2,1652.6 L1240.5,1637.4 L1240.2,1637.3 L1239.9,1637.2 L1239.6,1637.2 L1239.4,1637.2 L1239.1,1637.2 L1238.8,1637.2 L1238.5,1637.3 L1238.3,1637.4 L1185.6,1660.1 L1185.4,1660.2 L1185.2,1660.3 L1184.9,1660.5 L1184.7,1660.7 L1184.5,1660.9 L1184.4,1661.1 L1184.2,1661.4 L1184.1,1661.6 L1184.0,1661.9 L1184.0,1662.2 L1184.0,1662.4 L1181.3,1699.4 L1181.3,1699.7 L1181.3,1699.9 L1181.4,1700.2 L1181.4,1700.4 L1181.5,1700.7 L1181.7,1700.9 L1181.8,1701.2 L1182.0,1701.4 L1182.1,1701.6 L1182.3,1701.8 L1182.6,1701.9 L1236.9,1738.3 L1237.1,1738.4 L1237.4,1738.5 L1237.7,1738.6 L1237.9,1738.7 L1238.2,1738.7 L1238.5,1738.7 L1238.8,1738.7 L1239.0,1738.7 L1239.3,1738.6 L1239.6,1738.5 L1239.8,1738.4 L1240.1,1738.2 L1280.5,1709.8Z" fill="#F8EAD1" stroke="#ECDCC1" stroke-width="2"/>
<path d="M1231.5,1677.0 L1233.8,1676.9 L1235.4,1675.2 L1236.6,1661.1 L1222.9,1650.3 L1220.9,1650.1 L1217.4,1651.5 L1215.9,1653.8 L1214.6,1669.9 L1216.2,1671.4Z" fill="#FDF6E9" stroke="none" stroke-width="1"/>
<path d="M1256.3,1687.9 L1249.3,1689.5 L1247.6,1692.3 L1253.1,1718.6 L1256.0,1720.7 L1275.5,1707.6 L1276.8,1705.2 L1276.2,1698.0 L1275.2,1696.2Z" fill="#FDF6E9" stroke="none" stroke-width="1"/>
<path d="M1217.6,1709.6 L1214.7,1709.3 L1211.9,1711.9 L1211.2,1714.1 L1212.3,1716.1 L1237.0,1732.6 L1239.3,1732.8 L1242.5,1730.6 L1243.1,1728.4 L1242.1,1726.4Z" fill="#FDF6E9" stroke="none" stroke-width="1"/>
<path d="M1220.4,1703.8 L1219.2,1706.1 L1220.2,1708.5 L1245.8,1726.1 L1248.4,1726.4 L1251.0,1724.5 L1251.4,1722.3 L1245.0,1692.1 L1243.8,1690.3 L1239.5,1689.8Z" fill="#FDF6E9" stroke="none" stroke-width="1"/>
<path d="M1211.9,1673.5 L1204.2,1680.1 L1204.3,1682.2 L1214.4,1701.0 L1216.2,1702.5 L1218.8,1702.0 L1237.7,1687.4 L1237.6,1685.4 L1234.7,1680.8 L1214.2,1673.2Z" fill="#FDF6E9" stroke="none" stroke-width="1"/>
<path d="M1258.2,1682.8 L1258.1,1685.1 L1259.7,1686.8 L1272.0,1692.0 L1275.1,1690.8 L1275.6,1688.9 L1273.7,1662.9 L1272.2,1660.5 L1270.0,1660.2 L1268.2,1661.5Z" fill="#FDF6E9" stroke="none" stroke-width="1"/>
<path d="M1241.1,1660.8 L1239.5,1662.8 L1237.4,1679.7 L1241.0,1686.4 L1246.1,1688.0 L1254.8,1684.3 L1267.7,1655.6 L1266.2,1653.5 L1260.2,1651.5Z" fill="#FDF6E9" stroke="none" stroke-width="1"/>
<path d="M1200.1,1678.5 L1202.3,1677.9 L1211.5,1670.3 L1213.0,1658.0 L1211.4,1655.3 L1208.8,1655.2 L1190.2,1663.2 L1188.7,1664.6 L1187.8,1674.3 L1188.6,1676.2Z" fill="#FDF6E9" stroke="none" stroke-width="1"/>
<path d="M1237.2,1658.2 L1240.1,1658.6 L1252.1,1652.6 L1253.5,1650.7 L1253.0,1648.4 L1239.7,1642.3 L1228.7,1646.7 L1227.4,1648.7 L1227.9,1650.9Z" fill="#FDF6E9" stroke="none" stroke-width="1"/>
<path d="M1201.6,1682.3 L1199.6,1680.8 L1190.6,1679.6 L1188.0,1680.5 L1186.3,1697.7 L1187.5,1699.6 L1205.4,1711.6 L1207.7,1712.0 L1213.0,1707.3 L1213.6,1704.8Z" fill="#FDF6E9" stroke="none" stroke-width="1"/>
<ellipse cx="1233.8" cy="1685.6" rx="14" ry="10" fill="#F4E8D3" stroke="#ECDFC8" stroke-width="1.2"/>
<path d="M1326.8,1735.8 L1327.1,1735.9 L1327.3,1736.1 L1327.6,1736.1 L1327.9,1736.2 L1328.1,1736.2 L1328.4,1736.2 L1328.7,1736.2 L1329.0,1736.2 L1329.2,1736.1 L1329.5,1736.0 L1329.7,1735.9 L1330.0,1735.7 L1368.4,1707.7 L1368.7,1707.5 L1368.9,1707.3 L1369.0,1707.1 L1369.2,1706.9 L1369.3,1706.6 L1369.4,1706.4 L1369.5,1706.1 L1369.6,1705.8 L1369.6,1705.6 L1369.6,1705.3 L1366.3,1649.7 L1366.3,1649.4 L1366.2,1649.1 L1366.1,1648.9 L1366.0,1648.6 L1365.9,1648.4 L1365.7,1648.1 L1365.5,1647.9 L1365.3,1647.7 L1365.1,1647.6 L1335.9,1626.7 L1335.7,1626.5 L1335.4,1626.4 L1335.2,1626.3 L1334.9,1626.2 L1334.6,1626.2 L1334.4,1626.2 L1334.1,1626.2 L1333.8,1626.2 L1333.5,1626.3 L1333.3,1626.3 L1333.0,1626.5 L1281.8,1652.4 L1281.6,1652.5 L1281.3,1652.7 L1281.1,1652.8 L1280.9,1653.0 L1280.8,1653.3 L1280.6,1653.5 L1280.5,1653.7 L1280.4,1654.0 L1280.3,1654.3 L1280.3,1654.5 L1280.3,1654.8 L1280.3,1655.1 L1284.1,1707.4 L1284.1,1707.7 L1284.1,1707.9 L1284.2,1708.2 L1284.3,1708.4 L1284.4,1708.6 L1284.6,1708.9 L1284.8,1709.1 L1284.9,1709.2 L1285.1,1709.4 L1285.4,1709.6 L1326.8,1735.8Z" fill="#F8EAD1" stroke="#ECDCC1" stroke-width="2"/>
<path d="M1307.6,1675.0 L1312.3,1683.5 L1314.2,1683.7 L1337.2,1675.9 L1338.0,1673.8 L1338.0,1656.3 L1337.2,1654.2 L1326.4,1651.4 L1323.9,1652.3 L1307.6,1672.9Z" fill="#FDF6E9" stroke="none" stroke-width="1"/>
<path d="M1302.5,1668.9 L1304.6,1670.3 L1307.0,1669.6 L1321.9,1650.9 L1321.9,1648.1 L1316.9,1641.3 L1314.1,1641.3 L1294.0,1652.0 L1293.9,1654.8Z" fill="#FDF6E9" stroke="none" stroke-width="1"/>
<path d="M1309.1,1683.9 L1303.8,1674.2 L1301.9,1674.0 L1288.9,1676.6 L1286.9,1678.6 L1288.6,1704.9 L1289.5,1706.6 L1293.1,1708.8 L1294.9,1708.9 L1296.6,1707.8 L1309.1,1685.8Z" fill="#FDF6E9" stroke="none" stroke-width="1"/>
<path d="M1310.1,1689.0 L1298.3,1711.0 L1299.2,1712.7 L1307.6,1717.4 L1331.7,1711.1 L1333.2,1709.3 L1333.3,1706.1 L1332.3,1704.2 L1314.6,1688.5 L1312.4,1687.7Z" fill="#FDF6E9" stroke="none" stroke-width="1"/>
<path d="M1360.3,1686.8 L1362.5,1686.1 L1363.6,1683.9 L1361.7,1652.0 L1360.5,1650.0 L1354.9,1647.1 L1340.8,1654.3 L1340.4,1675.4 L1341.3,1677.2 L1350.4,1685.6Z" fill="#FDF6E9" stroke="none" stroke-width="1"/>
<path d="M1336.0,1711.2 L1343.5,1718.9 L1345.5,1718.6 L1364.1,1704.9 L1364.1,1692.1 L1362.8,1689.8 L1350.3,1688.7 L1336.3,1704.3Z" fill="#FDF6E9" stroke="none" stroke-width="1"/>
<path d="M1338.1,1651.5 L1349.3,1646.8 L1350.5,1644.8 L1349.9,1642.6 L1334.2,1631.7 L1320.6,1638.4 L1320.3,1641.3 L1325.3,1648.5Z" fill="#FDF6E9" stroke="none" stroke-width="1"/>
<path d="M1299.5,1669.9 L1290.3,1654.6 L1288.3,1654.4 L1286.1,1655.6 L1285.2,1657.4 L1286.2,1671.6 L1288.6,1674.0 L1297.7,1672.3Z" fill="#FDF6E9" stroke="none" stroke-width="1"/>
<path d="M1335.4,1714.4 L1332.7,1713.4 L1316.1,1717.8 L1314.4,1719.3 L1314.3,1721.5 L1326.5,1730.1 L1329.1,1730.4 L1340.0,1722.0 L1339.8,1719.4Z" fill="#FDF6E9" stroke="none" stroke-width="1"/>
<path d="M1332.1,1700.8 L1334.0,1701.6 L1336.2,1700.8 L1346.9,1688.3 L1346.3,1685.3 L1338.9,1678.7 L1320.3,1684.3 L1318.3,1686.4 L1319.0,1689.2Z" fill="#FDF6E9" stroke="none" stroke-width="1"/>
<ellipse cx="1326.0" cy="1680.5" rx="14" ry="10" fill="#F4E8D3" stroke="#ECDFC8" stroke-width="1.2"/>
<path d="M1370.9,1648.1 L1370.6,1648.2 L1370.4,1648.3 L1370.1,1648.4 L1369.9,1648.6 L1369.7,1648.7 L1369.5,1648.9 L1369.3,1649.1 L1369.2,1649.4 L1369.0,1649.6 L1368.9,1649.9 L1368.8,1650.2 L1368.8,1650.4 L1368.8,1650.7 L1368.8,1651.0 L1372.0,1705.0 L1372.0,1705.3 L1372.1,1705.5 L1372.1,1705.8 L1372.2,1706.0 L1372.4,1706.3 L1372.5,1706.5 L1372.7,1706.7 L1372.9,1706.9 L1373.1,1707.1 L1373.3,1707.2 L1373.5,1707.3 L1433.0,1736.4 L1433.2,1736.5 L1433.5,1736.5 L1433.8,1736.6 L1434.0,1736.6 L1434.3,1736.6 L1434.6,1736.6 L1434.8,1736.6 L1435.1,1736.5 L1435.4,1736.4 L1435.6,1736.3 L1435.8,1736.1 L1436.1,1735.9 L1436.3,1735.8 L1441.6,1730.1 L1441.7,1729.9 L1441.9,1729.7 L1442.0,1729.4 L1442.2,1729.1 L1442.2,1728.9 L1442.3,1728.6 L1442.3,1728.3 L1442.3,1728.0 L1441.9,1722.1 L1441.9,1721.8 L1441.8,1721.5 L1429.2,1673.0 L1429.2,1672.9 L1419.6,1639.3 L1419.5,1639.1 L1419.4,1638.8 L1419.3,1638.6 L1419.1,1638.4 L1418.9,1638.2 L1418.7,1638.0 L1418.5,1637.8 L1418.3,1637.7 L1418.1,1637.6 L1417.8,1637.5 L1417.6,1637.4 L1417.3,1637.3 L1417.0,1637.3 L1416.8,1637.3 L1416.5,1637.3 L1416.3,1637.4 L1370.9,1648.1Z" fill="#F8EAD1" stroke="#ECDCC1" stroke-width="2"/>
<path d="M1408.0,1672.4 L1405.5,1672.8 L1396.3,1680.1 L1395.8,1682.4 L1397.4,1688.7 L1412.0,1696.6 L1428.0,1692.5 L1428.8,1690.0 L1425.4,1678.3Z" fill="#FDF6E9" stroke="none" stroke-width="1"/>
<path d="M1383.0,1669.6 L1384.4,1672.8 L1392.5,1677.7 L1395.2,1677.7 L1404.9,1669.8 L1406.1,1657.8 L1393.2,1648.3 L1388.3,1648.9 L1387.0,1650.7Z" fill="#FDF6E9" stroke="none" stroke-width="1"/>
<path d="M1409.3,1717.1 L1410.7,1720.2 L1417.9,1723.0 L1432.7,1710.8 L1433.5,1708.3 L1430.1,1696.6 L1427.5,1695.6 L1413.1,1699.5Z" fill="#FDF6E9" stroke="none" stroke-width="1"/>
<path d="M1415.7,1651.1 L1417.2,1648.0 L1416.0,1644.3 L1414.2,1643.0 L1401.9,1645.6 L1400.0,1647.7 L1400.7,1650.5 L1407.4,1655.0 L1409.4,1654.8Z" fill="#FDF6E9" stroke="none" stroke-width="1"/>
<path d="M1423.5,1721.8 L1422.5,1723.9 L1423.2,1726.1 L1432.1,1730.7 L1434.6,1730.4 L1437.3,1727.4 L1437.2,1722.6 L1435.8,1717.0 L1433.9,1715.0 L1431.2,1715.3Z" fill="#FDF6E9" stroke="none" stroke-width="1"/>
<path d="M1381.9,1674.1 L1377.0,1674.2 L1375.0,1676.9 L1376.5,1702.1 L1377.7,1704.1 L1380.4,1705.2 L1383.0,1704.1 L1394.4,1688.3 L1392.6,1680.7Z" fill="#FDF6E9" stroke="none" stroke-width="1"/>
<path d="M1385.9,1704.2 L1385.3,1706.4 L1386.7,1708.5 L1403.1,1716.5 L1405.1,1716.8 L1407.3,1714.7 L1409.9,1699.7 L1408.4,1697.7 L1398.1,1692.0 L1396.3,1691.8 L1394.6,1692.9Z" fill="#FDF6E9" stroke="none" stroke-width="1"/>
<path d="M1378.2,1671.5 L1380.6,1669.4 L1383.8,1654.0 L1383.3,1652.0 L1381.3,1650.7 L1375.4,1651.9 L1373.7,1654.2 L1374.6,1669.3 L1376.0,1671.1Z" fill="#FDF6E9" stroke="none" stroke-width="1"/>
<path d="M1410.3,1657.1 L1408.8,1659.3 L1407.8,1667.6 L1408.5,1669.5 L1419.9,1673.7 L1422.4,1673.1 L1423.5,1670.2 L1419.0,1655.0 L1415.9,1654.0Z" fill="#FDF6E9" stroke="none" stroke-width="1"/>
<ellipse cx="1404.5" cy="1685.3" rx="14" ry="10" fill="#F4E8D3" stroke="#ECDFC8" stroke-width="1.2"/>
<path d="M1001.1,1716.2 L1000.9,1716.1 L1000.6,1716.0 L1000.3,1716.0 L1000.1,1716.0 L999.8,1716.0 L999.5,1716.0 L999.3,1716.0 L999.0,1716.1 L998.7,1716.2 L998.5,1716.3 L998.3,1716.5 L998.1,1716.7 L965.3,1745.4 L965.1,1745.6 L964.9,1745.9 L964.8,1746.1 L964.6,1746.3 L964.5,1746.6 L964.5,1746.9 L964.4,1747.1 L964.4,1747.4 L962.6,1783.6 L962.6,1783.8 L962.6,1784.1 L962.6,1784.4 L962.7,1784.6 L962.8,1784.9 L962.9,1785.1 L963.1,1785.3 L963.2,1785.5 L963.4,1785.7 L963.6,1785.9 L982.8,1801.4 L983.0,1801.5 L983.2,1801.7 L983.4,1801.8 L983.6,1801.9 L983.9,1801.9 L984.1,1802.0 L1021.0,1806.8 L1021.2,1806.9 L1032.7,1807.6 L1032.9,1807.6 L1033.2,1807.6 L1033.5,1807.6 L1033.7,1807.5 L1034.0,1807.4 L1034.2,1807.3 L1051.5,1797.9 L1051.7,1797.8 L1051.9,1797.6 L1052.1,1797.5 L1052.3,1797.3 L1052.4,1797.0 L1052.6,1796.8 L1052.7,1796.6 L1052.8,1796.3 L1052.9,1796.1 L1052.9,1795.8 L1052.9,1795.5 L1053.7,1742.7 L1053.6,1742.4 L1053.6,1742.2 L1053.6,1741.9 L1053.5,1741.6 L1053.4,1741.4 L1053.2,1741.2 L1053.1,1740.9 L1052.9,1740.7 L1052.7,1740.6 L1052.5,1740.4 L1052.3,1740.2 L1052.0,1740.1 L1001.1,1716.2Z" fill="#F8EAD1" stroke="#ECDCC1" stroke-width="2"/>
<path d="M1017.4,1744.9 L1016.2,1746.9 L1016.7,1748.9 L1027.5,1762.3 L1029.7,1763.2 L1031.6,1762.5 L1047.9,1748.2 L1048.9,1746.0 L1047.4,1743.2 L1030.7,1735.6 L1028.8,1736.2Z" fill="#FDF6E9" stroke="none" stroke-width="1"/>
<path d="M1016.5,1799.9 L1018.9,1801.8 L1032.7,1802.7 L1047.2,1794.9 L1048.2,1793.2 L1048.2,1789.5 L1030.8,1770.6 L1027.8,1769.7 L1011.6,1783.1 L1011.2,1785.7Z" fill="#FDF6E9" stroke="none" stroke-width="1"/>
<path d="M970.7,1768.2 L968.0,1770.4 L967.6,1782.7 L979.9,1793.0 L982.8,1793.2 L985.8,1789.4 L985.8,1786.6 L976.4,1769.1 L974.4,1768.0Z" fill="#FDF6E9" stroke="none" stroke-width="1"/>
<path d="M1032.8,1764.6 L1031.8,1766.7 L1032.6,1768.9 L1043.7,1780.7 L1045.7,1781.2 L1047.5,1780.4 L1048.5,1778.3 L1048.8,1757.3 L1047.9,1755.1 L1046.0,1754.3 L1044.3,1754.7Z" fill="#FDF6E9" stroke="none" stroke-width="1"/>
<path d="M983.6,1741.2 L981.8,1739.4 L979.5,1739.4 L969.4,1748.3 L968.3,1762.9 L969.8,1765.3 L976.3,1765.2 L987.5,1756.9 L987.9,1754.7Z" fill="#FDF6E9" stroke="none" stroke-width="1"/>
<path d="M992.7,1760.0 L990.7,1758.8 L988.8,1759.2 L979.9,1765.6 L978.9,1767.4 L987.7,1785.0 L990.4,1786.6 L1006.7,1784.0 L1008.1,1782.2 L1007.7,1779.9Z" fill="#FDF6E9" stroke="none" stroke-width="1"/>
<path d="M986.2,1793.2 L986.0,1796.1 L988.1,1797.7 L1009.8,1800.6 L1011.7,1800.0 L1012.8,1798.3 L1009.7,1788.4 L1007.4,1786.7 L989.5,1789.2Z" fill="#FDF6E9" stroke="none" stroke-width="1"/>
<path d="M1009.0,1777.6 L1011.1,1778.8 L1013.1,1778.3 L1025.4,1768.3 L1026.5,1766.3 L1025.8,1764.1 L1014.7,1750.3 L1012.8,1749.2 L997.3,1756.1 L995.6,1758.4 L996.2,1760.6Z" fill="#FDF6E9" stroke="none" stroke-width="1"/>
<path d="M989.9,1753.2 L991.5,1755.0 L993.8,1755.1 L1009.7,1747.5 L1011.2,1745.8 L1011.1,1743.4 L1001.5,1724.8 L999.8,1723.4 L997.1,1723.8 L984.8,1735.0Z" fill="#FDF6E9" stroke="none" stroke-width="1"/>
<path d="M1012.5,1741.1 L1014.3,1742.6 L1016.8,1742.3 L1024.3,1736.5 L1024.9,1733.8 L1023.3,1731.8 L1010.9,1726.0 L1008.8,1725.8 L1007.0,1727.2 L1006.7,1729.5Z" fill="#FDF6E9" stroke="none" stroke-width="1"/>
<ellipse cx="1009.6" cy="1765.4" rx="14" ry="10" fill="#F4E8D3" stroke="#ECDFC8" stroke-width="1.2"/>
<path d="M1145.8,1796.9 L1146.0,1796.8 L1146.3,1796.7 L1146.5,1796.6 L1146.7,1796.4 L1146.9,1796.2 L1147.1,1796.0 L1147.2,1795.8 L1147.3,1795.5 L1147.4,1795.3 L1147.5,1795.0 L1147.6,1794.8 L1147.6,1794.5 L1147.6,1794.3 L1147.6,1794.0 L1141.3,1741.1 L1141.3,1740.8 L1141.2,1740.6 L1141.1,1740.3 L1141.0,1740.0 L1140.8,1739.8 L1140.6,1739.6 L1140.4,1739.4 L1140.2,1739.2 L1140.0,1739.0 L1139.8,1738.9 L1139.5,1738.8 L1090.5,1721.2 L1090.2,1721.2 L1090.0,1721.1 L1089.7,1721.1 L1089.4,1721.1 L1089.1,1721.1 L1088.9,1721.2 L1088.6,1721.2 L1088.4,1721.4 L1088.1,1721.5 L1057.4,1740.0 L1057.2,1740.2 L1057.0,1740.3 L1056.8,1740.5 L1056.6,1740.8 L1056.4,1741.0 L1056.3,1741.3 L1056.2,1741.5 L1056.1,1741.8 L1056.1,1742.1 L1056.1,1742.4 L1055.3,1795.3 L1055.3,1795.6 L1055.4,1795.9 L1055.4,1796.1 L1055.5,1796.4 L1055.6,1796.6 L1055.7,1796.9 L1055.9,1797.1 L1056.1,1797.3 L1056.3,1797.5 L1056.5,1797.6 L1056.7,1797.8 L1056.9,1797.9 L1084.0,1810.8 L1084.2,1810.9 L1084.5,1811.0 L1084.8,1811.0 L1085.0,1811.0 L1103.9,1812.0 L1104.1,1812.0 L1104.4,1812.0 L1104.7,1811.9 L1105.0,1811.8 L1145.8,1796.9Z" fill="#F8EAD1" stroke="#ECDCC1" stroke-width="2"/>
<path d="M1069.3,1776.3 L1072.4,1774.6 L1079.7,1753.7 L1078.9,1751.8 L1069.1,1741.2 L1066.7,1740.3 L1061.9,1742.8 L1060.8,1744.5 L1060.4,1772.8 L1062.1,1775.2Z" fill="#FDF6E9" stroke="none" stroke-width="1"/>
<path d="M1105.9,1735.5 L1106.2,1733.2 L1104.9,1731.4 L1089.7,1726.3 L1072.5,1736.4 L1071.3,1739.0 L1072.1,1740.9 L1082.0,1751.5 L1094.5,1753.3 L1096.7,1752.1Z" fill="#FDF6E9" stroke="none" stroke-width="1"/>
<path d="M1107.2,1790.6 L1110.6,1790.1 L1118.0,1783.0 L1118.6,1780.5 L1111.2,1765.7 L1103.0,1763.1 L1100.7,1764.7 L1094.1,1782.4 L1095.5,1784.6Z" fill="#FDF6E9" stroke="none" stroke-width="1"/>
<path d="M1108.2,1795.5 L1106.8,1793.1 L1092.3,1785.7 L1083.3,1786.9 L1081.1,1788.9 L1078.2,1801.6 L1079.6,1803.5 L1085.7,1806.3 L1104.0,1807.1 L1107.3,1805.9 L1108.6,1804.3Z" fill="#FDF6E9" stroke="none" stroke-width="1"/>
<path d="M1122.5,1783.1 L1120.5,1783.9 L1110.8,1793.5 L1111.0,1800.8 L1112.7,1803.1 L1115.0,1803.2 L1140.5,1793.9 L1142.2,1792.4 L1141.8,1785.1 L1140.2,1783.0Z" fill="#FDF6E9" stroke="none" stroke-width="1"/>
<path d="M1110.2,1762.5 L1112.9,1761.9 L1121.9,1754.5 L1122.8,1752.5 L1116.6,1736.3 L1111.5,1733.9 L1108.9,1735.2 L1098.5,1754.6 L1101.8,1759.9Z" fill="#FDF6E9" stroke="none" stroke-width="1"/>
<path d="M1072.7,1779.8 L1063.6,1778.0 L1061.1,1778.8 L1060.2,1780.6 L1060.1,1792.5 L1061.5,1794.9 L1073.6,1800.2 L1076.2,1798.2 L1078.8,1787.3Z" fill="#FDF6E9" stroke="none" stroke-width="1"/>
<path d="M1098.9,1762.6 L1098.7,1760.0 L1095.4,1756.1 L1082.7,1754.9 L1081.5,1756.4 L1074.5,1775.9 L1074.8,1778.5 L1081.0,1784.5 L1090.4,1782.9Z" fill="#FDF6E9" stroke="none" stroke-width="1"/>
<path d="M1120.7,1779.0 L1123.4,1780.7 L1138.2,1780.3 L1140.2,1779.2 L1140.8,1777.0 L1138.9,1760.8 L1137.8,1758.8 L1125.2,1755.4 L1114.9,1763.5 L1114.4,1766.5Z" fill="#FDF6E9" stroke="none" stroke-width="1"/>
<path d="M1125.1,1751.3 L1127.1,1753.1 L1134.4,1755.1 L1136.6,1754.6 L1137.9,1752.1 L1136.5,1743.3 L1125.3,1738.7 L1122.8,1739.3 L1121.6,1742.2Z" fill="#FDF6E9" stroke="none" stroke-width="1"/>
<ellipse cx="1099.5" cy="1768.6" rx="14" ry="10" fill="#F4E8D3" stroke="#ECDFC8" stroke-width="1.2"/>
<path d="M1237.3,1742.9 L1237.3,1742.7 L1237.2,1742.4 L1237.2,1742.1 L1237.1,1741.8 L1236.9,1741.6 L1236.8,1741.3 L1236.6,1741.1 L1236.5,1740.9 L1236.2,1740.7 L1236.0,1740.6 L1182.0,1704.4 L1181.8,1704.3 L1181.5,1704.2 L1181.2,1704.1 L1181.0,1704.0 L1180.7,1704.0 L1180.4,1704.0 L1180.2,1704.0 L1179.9,1704.0 L1179.6,1704.1 L1179.4,1704.2 L1179.1,1704.3 L1178.9,1704.4 L1178.7,1704.6 L1178.5,1704.7 L1144.5,1738.0 L1144.3,1738.2 L1144.1,1738.4 L1144.0,1738.7 L1143.8,1738.9 L1143.7,1739.2 L1143.7,1739.5 L1143.6,1739.8 L1143.6,1740.0 L1143.6,1740.3 L1150.1,1795.1 L1150.2,1795.3 L1150.3,1795.6 L1150.3,1795.8 L1150.5,1796.1 L1150.6,1796.3 L1150.7,1796.5 L1150.9,1796.7 L1151.1,1796.9 L1151.3,1797.0 L1176.3,1814.5 L1176.5,1814.6 L1176.8,1814.8 L1177.0,1814.9 L1177.3,1814.9 L1177.6,1815.0 L1177.9,1815.0 L1203.6,1815.3 L1203.9,1815.3 L1204.2,1815.2 L1204.4,1815.2 L1204.6,1815.1 L1204.9,1815.0 L1205.1,1814.9 L1234.6,1797.5 L1234.8,1797.4 L1235.1,1797.2 L1235.3,1797.0 L1235.4,1796.8 L1235.6,1796.6 L1235.7,1796.3 L1235.8,1796.0 L1235.9,1795.8 L1236.0,1795.5 L1236.0,1795.2 L1237.3,1742.9Z" fill="#F8EAD1" stroke="#ECDCC1" stroke-width="2"/>
<path d="M1175.7,1758.5 L1177.5,1757.7 L1178.5,1755.9 L1178.8,1741.5 L1163.8,1729.0 L1160.7,1728.9 L1148.7,1741.0 L1150.6,1758.0 L1153.2,1759.8Z" fill="#FDF6E9" stroke="none" stroke-width="1"/>
<path d="M1216.1,1783.9 L1214.1,1782.9 L1211.7,1783.8 L1203.5,1796.3 L1203.8,1798.6 L1208.8,1806.0 L1211.4,1805.8 L1224.2,1798.2 L1225.4,1796.7 L1225.1,1793.9Z" fill="#FDF6E9" stroke="none" stroke-width="1"/>
<path d="M1182.6,1740.7 L1181.6,1742.8 L1180.8,1757.5 L1181.4,1759.5 L1184.5,1761.7 L1199.3,1762.5 L1201.4,1761.2 L1216.7,1736.8 L1217.1,1734.5 L1215.8,1732.7 L1203.1,1724.2 L1201.1,1723.9Z" fill="#FDF6E9" stroke="none" stroke-width="1"/>
<path d="M1175.7,1790.1 L1177.8,1787.8 L1181.7,1764.9 L1181.0,1762.4 L1177.8,1760.7 L1154.2,1762.1 L1152.3,1762.9 L1151.4,1765.5 L1155.2,1793.9 L1158.2,1795.0Z" fill="#FDF6E9" stroke="none" stroke-width="1"/>
<path d="M1201.6,1799.7 L1199.3,1798.2 L1188.6,1798.9 L1187.3,1800.8 L1186.2,1807.2 L1186.7,1809.1 L1189.1,1810.4 L1204.1,1810.0 L1205.5,1806.8Z" fill="#FDF6E9" stroke="none" stroke-width="1"/>
<path d="M1203.8,1761.9 L1203.9,1765.2 L1213.8,1775.7 L1215.8,1775.6 L1230.7,1768.9 L1232.0,1766.5 L1232.0,1743.8 L1222.5,1737.2 L1219.4,1737.4Z" fill="#FDF6E9" stroke="none" stroke-width="1"/>
<path d="M1199.2,1795.8 L1201.5,1794.7 L1211.1,1780.4 L1211.3,1777.5 L1200.4,1765.3 L1185.6,1764.5 L1183.8,1766.7 L1180.4,1790.1 L1187.4,1795.9Z" fill="#FDF6E9" stroke="none" stroke-width="1"/>
<path d="M1218.5,1777.0 L1216.8,1779.0 L1217.2,1781.5 L1226.6,1791.9 L1228.3,1792.5 L1230.2,1791.9 L1231.4,1789.6 L1231.8,1775.8 L1231.1,1773.9 L1228.1,1772.8Z" fill="#FDF6E9" stroke="none" stroke-width="1"/>
<path d="M1166.0,1727.7 L1180.3,1738.4 L1182.2,1737.8 L1196.6,1724.2 L1197.5,1722.4 L1196.4,1719.7 L1181.3,1710.1 L1178.9,1710.9 L1166.1,1723.5 L1165.2,1725.3Z" fill="#FDF6E9" stroke="none" stroke-width="1"/>
<path d="M1185.2,1799.4 L1184.3,1796.8 L1177.6,1792.2 L1165.5,1795.5 L1163.6,1798.2 L1164.8,1800.8 L1179.4,1810.3 L1181.8,1810.1 L1183.3,1808.7Z" fill="#FDF6E9" stroke="none" stroke-width="1"/>
<ellipse cx="1190.6" cy="1764.0" rx="14" ry="10" fill="#F4E8D3" stroke="#ECDFC8" stroke-width="1.2"/>
<path d="M1284.5,1810.9 L1284.8,1811.0 L1285.1,1811.0 L1285.3,1811.1 L1285.6,1811.0 L1285.9,1811.0 L1286.2,1810.9 L1286.4,1810.8 L1286.7,1810.7 L1286.9,1810.6 L1327.6,1783.0 L1327.8,1782.8 L1328.0,1782.7 L1328.2,1782.4 L1328.4,1782.2 L1328.5,1782.0 L1328.6,1781.7 L1328.7,1781.4 L1328.8,1781.2 L1328.8,1780.9 L1328.8,1780.6 L1327.4,1740.4 L1327.3,1740.2 L1327.3,1739.9 L1327.2,1739.6 L1327.1,1739.4 L1327.0,1739.1 L1326.9,1738.9 L1326.7,1738.7 L1326.5,1738.5 L1326.3,1738.3 L1326.1,1738.2 L1284.6,1711.9 L1284.4,1711.8 L1284.1,1711.7 L1283.9,1711.6 L1283.6,1711.6 L1283.3,1711.5 L1283.1,1711.5 L1282.8,1711.5 L1282.5,1711.6 L1282.2,1711.7 L1282.0,1711.8 L1281.7,1711.9 L1281.5,1712.0 L1240.9,1740.6 L1240.6,1740.8 L1240.5,1740.9 L1240.3,1741.1 L1240.1,1741.3 L1240.0,1741.6 L1239.9,1741.8 L1239.8,1742.0 L1239.7,1742.3 L1239.7,1742.6 L1239.7,1742.8 L1238.4,1794.5 L1238.4,1794.7 L1238.4,1795.0 L1238.5,1795.3 L1238.6,1795.6 L1238.7,1795.8 L1238.9,1796.1 L1239.0,1796.3 L1239.2,1796.5 L1239.4,1796.7 L1239.6,1796.8 L1239.9,1797.0 L1240.1,1797.1 L1240.4,1797.2 L1284.5,1810.9Z" fill="#F8EAD1" stroke="#ECDCC1" stroke-width="2"/>
<path d="M1266.6,1757.5 L1270.1,1758.4 L1280.2,1754.2 L1281.8,1752.1 L1275.8,1726.4 L1273.5,1724.5 L1271.3,1725.0 L1254.0,1737.1 L1252.7,1739.0 L1253.4,1741.5Z" fill="#FDF6E9" stroke="none" stroke-width="1"/>
<path d="M1288.7,1753.5 L1287.0,1755.0 L1286.9,1757.2 L1294.6,1770.7 L1303.3,1773.7 L1305.8,1772.9 L1311.7,1760.2 L1304.0,1749.9 L1300.9,1748.9Z" fill="#FDF6E9" stroke="none" stroke-width="1"/>
<path d="M1265.4,1783.3 L1265.6,1780.6 L1261.3,1772.8 L1245.4,1773.1 L1243.6,1775.5 L1243.4,1792.0 L1245.3,1793.8 L1257.2,1796.8Z" fill="#FDF6E9" stroke="none" stroke-width="1"/>
<path d="M1280.1,1787.6 L1278.2,1786.1 L1270.1,1784.0 L1268.0,1784.4 L1261.5,1795.4 L1261.6,1798.0 L1263.4,1799.4 L1283.7,1805.7 L1286.0,1805.5 L1287.4,1804.0 L1287.5,1802.0Z" fill="#FDF6E9" stroke="none" stroke-width="1"/>
<path d="M1320.8,1757.0 L1323.1,1754.2 L1322.4,1741.8 L1312.5,1735.1 L1309.6,1735.2 L1305.1,1744.9 L1305.2,1747.4 L1313.6,1757.6 L1315.6,1758.1Z" fill="#FDF6E9" stroke="none" stroke-width="1"/>
<path d="M1289.0,1799.5 L1290.8,1800.9 L1293.1,1800.7 L1310.3,1788.9 L1310.7,1785.7 L1305.1,1776.9 L1294.3,1774.1 L1283.0,1784.5 L1282.7,1787.3Z" fill="#FDF6E9" stroke="none" stroke-width="1"/>
<path d="M1260.0,1770.1 L1262.5,1768.7 L1265.6,1762.3 L1265.5,1760.1 L1250.9,1742.3 L1247.6,1741.7 L1244.3,1745.1 L1244.0,1768.6 L1246.5,1770.4Z" fill="#FDF6E9" stroke="none" stroke-width="1"/>
<path d="M1315.9,1760.5 L1314.0,1761.9 L1307.8,1775.3 L1312.5,1784.1 L1314.7,1785.3 L1322.7,1780.7 L1324.0,1778.4 L1323.2,1761.3 L1320.7,1759.6Z" fill="#FDF6E9" stroke="none" stroke-width="1"/>
<path d="M1290.8,1773.7 L1291.5,1770.3 L1284.3,1757.7 L1282.1,1756.4 L1268.8,1761.7 L1264.3,1771.1 L1268.5,1780.7 L1279.0,1783.7 L1280.9,1783.1Z" fill="#FDF6E9" stroke="none" stroke-width="1"/>
<path d="M1283.8,1749.2 L1285.2,1751.0 L1287.2,1751.4 L1301.4,1746.0 L1306.9,1733.2 L1305.5,1730.7 L1283.2,1717.2 L1278.4,1720.0 L1277.4,1722.3Z" fill="#FDF6E9" stroke="none" stroke-width="1"/>
<ellipse cx="1282.5" cy="1763.2" rx="14" ry="10" fill="#F4E8D3" stroke="#ECDFC8" stroke-width="1.2"/>
<path d="M1431.0,1790.1 L1431.2,1790.0 L1431.4,1789.9 L1431.7,1789.7 L1431.9,1789.6 L1432.1,1789.4 L1432.2,1789.1 L1432.4,1788.9 L1432.5,1788.7 L1432.6,1788.4 L1432.6,1788.2 L1432.7,1787.9 L1432.7,1787.6 L1433.8,1741.3 L1433.8,1741.0 L1433.8,1740.7 L1433.7,1740.5 L1433.7,1740.2 L1433.6,1740.0 L1433.4,1739.7 L1433.3,1739.5 L1433.1,1739.3 L1432.9,1739.1 L1432.7,1739.0 L1432.5,1738.8 L1432.3,1738.7 L1372.5,1709.5 L1372.3,1709.4 L1372.0,1709.3 L1371.8,1709.3 L1371.5,1709.2 L1371.2,1709.2 L1370.9,1709.3 L1370.7,1709.3 L1370.4,1709.4 L1370.1,1709.5 L1369.9,1709.6 L1369.7,1709.8 L1330.9,1738.0 L1330.7,1738.2 L1330.5,1738.4 L1330.3,1738.6 L1330.2,1738.8 L1330.0,1739.0 L1329.9,1739.3 L1329.9,1739.5 L1329.8,1739.8 L1329.8,1740.1 L1329.8,1740.4 L1331.2,1780.4 L1331.2,1780.7 L1331.3,1780.9 L1331.4,1781.2 L1331.5,1781.4 L1331.6,1781.7 L1331.7,1781.9 L1331.9,1782.1 L1332.1,1782.3 L1332.3,1782.5 L1332.5,1782.6 L1332.7,1782.8 L1382.1,1808.3 L1382.4,1808.4 L1382.7,1808.5 L1382.9,1808.6 L1383.2,1808.6 L1383.5,1808.6 L1383.8,1808.6 L1385.8,1808.3 L1386.0,1808.3 L1386.2,1808.2 L1386.4,1808.2 L1431.0,1790.1Z" fill="#F8EAD1" stroke="#ECDCC1" stroke-width="2"/>
<path d="M1354.0,1763.6 L1354.5,1761.4 L1352.4,1753.7 L1339.0,1745.9 L1335.6,1746.6 L1334.8,1748.8 L1335.8,1777.4 L1336.7,1779.4 L1340.5,1781.3 L1343.0,1780.7Z" fill="#FDF6E9" stroke="none" stroke-width="1"/>
<path d="M1368.8,1725.2 L1371.8,1726.3 L1379.0,1723.1 L1380.4,1721.3 L1380.1,1719.0 L1372.9,1714.9 L1370.3,1715.1 L1366.6,1717.8 L1365.7,1719.6 L1366.1,1721.6Z" fill="#FDF6E9" stroke="none" stroke-width="1"/>
<path d="M1397.0,1742.3 L1394.7,1743.4 L1391.2,1749.4 L1396.9,1767.2 L1398.1,1768.8 L1406.1,1772.3 L1428.1,1762.6 L1429.0,1745.3 L1427.7,1742.8Z" fill="#FDF6E9" stroke="none" stroke-width="1"/>
<path d="M1372.4,1728.7 L1370.7,1730.6 L1368.8,1740.8 L1369.7,1743.5 L1387.1,1747.0 L1389.7,1746.2 L1393.4,1740.3 L1392.1,1725.9 L1391.2,1724.0 L1386.6,1722.4Z" fill="#FDF6E9" stroke="none" stroke-width="1"/>
<path d="M1389.2,1751.4 L1387.1,1749.5 L1367.0,1746.4 L1356.4,1753.6 L1355.9,1755.5 L1356.9,1761.2 L1358.0,1762.9 L1373.9,1774.1 L1376.6,1774.5 L1391.9,1769.4 L1393.7,1767.9 L1393.9,1765.9Z" fill="#FDF6E9" stroke="none" stroke-width="1"/>
<path d="M1373.4,1778.7 L1372.2,1775.8 L1358.8,1766.4 L1356.8,1765.8 L1354.6,1767.2 L1346.0,1780.7 L1345.5,1782.6 L1347.1,1784.9 L1368.7,1795.5 L1371.3,1793.3Z" fill="#FDF6E9" stroke="none" stroke-width="1"/>
<path d="M1377.8,1776.6 L1375.8,1779.0 L1373.3,1796.5 L1374.4,1799.0 L1384.5,1803.7 L1402.2,1796.3 L1404.0,1776.6 L1402.9,1774.1 L1395.5,1770.7Z" fill="#FDF6E9" stroke="none" stroke-width="1"/>
<path d="M1405.6,1790.7 L1406.6,1793.1 L1409.1,1793.8 L1427.2,1786.4 L1428.1,1784.6 L1428.4,1770.2 L1427.6,1768.0 L1424.6,1767.2 L1407.2,1774.7 L1406.4,1776.6Z" fill="#FDF6E9" stroke="none" stroke-width="1"/>
<path d="M1338.7,1738.1 L1337.5,1740.4 L1338.5,1742.8 L1352.6,1750.9 L1354.9,1751.2 L1365.6,1743.9 L1368.2,1728.6 L1363.8,1722.8 L1360.8,1722.2Z" fill="#FDF6E9" stroke="none" stroke-width="1"/>
<path d="M1395.6,1737.2 L1398.0,1739.9 L1411.1,1739.9 L1413.2,1739.0 L1414.1,1736.8 L1412.6,1734.3 L1397.9,1727.5 L1396.1,1728.2 L1395.0,1729.9Z" fill="#FDF6E9" stroke="none" stroke-width="1"/>
<ellipse cx="1382.0" cy="1760.3" rx="14" ry="10" fill="#F4E8D3" stroke="#ECDFC8" stroke-width="1.2"/>
<path d="M1291.7,1810.2 L1291.5,1810.4 L1291.3,1810.6 L1291.1,1810.8 L1291.0,1811.0 L1290.8,1811.2 L1290.7,1811.5 L1290.6,1811.7 L1290.6,1812.0 L1290.5,1812.3 L1290.5,1812.5 L1290.5,1812.8 L1290.6,1813.1 L1290.6,1813.4 L1290.7,1813.6 L1290.9,1813.9 L1291.0,1814.1 L1291.2,1814.3 L1291.4,1814.5 L1291.6,1814.7 L1291.8,1814.9 L1292.0,1815.0 L1292.3,1815.1 L1292.5,1815.2 L1292.8,1815.3 L1293.1,1815.3 L1293.4,1815.3 L1339.0,1814.8 L1339.3,1814.8 L1370.1,1810.5 L1370.3,1810.5 L1370.6,1810.4 L1370.8,1810.3 L1371.1,1810.2 L1371.3,1810.0 L1371.5,1809.8 L1371.7,1809.7 L1371.9,1809.5 L1372.1,1809.2 L1372.2,1809.0 L1372.3,1808.7 L1372.4,1808.5 L1372.4,1808.2 L1372.5,1807.9 L1372.5,1807.7 L1372.5,1807.4 L1372.4,1807.1 L1372.3,1806.9 L1372.2,1806.6 L1372.1,1806.4 L1372.0,1806.1 L1371.8,1805.9 L1371.6,1805.7 L1371.4,1805.6 L1371.2,1805.4 L1371.0,1805.3 L1331.7,1784.9 L1331.4,1784.8 L1331.2,1784.7 L1330.9,1784.7 L1330.6,1784.6 L1330.3,1784.6 L1330.1,1784.6 L1329.8,1784.7 L1329.5,1784.7 L1329.3,1784.8 L1329.0,1785.0 L1328.8,1785.1 L1291.7,1810.2Z" fill="#F8EAD1" stroke="#ECDCC1" stroke-width="2"/>
<path d="M1336.7,1810.1 L1339.2,1808.7 L1342.9,1799.0 L1341.9,1795.6 L1330.7,1790.1 L1320.1,1796.8 L1319.5,1799.1 L1320.7,1801.1 L1332.4,1809.7Z" fill="#FDF6E9" stroke="none" stroke-width="1"/>
<path d="M1316.8,1801.3 L1313.9,1800.9 L1307.6,1805.1 L1306.6,1807.2 L1307.3,1809.4 L1309.6,1810.4 L1322.0,1809.6 L1323.0,1807.8 L1322.6,1805.8Z" fill="#FDF6E9" stroke="none" stroke-width="1"/>
<path d="M1343.2,1805.1 L1343.6,1807.9 L1346.1,1809.1 L1354.7,1807.8 L1356.7,1804.9 L1355.4,1802.5 L1347.5,1798.8 L1345.2,1800.0Z" fill="#FDF6E9" stroke="none" stroke-width="1"/>
<defs><linearGradient id="dvfade" gradientUnits="userSpaceOnUse" x1="619" y1="0" x2="1476" y2="0"><stop offset="0" stop-color="#fff" stop-opacity="1"/><stop offset="0.05" stop-color="#fff" stop-opacity="0"/><stop offset="0.94" stop-color="#fff" stop-opacity="0"/><stop offset="1" stop-color="#fff" stop-opacity="1"/></linearGradient></defs>
<rect x="619.0" y="1536.4" width="857.0" height="34.0" fill="#E0EEF9" stroke="none" stroke-width="1"/>
<rect x="619.0" y="1539.7" width="857.0" height="2.8" fill="#B3D0DF" stroke="none" stroke-width="1"/>
<rect x="619.0" y="1564.4" width="857.0" height="2.8" fill="#B3D0DF" stroke="none" stroke-width="1"/>
<rect x="619.0" y="1536.4" width="857.0" height="3.4" fill="#4D87A8" stroke="none" stroke-width="1"/>
<rect x="619.0" y="1567.1" width="857.0" height="3.4" fill="#4D87A8" stroke="none" stroke-width="1"/>
<rect x="619.0" y="1535.0" width="857.0" height="37.0" fill="url(#dvfade)" stroke="none" stroke-width="1"/>
<text x="1161.5" y="1562.8" font-size="23.5" fill="#111">Dorsal vessel</text>
<circle cx="794.8" cy="1538.3" r="9.6" fill="#fff" stroke="#3A7DC9" stroke-width="2"/>
<circle cx="794.8" cy="1569.9" r="9.6" fill="#fff" stroke="#3A7DC9" stroke-width="2"/>
<circle cx="1011.4" cy="1538.3" r="9.6" fill="#fff" stroke="#3A7DC9" stroke-width="2"/>
<circle cx="1011.4" cy="1569.9" r="9.6" fill="#fff" stroke="#3A7DC9" stroke-width="2"/>
<circle cx="757.0" cy="1477.0" r="5.7" fill="#C6625F" stroke="#98403F" stroke-width="0.9"/><circle cx="757.3" cy="1476.2" r="2.1" fill="none" stroke="#98403F" stroke-width="0.8"/>
<circle cx="801.0" cy="1477.0" r="5.7" fill="#C6625F" stroke="#98403F" stroke-width="0.9"/><circle cx="801.3" cy="1476.2" r="2.1" fill="none" stroke="#98403F" stroke-width="0.8"/>
<circle cx="823.8" cy="1493.0" r="5.7" fill="#C6625F" stroke="#98403F" stroke-width="0.9"/><circle cx="824.1" cy="1492.2" r="2.1" fill="none" stroke="#98403F" stroke-width="0.8"/>
<circle cx="807.0" cy="1496.8" r="5.7" fill="#C6625F" stroke="#98403F" stroke-width="0.9"/><circle cx="807.3" cy="1496.0" r="2.1" fill="none" stroke="#98403F" stroke-width="0.8"/>
<circle cx="789.8" cy="1497.1" r="5.7" fill="#C6625F" stroke="#98403F" stroke-width="0.9"/><circle cx="790.1" cy="1496.3" r="2.1" fill="none" stroke="#98403F" stroke-width="0.8"/>
<circle cx="775.2" cy="1502.6" r="5.7" fill="#C6625F" stroke="#98403F" stroke-width="0.9"/><circle cx="775.5" cy="1501.8" r="2.1" fill="none" stroke="#98403F" stroke-width="0.8"/>
<circle cx="823.3" cy="1507.3" r="5.7" fill="#C6625F" stroke="#98403F" stroke-width="0.9"/><circle cx="823.6" cy="1506.5" r="2.1" fill="none" stroke="#98403F" stroke-width="0.8"/>
<circle cx="759.5" cy="1510.8" r="5.7" fill="#C6625F" stroke="#98403F" stroke-width="0.9"/><circle cx="759.8" cy="1510.0" r="2.1" fill="none" stroke="#98403F" stroke-width="0.8"/>
<circle cx="805.2" cy="1511.6" r="5.7" fill="#C6625F" stroke="#98403F" stroke-width="0.9"/><circle cx="805.5" cy="1510.8" r="2.1" fill="none" stroke="#98403F" stroke-width="0.8"/>
<circle cx="840.9" cy="1516.9" r="5.7" fill="#C6625F" stroke="#98403F" stroke-width="0.9"/><circle cx="841.2" cy="1516.1" r="2.1" fill="none" stroke="#98403F" stroke-width="0.8"/>
<circle cx="734.8" cy="1521.5" r="5.7" fill="#C6625F" stroke="#98403F" stroke-width="0.9"/><circle cx="735.1" cy="1520.7" r="2.1" fill="none" stroke="#98403F" stroke-width="0.8"/>
<circle cx="771.0" cy="1520.8" r="5.7" fill="#C6625F" stroke="#98403F" stroke-width="0.9"/><circle cx="771.3" cy="1520.0" r="2.1" fill="none" stroke="#98403F" stroke-width="0.8"/>
<circle cx="786.7" cy="1519.3" r="5.7" fill="#C6625F" stroke="#98403F" stroke-width="0.9"/><circle cx="787.0" cy="1518.5" r="2.1" fill="none" stroke="#98403F" stroke-width="0.8"/>
<circle cx="803.2" cy="1519.9" r="5.7" fill="#C6625F" stroke="#98403F" stroke-width="0.9"/><circle cx="803.5" cy="1519.1" r="2.1" fill="none" stroke="#98403F" stroke-width="0.8"/>
<circle cx="856.8" cy="1521.5" r="5.7" fill="#C6625F" stroke="#98403F" stroke-width="0.9"/><circle cx="857.1" cy="1520.7" r="2.1" fill="none" stroke="#98403F" stroke-width="0.8"/>
<circle cx="719.7" cy="1527.6" r="5.7" fill="#C6625F" stroke="#98403F" stroke-width="0.9"/><circle cx="720.0" cy="1526.8" r="2.1" fill="none" stroke="#98403F" stroke-width="0.8"/>
<circle cx="746.4" cy="1527.6" r="5.7" fill="#C6625F" stroke="#98403F" stroke-width="0.9"/><circle cx="746.7" cy="1526.8" r="2.1" fill="none" stroke="#98403F" stroke-width="0.8"/>
<circle cx="759.0" cy="1527.6" r="5.7" fill="#C6625F" stroke="#98403F" stroke-width="0.9"/><circle cx="759.3" cy="1526.8" r="2.1" fill="none" stroke="#98403F" stroke-width="0.8"/>
<circle cx="836.2" cy="1530.0" r="5.7" fill="#C6625F" stroke="#98403F" stroke-width="0.9"/><circle cx="836.5" cy="1529.2" r="2.1" fill="none" stroke="#98403F" stroke-width="0.8"/>
<circle cx="871.9" cy="1530.0" r="5.7" fill="#C6625F" stroke="#98403F" stroke-width="0.9"/><circle cx="872.2" cy="1529.2" r="2.1" fill="none" stroke="#98403F" stroke-width="0.8"/>
<circle cx="705.2" cy="1577.9" r="5.7" fill="#C6625F" stroke="#98403F" stroke-width="0.9"/><circle cx="705.5" cy="1577.1" r="2.1" fill="none" stroke="#98403F" stroke-width="0.8"/>
<circle cx="721.5" cy="1581.4" r="5.7" fill="#C6625F" stroke="#98403F" stroke-width="0.9"/><circle cx="721.8" cy="1580.6" r="2.1" fill="none" stroke="#98403F" stroke-width="0.8"/>
<circle cx="734.8" cy="1575.7" r="5.7" fill="#C6625F" stroke="#98403F" stroke-width="0.9"/><circle cx="735.1" cy="1574.9" r="2.1" fill="none" stroke="#98403F" stroke-width="0.8"/>
<circle cx="749.9" cy="1579.8" r="5.7" fill="#C6625F" stroke="#98403F" stroke-width="0.9"/><circle cx="750.2" cy="1579.0" r="2.1" fill="none" stroke="#98403F" stroke-width="0.8"/>
<circle cx="762.0" cy="1573.0" r="5.7" fill="#C6625F" stroke="#98403F" stroke-width="0.9"/><circle cx="762.3" cy="1572.2" r="2.1" fill="none" stroke="#98403F" stroke-width="0.8"/>
<circle cx="776.8" cy="1576.5" r="5.7" fill="#C6625F" stroke="#98403F" stroke-width="0.9"/><circle cx="777.1" cy="1575.7" r="2.1" fill="none" stroke="#98403F" stroke-width="0.8"/>
<circle cx="820.0" cy="1578.1" r="5.7" fill="#C6625F" stroke="#98403F" stroke-width="0.9"/><circle cx="820.3" cy="1577.3" r="2.1" fill="none" stroke="#98403F" stroke-width="0.8"/>
<circle cx="832.1" cy="1571.9" r="5.7" fill="#C6625F" stroke="#98403F" stroke-width="0.9"/><circle cx="832.4" cy="1571.1" r="2.1" fill="none" stroke="#98403F" stroke-width="0.8"/>
<circle cx="862.0" cy="1574.0" r="5.7" fill="#C6625F" stroke="#98403F" stroke-width="0.9"/><circle cx="862.3" cy="1573.2" r="2.1" fill="none" stroke="#98403F" stroke-width="0.8"/>
<circle cx="877.4" cy="1578.4" r="5.7" fill="#C6625F" stroke="#98403F" stroke-width="0.9"/><circle cx="877.7" cy="1577.6" r="2.1" fill="none" stroke="#98403F" stroke-width="0.8"/>
<circle cx="768.9" cy="1588.6" r="5.7" fill="#C6625F" stroke="#98403F" stroke-width="0.9"/><circle cx="769.2" cy="1587.8" r="2.1" fill="none" stroke="#98403F" stroke-width="0.8"/>
<circle cx="781.4" cy="1584.7" r="5.7" fill="#C6625F" stroke="#98403F" stroke-width="0.9"/><circle cx="781.7" cy="1583.9" r="2.1" fill="none" stroke="#98403F" stroke-width="0.8"/>
<circle cx="795.0" cy="1591.1" r="5.7" fill="#C6625F" stroke="#98403F" stroke-width="0.9"/><circle cx="795.3" cy="1590.3" r="2.1" fill="none" stroke="#98403F" stroke-width="0.8"/>
<circle cx="807.0" cy="1584.7" r="5.7" fill="#C6625F" stroke="#98403F" stroke-width="0.9"/><circle cx="807.3" cy="1583.9" r="2.1" fill="none" stroke="#98403F" stroke-width="0.8"/>
<circle cx="827.4" cy="1590.0" r="5.7" fill="#C6625F" stroke="#98403F" stroke-width="0.9"/><circle cx="827.7" cy="1589.2" r="2.1" fill="none" stroke="#98403F" stroke-width="0.8"/>
<circle cx="837.0" cy="1586.7" r="5.7" fill="#C6625F" stroke="#98403F" stroke-width="0.9"/><circle cx="837.3" cy="1585.9" r="2.1" fill="none" stroke="#98403F" stroke-width="0.8"/>
<circle cx="851.9" cy="1583.4" r="5.7" fill="#C6625F" stroke="#98403F" stroke-width="0.9"/><circle cx="852.2" cy="1582.6" r="2.1" fill="none" stroke="#98403F" stroke-width="0.8"/>
<circle cx="729.8" cy="1595.7" r="5.7" fill="#C6625F" stroke="#98403F" stroke-width="0.9"/><circle cx="730.1" cy="1594.9" r="2.1" fill="none" stroke="#98403F" stroke-width="0.8"/>
<circle cx="745.5" cy="1600.3" r="5.7" fill="#C6625F" stroke="#98403F" stroke-width="0.9"/><circle cx="745.8" cy="1599.5" r="2.1" fill="none" stroke="#98403F" stroke-width="0.8"/>
<circle cx="766.0" cy="1602.5" r="5.7" fill="#C6625F" stroke="#98403F" stroke-width="0.9"/><circle cx="766.3" cy="1601.7" r="2.1" fill="none" stroke="#98403F" stroke-width="0.8"/>
<circle cx="781.4" cy="1604.5" r="5.7" fill="#C6625F" stroke="#98403F" stroke-width="0.9"/><circle cx="781.7" cy="1603.7" r="2.1" fill="none" stroke="#98403F" stroke-width="0.8"/>
<circle cx="801.9" cy="1602.5" r="5.7" fill="#C6625F" stroke="#98403F" stroke-width="0.9"/><circle cx="802.2" cy="1601.7" r="2.1" fill="none" stroke="#98403F" stroke-width="0.8"/>
<circle cx="815.3" cy="1596.8" r="5.7" fill="#C6625F" stroke="#98403F" stroke-width="0.9"/><circle cx="815.6" cy="1596.0" r="2.1" fill="none" stroke="#98403F" stroke-width="0.8"/>
<circle cx="827.1" cy="1606.7" r="5.7" fill="#C6625F" stroke="#98403F" stroke-width="0.9"/><circle cx="827.4" cy="1605.9" r="2.1" fill="none" stroke="#98403F" stroke-width="0.8"/>
<circle cx="778.2" cy="1616.0" r="5.7" fill="#C6625F" stroke="#98403F" stroke-width="0.9"/><circle cx="778.5" cy="1615.2" r="2.1" fill="none" stroke="#98403F" stroke-width="0.8"/>
<circle cx="794.4" cy="1614.2" r="5.7" fill="#C6625F" stroke="#98403F" stroke-width="0.9"/><circle cx="794.7" cy="1613.4" r="2.1" fill="none" stroke="#98403F" stroke-width="0.8"/>
<circle cx="853.2" cy="1616.4" r="5.7" fill="#C6625F" stroke="#98403F" stroke-width="0.9"/><circle cx="853.5" cy="1615.6" r="2.1" fill="none" stroke="#98403F" stroke-width="0.8"/>
<circle cx="762.7" cy="1624.1" r="5.7" fill="#C6625F" stroke="#98403F" stroke-width="0.9"/><circle cx="763.0" cy="1623.3" r="2.1" fill="none" stroke="#98403F" stroke-width="0.8"/>
<circle cx="814.7" cy="1622.6" r="5.7" fill="#C6625F" stroke="#98403F" stroke-width="0.9"/><circle cx="815.0" cy="1621.8" r="2.1" fill="none" stroke="#98403F" stroke-width="0.8"/>
<circle cx="750.8" cy="1630.9" r="5.7" fill="#C6625F" stroke="#98403F" stroke-width="0.9"/><circle cx="751.1" cy="1630.1" r="2.1" fill="none" stroke="#98403F" stroke-width="0.8"/>
<circle cx="791.6" cy="1635.5" r="5.7" fill="#C6625F" stroke="#98403F" stroke-width="0.9"/><circle cx="791.9" cy="1634.7" r="2.1" fill="none" stroke="#98403F" stroke-width="0.8"/>
<circle cx="999.6" cy="1485.1" r="5.7" fill="#C6625F" stroke="#98403F" stroke-width="0.9"/><circle cx="999.9" cy="1484.3" r="2.1" fill="none" stroke="#98403F" stroke-width="0.8"/>
<circle cx="1019.7" cy="1485.7" r="5.7" fill="#C6625F" stroke="#98403F" stroke-width="0.9"/><circle cx="1020.0" cy="1484.9" r="2.1" fill="none" stroke="#98403F" stroke-width="0.8"/>
<circle cx="990.0" cy="1503.2" r="5.7" fill="#C6625F" stroke="#98403F" stroke-width="0.9"/><circle cx="990.3" cy="1502.4" r="2.1" fill="none" stroke="#98403F" stroke-width="0.8"/>
<circle cx="1011.1" cy="1505.5" r="5.7" fill="#C6625F" stroke="#98403F" stroke-width="0.9"/><circle cx="1011.4" cy="1504.7" r="2.1" fill="none" stroke="#98403F" stroke-width="0.8"/>
<circle cx="999.6" cy="1511.4" r="5.7" fill="#C6625F" stroke="#98403F" stroke-width="0.9"/><circle cx="999.9" cy="1510.6" r="2.1" fill="none" stroke="#98403F" stroke-width="0.8"/>
<circle cx="1026.3" cy="1509.5" r="5.7" fill="#C6625F" stroke="#98403F" stroke-width="0.9"/><circle cx="1026.6" cy="1508.7" r="2.1" fill="none" stroke="#98403F" stroke-width="0.8"/>
<circle cx="1014.7" cy="1516.0" r="5.7" fill="#C6625F" stroke="#98403F" stroke-width="0.9"/><circle cx="1015.0" cy="1515.2" r="2.1" fill="none" stroke="#98403F" stroke-width="0.8"/>
<circle cx="1040.8" cy="1516.0" r="5.7" fill="#C6625F" stroke="#98403F" stroke-width="0.9"/><circle cx="1041.1" cy="1515.2" r="2.1" fill="none" stroke="#98403F" stroke-width="0.8"/>
<circle cx="1024.3" cy="1521.3" r="5.7" fill="#C6625F" stroke="#98403F" stroke-width="0.9"/><circle cx="1024.6" cy="1520.5" r="2.1" fill="none" stroke="#98403F" stroke-width="0.8"/>
<circle cx="1056.6" cy="1522.0" r="5.7" fill="#C6625F" stroke="#98403F" stroke-width="0.9"/><circle cx="1056.9" cy="1521.2" r="2.1" fill="none" stroke="#98403F" stroke-width="0.8"/>
<circle cx="978.1" cy="1524.6" r="5.7" fill="#C6625F" stroke="#98403F" stroke-width="0.9"/><circle cx="978.4" cy="1523.8" r="2.1" fill="none" stroke="#98403F" stroke-width="0.8"/>
<circle cx="953.7" cy="1530.2" r="5.7" fill="#C6625F" stroke="#98403F" stroke-width="0.9"/><circle cx="954.0" cy="1529.4" r="2.1" fill="none" stroke="#98403F" stroke-width="0.8"/>
<circle cx="1034.5" cy="1528.6" r="5.7" fill="#C6625F" stroke="#98403F" stroke-width="0.9"/><circle cx="1034.8" cy="1527.8" r="2.1" fill="none" stroke="#98403F" stroke-width="0.8"/>
<circle cx="1071.4" cy="1529.6" r="5.7" fill="#C6625F" stroke="#98403F" stroke-width="0.9"/><circle cx="1071.7" cy="1528.8" r="2.1" fill="none" stroke="#98403F" stroke-width="0.8"/>
<circle cx="960.0" cy="1579.0" r="5.7" fill="#C6625F" stroke="#98403F" stroke-width="0.9"/><circle cx="960.3" cy="1578.2" r="2.1" fill="none" stroke="#98403F" stroke-width="0.8"/>
<circle cx="976.5" cy="1581.3" r="5.7" fill="#C6625F" stroke="#98403F" stroke-width="0.9"/><circle cx="976.8" cy="1580.5" r="2.1" fill="none" stroke="#98403F" stroke-width="0.8"/>
<circle cx="992.3" cy="1579.0" r="5.7" fill="#C6625F" stroke="#98403F" stroke-width="0.9"/><circle cx="992.6" cy="1578.2" r="2.1" fill="none" stroke="#98403F" stroke-width="0.8"/>
<circle cx="1034.5" cy="1573.1" r="5.7" fill="#C6625F" stroke="#98403F" stroke-width="0.9"/><circle cx="1034.8" cy="1572.3" r="2.1" fill="none" stroke="#98403F" stroke-width="0.8"/>
<circle cx="1063.2" cy="1577.4" r="5.7" fill="#C6625F" stroke="#98403F" stroke-width="0.9"/><circle cx="1063.5" cy="1576.6" r="2.1" fill="none" stroke="#98403F" stroke-width="0.8"/>
<circle cx="1094.5" cy="1582.3" r="5.7" fill="#C6625F" stroke="#98403F" stroke-width="0.9"/><circle cx="1094.8" cy="1581.5" r="2.1" fill="none" stroke="#98403F" stroke-width="0.8"/>
<circle cx="972.5" cy="1594.5" r="5.7" fill="#C6625F" stroke="#98403F" stroke-width="0.9"/><circle cx="972.8" cy="1593.7" r="2.1" fill="none" stroke="#98403F" stroke-width="0.8"/>
<circle cx="999.9" cy="1590.6" r="5.7" fill="#C6625F" stroke="#98403F" stroke-width="0.9"/><circle cx="1000.2" cy="1589.8" r="2.1" fill="none" stroke="#98403F" stroke-width="0.8"/>
<circle cx="1012.1" cy="1587.3" r="5.7" fill="#C6625F" stroke="#98403F" stroke-width="0.9"/><circle cx="1012.4" cy="1586.5" r="2.1" fill="none" stroke="#98403F" stroke-width="0.8"/>
<circle cx="1024.6" cy="1583.6" r="5.7" fill="#C6625F" stroke="#98403F" stroke-width="0.9"/><circle cx="1024.9" cy="1582.8" r="2.1" fill="none" stroke="#98403F" stroke-width="0.8"/>
<circle cx="1036.2" cy="1589.6" r="5.7" fill="#C6625F" stroke="#98403F" stroke-width="0.9"/><circle cx="1036.5" cy="1588.8" r="2.1" fill="none" stroke="#98403F" stroke-width="0.8"/>
<circle cx="1050.0" cy="1584.0" r="5.7" fill="#C6625F" stroke="#98403F" stroke-width="0.9"/><circle cx="1050.3" cy="1583.2" r="2.1" fill="none" stroke="#98403F" stroke-width="0.8"/>
<circle cx="1070.8" cy="1588.9" r="5.7" fill="#C6625F" stroke="#98403F" stroke-width="0.9"/><circle cx="1071.1" cy="1588.1" r="2.1" fill="none" stroke="#98403F" stroke-width="0.8"/>
<circle cx="989.0" cy="1598.8" r="5.7" fill="#C6625F" stroke="#98403F" stroke-width="0.9"/><circle cx="989.3" cy="1598.0" r="2.1" fill="none" stroke="#98403F" stroke-width="0.8"/>
<circle cx="1008.8" cy="1601.8" r="5.7" fill="#C6625F" stroke="#98403F" stroke-width="0.9"/><circle cx="1009.1" cy="1601.0" r="2.1" fill="none" stroke="#98403F" stroke-width="0.8"/>
<circle cx="1024.6" cy="1604.4" r="5.7" fill="#C6625F" stroke="#98403F" stroke-width="0.9"/><circle cx="1024.9" cy="1603.6" r="2.1" fill="none" stroke="#98403F" stroke-width="0.8"/>
<circle cx="1045.1" cy="1601.1" r="5.7" fill="#C6625F" stroke="#98403F" stroke-width="0.9"/><circle cx="1045.4" cy="1600.3" r="2.1" fill="none" stroke="#98403F" stroke-width="0.8"/>
<circle cx="997.3" cy="1608.4" r="5.7" fill="#C6625F" stroke="#98403F" stroke-width="0.9"/><circle cx="997.6" cy="1607.6" r="2.1" fill="none" stroke="#98403F" stroke-width="0.8"/>
<circle cx="1021.3" cy="1615.3" r="5.7" fill="#C6625F" stroke="#98403F" stroke-width="0.9"/><circle cx="1021.6" cy="1614.5" r="2.1" fill="none" stroke="#98403F" stroke-width="0.8"/>
<circle cx="1001.5" cy="1626.8" r="5.7" fill="#C6625F" stroke="#98403F" stroke-width="0.9"/><circle cx="1001.8" cy="1626.0" r="2.1" fill="none" stroke="#98403F" stroke-width="0.8"/>
<text x="869.5" y="1458.7" font-size="23.5" fill="#111">Ostia</text>
<polyline points="809.0,1527.0 900.0,1465.0 997.0,1527.0" fill="none" stroke="#1a1a1a" stroke-width="2" stroke-linejoin="round"/>
<polygon points="805.5,1529.8 813.5,1516.6 820.7,1527.4" fill="#1a1a1a" stroke="none" stroke-width="1"/>
<polygon points="1001.0,1529.8 985.8,1527.4 993.0,1516.6" fill="#1a1a1a" stroke="none" stroke-width="1"/>
<polygon points="742.3,1841.9 741.6,1839.8 740.8,1837.7 740.0,1835.5 739.2,1833.3 738.4,1831.1 737.6,1828.9 736.9,1826.6 736.1,1824.3 735.3,1822.0 734.5,1819.7 733.7,1817.3 732.9,1814.9 732.2,1812.5 731.4,1810.1 730.6,1807.7 729.9,1805.2 729.1,1802.7 728.4,1800.3 727.7,1797.8 727.0,1795.2 726.3,1792.7 725.6,1790.2 725.0,1787.6 724.3,1785.0 723.7,1782.5 723.1,1779.9 722.5,1777.3 722.0,1774.7 721.4,1772.1 720.9,1769.5 720.4,1766.9 720.0,1764.3 719.5,1761.6 719.1,1759.0 718.8,1756.4 718.4,1753.8 718.1,1751.2 717.8,1748.6 717.6,1745.9 716.4,1746.1 716.7,1748.7 716.9,1751.3 717.3,1753.9 717.6,1756.6 718.0,1759.2 718.4,1761.8 718.9,1764.4 719.3,1767.1 719.8,1769.7 720.4,1772.3 720.9,1774.9 721.5,1777.5 722.1,1780.1 722.7,1782.7 723.3,1785.3 724.0,1787.9 724.7,1790.4 725.4,1793.0 726.1,1795.5 726.8,1798.0 727.5,1800.5 728.3,1803.0 729.0,1805.5 729.8,1807.9 730.5,1810.4 731.3,1812.8 732.1,1815.2 732.9,1817.6 733.7,1819.9 734.5,1822.3 735.3,1824.6 736.1,1826.9 736.9,1829.1 737.7,1831.4 738.5,1833.6 739.3,1835.8 740.1,1837.9 740.9,1840.0 741.7,1842.1" fill="#D46F6B" stroke="none" stroke-width="1"/>
<polygon points="717.6,1746.0 717.4,1743.2 717.3,1740.4 717.2,1737.7 717.1,1734.9 717.1,1732.2 717.2,1729.5 717.2,1726.8 717.3,1724.1 717.5,1721.4 717.7,1718.7 717.9,1716.1 718.1,1713.4 718.4,1710.8 718.8,1708.2 719.1,1705.6 719.5,1703.0 720.0,1700.4 720.4,1697.9 720.9,1695.4 721.4,1692.9 722.0,1690.4 722.6,1687.9 723.2,1685.5 723.9,1683.1 724.5,1680.7 725.2,1678.4 726.0,1676.1 726.7,1673.8 727.5,1671.5 728.3,1669.3 729.1,1667.1 730.0,1665.0 730.9,1662.8 731.8,1660.7 732.7,1658.7 733.6,1656.7 734.6,1654.7 735.6,1652.7 736.6,1650.8 733.4,1649.2 732.4,1651.2 731.5,1653.2 730.5,1655.2 729.6,1657.3 728.7,1659.4 727.9,1661.6 727.0,1663.8 726.2,1666.0 725.4,1668.3 724.7,1670.6 723.9,1672.9 723.2,1675.2 722.5,1677.6 721.9,1680.0 721.3,1682.4 720.7,1684.9 720.1,1687.4 719.6,1689.9 719.1,1692.4 718.6,1694.9 718.1,1697.5 717.7,1700.1 717.4,1702.7 717.0,1705.3 716.7,1707.9 716.5,1710.6 716.2,1713.2 716.0,1715.9 715.9,1718.6 715.7,1721.3 715.6,1724.0 715.6,1726.7 715.6,1729.5 715.6,1732.2 715.7,1735.0 715.8,1737.7 716.0,1740.5 716.2,1743.3 716.4,1746.0" fill="#D46F6B" stroke="none" stroke-width="1"/>
<polygon points="739.0,1639.0 739.9,1655.5 726.9,1650.3" fill="#D46F6B" stroke="none" stroke-width="1"/>
<polygon points="718.1,1746.3 722.1,1744.7 726.2,1743.1 730.3,1741.5 734.4,1739.8 738.5,1738.1 742.6,1736.4 746.8,1734.7 750.9,1732.9 755.1,1731.0 759.2,1729.2 763.3,1727.3 767.4,1725.3 771.5,1723.3 775.6,1721.2 779.7,1719.1 783.7,1716.9 787.7,1714.6 791.7,1712.3 795.6,1709.9 799.5,1707.4 803.3,1704.8 807.1,1702.2 810.9,1699.5 814.5,1696.7 818.1,1693.7 821.7,1690.8 825.1,1687.7 828.5,1684.5 831.8,1681.2 835.1,1677.8 838.2,1674.2 841.3,1670.6 844.2,1666.9 847.1,1663.0 849.8,1659.0 852.4,1654.9 854.9,1650.7 857.3,1646.3 859.6,1641.8 856.4,1640.2 854.2,1644.7 851.9,1649.0 849.5,1653.2 847.0,1657.2 844.4,1661.2 841.7,1665.0 838.9,1668.7 835.9,1672.3 832.9,1675.8 829.8,1679.2 826.6,1682.5 823.3,1685.7 820.0,1688.8 816.5,1691.8 813.0,1694.7 809.4,1697.6 805.8,1700.3 802.1,1703.0 798.3,1705.6 794.5,1708.1 790.7,1710.6 786.8,1713.0 782.8,1715.3 778.9,1717.5 774.9,1719.7 770.8,1721.8 766.8,1723.9 762.7,1726.0 758.6,1727.9 754.5,1729.9 750.4,1731.8 746.3,1733.6 742.2,1735.4 738.1,1737.2 734.0,1739.0 730.0,1740.7 725.9,1742.4 721.9,1744.1 717.9,1745.7" fill="#D46F6B" stroke="none" stroke-width="1"/>
<polygon points="860.5,1630.0 864.2,1646.1 850.5,1643.2" fill="#D46F6B" stroke="none" stroke-width="1"/>
<polygon points="718.0,1746.3 724.4,1745.7 730.8,1745.0 737.3,1744.3 743.8,1743.5 750.4,1742.6 757.1,1741.6 763.8,1740.6 770.5,1739.4 777.3,1738.2 784.2,1736.8 791.0,1735.4 797.9,1733.8 804.9,1732.2 811.8,1730.4 818.8,1728.5 825.8,1726.5 832.8,1724.3 839.8,1722.0 846.8,1719.6 853.9,1717.1 860.9,1714.3 867.9,1711.5 875.0,1708.5 882.0,1705.3 889.0,1701.9 895.9,1698.4 902.9,1694.7 909.8,1690.9 916.7,1686.8 923.6,1682.6 930.4,1678.1 937.2,1673.5 943.9,1668.7 950.6,1663.7 957.3,1658.4 963.9,1653.0 970.4,1647.3 976.9,1641.4 983.3,1635.3 980.7,1632.7 974.4,1638.8 968.1,1644.7 961.7,1650.4 955.2,1655.9 948.7,1661.1 942.1,1666.2 935.4,1671.0 928.7,1675.7 922.0,1680.1 915.2,1684.4 908.4,1688.5 901.6,1692.4 894.7,1696.1 887.8,1699.7 880.9,1703.1 874.0,1706.3 867.0,1709.4 860.1,1712.3 853.1,1715.1 846.2,1717.7 839.2,1720.2 832.2,1722.5 825.3,1724.7 818.3,1726.8 811.4,1728.8 804.5,1730.6 797.6,1732.4 790.7,1734.0 783.9,1735.5 777.1,1736.9 770.3,1738.2 763.6,1739.4 756.9,1740.6 750.3,1741.6 743.7,1742.6 737.2,1743.5 730.7,1744.3 724.3,1745.0 718.0,1745.7" fill="#D46F6B" stroke="none" stroke-width="1"/>
<polygon points="991.0,1625.5 984.5,1640.7 975.2,1630.3" fill="#D46F6B" stroke="none" stroke-width="1"/>
<text x="975.8" y="1698.4" font-size="23.5" fill="#111">Glycerate</text>
<polyline points="989.0,1742.0 1004.0,1733.0 1018.7,1740.0 1034.0,1731.0 1049.4,1742.0" fill="none" stroke="#8c8c8c" stroke-width="2" stroke-linejoin="round"/>
<line x1="1018.7" y1="1740.0" x2="1018.7" y2="1757.7" stroke="#8c8c8c" stroke-width="2"/>
<line x1="1031.5" y1="1731.0" x2="1031.5" y2="1714.0" stroke="#8c8c8c" stroke-width="1.6"/>
<line x1="1035.5" y1="1731.0" x2="1035.5" y2="1714.0" stroke="#8c8c8c" stroke-width="1.6"/>
<circle cx="1033.5" cy="1713.9" r="7.3" fill="#E9868B" stroke="#D06A70" stroke-width="0.8"/>
<circle cx="989.0" cy="1741.9" r="7.3" fill="#E9868B" stroke="#D06A70" stroke-width="0.8"/>
<circle cx="1049.4" cy="1741.9" r="7.3" fill="#E9868B" stroke="#D06A70" stroke-width="0.8"/>
<circle cx="1018.7" cy="1757.7" r="7.3" fill="#E9868B" stroke="#D06A70" stroke-width="0.8"/>
<text x="1060.0" y="1730.7" font-size="23.5" fill="#111">Lipogenesis</text>
<text x="1235.8" y="1730.7" font-size="23.5" fill="#111">Lipolysis</text>
<text x="1181.5" y="1698.4" font-size="23.5" fill="#111">DAG</text>
<text x="1324.0" y="1698.4" font-size="23.5" fill="#111">TAG</text>
<defs><linearGradient id="navyR" gradientUnits="userSpaceOnUse" x1="1061" y1="0" x2="1185" y2="0"><stop offset="0" stop-color="#2B3A6B" stop-opacity="0"/><stop offset="0.45" stop-color="#2B3A6B"/></linearGradient><linearGradient id="navyL" gradientUnits="userSpaceOnUse" x1="1331" y1="0" x2="1225" y2="0"><stop offset="0" stop-color="#2B3A6B" stop-opacity="0"/><stop offset="0.45" stop-color="#2B3A6B"/></linearGradient></defs>
<rect x="1061.0" y="1744.0" width="118.0" height="3.0" fill="url(#navyR)" stroke="none" stroke-width="1"/>
<polygon points="1190.0,1745.5 1178.0,1751.5 1178.0,1739.5" fill="#2B3A6B" stroke="none" stroke-width="1"/>
<rect x="1232.0" y="1744.7" width="99.0" height="3.0" fill="url(#navyL)" stroke="none" stroke-width="1"/>
<polygon points="1222.6,1746.2 1234.6,1740.2 1234.6,1752.2" fill="#2B3A6B" stroke="none" stroke-width="1"/>
<path d="M1200,1712 V1770 M1210,1712 V1733 L1222,1769" fill="none" stroke="#F0C43F" stroke-width="3.6"/>
<rect x="1189.5" y="1706.5" width="30" height="6" rx="3" fill="#E8951E"/>
<path d="M1336,1712 V1767 M1344,1712 V1767 M1352,1712 V1733 L1362,1766" fill="none" stroke="#F0C43F" stroke-width="3.6"/>
<rect x="1329.5" y="1706.5" width="29" height="6" rx="3" fill="#E8951E"/>
<defs><linearGradient id="blkUp" gradientUnits="userSpaceOnUse" x1="0" y1="2008" x2="0" y2="1935"><stop offset="0" stop-color="#222" stop-opacity="0"/><stop offset="0.5" stop-color="#222"/></linearGradient><linearGradient id="blkUp2" gradientUnits="userSpaceOnUse" x1="0" y1="2152" x2="0" y2="2090"><stop offset="0" stop-color="#222" stop-opacity="0"/><stop offset="0.5" stop-color="#222"/></linearGradient><linearGradient id="blkL" gradientUnits="userSpaceOnUse" x1="1173" y1="0" x2="1065" y2="0"><stop offset="0" stop-color="#222" stop-opacity="0"/><stop offset="0.5" stop-color="#222"/></linearGradient><linearGradient id="blkR" gradientUnits="userSpaceOnUse" x1="1025" y1="0" x2="1120" y2="0"><stop offset="0" stop-color="#222" stop-opacity="0"/><stop offset="0.55" stop-color="#222"/></linearGradient><linearGradient id="blkDn" gradientUnits="userSpaceOnUse" x1="0" y1="1770" x2="0" y2="1812"><stop offset="0" stop-color="#555" stop-opacity="0.1"/><stop offset="1" stop-color="#333"/></linearGradient></defs>
<rect x="1203.4" y="1770.0" width="2.0" height="40.0" fill="url(#blkDn)" stroke="none" stroke-width="1"/>
<path d="M1172,1811 C1180,1806 1192,1810 1203,1817 C1209,1812 1214,1806 1219,1807 C1225,1810 1223,1822 1217,1829 C1212,1835 1204,1836 1198,1834 C1188,1830 1178,1822 1172,1811 Z" fill="#5877B3" stroke="none" stroke-width="1"/>
<text x="1223.0" y="1842.0" font-size="23.5" fill="#111">Pla2</text>
<rect x="1203.0" y="1834.0" width="3.0" height="42.0" fill="#222" stroke="none" stroke-width="1"/>
<polygon points="1204.4,1886.5 1197.9,1874.5 1210.9,1874.5" fill="#222" stroke="none" stroke-width="1"/>
<polygon points="1188.5,1906.7 1195.7,1894.2 1210.3,1894.2 1217.5,1906.7 1210.3,1919.2 1195.7,1919.2" fill="#F6A9C6" stroke="#A8566F" stroke-width="1.8"/>
<text x="1228.3" y="1916.4" font-size="23.5" fill="#111">Arachidonic acid</text>
<rect x="1203.0" y="1935.0" width="3.0" height="72.0" fill="url(#blkUp)" stroke="none" stroke-width="1"/>
<polygon points="1204.4,1925.5 1210.9,1937.5 1197.9,1937.5" fill="#222" stroke="none" stroke-width="1"/>
<rect x="1065.0" y="1902.5" width="108.0" height="3.0" fill="url(#blkL)" stroke="none" stroke-width="1"/>
<polygon points="1058.3,1904.0 1071.3,1897.5 1071.3,1910.5" fill="#222" stroke="none" stroke-width="1"/>
<path d="M649.5,2070 L649.5,2019 Q649.5,2015.5 653.0,2015.5 L688.1,2015.5 Q691.6,2015.5 691.6,2019 L691.6,2070 C690.6,2079 684.1,2079 683.1,2070 C682.1,2079 675.7,2079 674.7,2070 C673.7,2079 667.3,2079 666.3,2070 C665.3,2079 658.9,2079 657.9,2070 C656.9,2079 650.5,2079 649.5,2070 Z" fill="#F1DADA" stroke="#E0A7A6" stroke-width="1.2"/>
<circle cx="670.5" cy="2042.0" r="9.8" fill="#DEA6A4" stroke="none" stroke-width="1"/>
<path d="M693.4,2070 L693.4,2019 Q693.4,2015.5 696.9,2015.5 L731.9,2015.5 Q735.4,2015.5 735.4,2019 L735.4,2070 C734.4,2079 728.0,2079 727.0,2070 C726.0,2079 719.6,2079 718.6,2070 C717.6,2079 711.2,2079 710.2,2070 C709.2,2079 702.8,2079 701.8,2070 C700.8,2079 694.4,2079 693.4,2070 Z" fill="#F1DADA" stroke="#E0A7A6" stroke-width="1.2"/>
<circle cx="714.4" cy="2042.0" r="9.8" fill="#DEA6A4" stroke="none" stroke-width="1"/>
<path d="M737.2,2070 L737.2,2019 Q737.2,2015.5 740.7,2015.5 L775.8,2015.5 Q779.3,2015.5 779.3,2019 L779.3,2070 C778.3,2079 771.9,2079 770.9,2070 C769.9,2079 763.5,2079 762.5,2070 C761.5,2079 755.0,2079 754.0,2070 C753.0,2079 746.6,2079 745.6,2070 C744.6,2079 738.2,2079 737.2,2070 Z" fill="#F1DADA" stroke="#E0A7A6" stroke-width="1.2"/>
<circle cx="758.2" cy="2042.0" r="9.8" fill="#DEA6A4" stroke="none" stroke-width="1"/>
<path d="M781.1,2070 L781.1,2019 Q781.1,2015.5 784.6,2015.5 L819.6,2015.5 Q823.1,2015.5 823.1,2019 L823.1,2070 C822.1,2079 815.7,2079 814.7,2070 C813.7,2079 807.3,2079 806.3,2070 C805.3,2079 798.9,2079 797.9,2070 C796.9,2079 790.5,2079 789.5,2070 C788.5,2079 782.1,2079 781.1,2070 Z" fill="#F1DADA" stroke="#E0A7A6" stroke-width="1.2"/>
<circle cx="802.1" cy="2042.0" r="9.8" fill="#DEA6A4" stroke="none" stroke-width="1"/>
<path d="M824.9,2070 L824.9,2019 Q824.9,2015.5 828.4,2015.5 L863.5,2015.5 Q867.0,2015.5 867.0,2019 L867.0,2070 C866.0,2079 859.6,2079 858.6,2070 C857.6,2079 851.2,2079 850.2,2070 C849.2,2079 842.8,2079 841.8,2070 C840.8,2079 834.4,2079 833.4,2070 C832.4,2079 825.9,2079 824.9,2070 Z" fill="#F1DADA" stroke="#E0A7A6" stroke-width="1.2"/>
<circle cx="846.0" cy="2042.0" r="9.8" fill="#DEA6A4" stroke="none" stroke-width="1"/>
<path d="M868.8,2070 L868.8,2019 Q868.8,2015.5 872.3,2015.5 L907.4,2015.5 Q910.9,2015.5 910.9,2019 L910.9,2070 C909.9,2079 903.4,2079 902.4,2070 C901.4,2079 895.0,2079 894.0,2070 C893.0,2079 886.6,2079 885.6,2070 C884.6,2079 878.2,2079 877.2,2070 C876.2,2079 869.8,2079 868.8,2070 Z" fill="#F1DADA" stroke="#E0A7A6" stroke-width="1.2"/>
<circle cx="889.8" cy="2042.0" r="9.8" fill="#DEA6A4" stroke="none" stroke-width="1"/>
<path d="M912.7,2070 L912.7,2019 Q912.7,2015.5 916.2,2015.5 L951.2,2015.5 Q954.7,2015.5 954.7,2019 L954.7,2070 C953.7,2079 947.3,2079 946.3,2070 C945.3,2079 938.9,2079 937.9,2070 C936.9,2079 930.5,2079 929.5,2070 C928.5,2079 922.1,2079 921.1,2070 C920.1,2079 913.7,2079 912.7,2070 Z" fill="#F1DADA" stroke="#E0A7A6" stroke-width="1.2"/>
<circle cx="933.7" cy="2042.0" r="9.8" fill="#DEA6A4" stroke="none" stroke-width="1"/>
<path d="M956.5,2070 L956.5,2019 Q956.5,2015.5 960.0,2015.5 L995.1,2015.5 Q998.6,2015.5 998.6,2019 L998.6,2070 C997.6,2079 991.2,2079 990.2,2070 C989.2,2079 982.8,2079 981.8,2070 C980.8,2079 974.3,2079 973.3,2070 C972.3,2079 965.9,2079 964.9,2070 C963.9,2079 957.5,2079 956.5,2070 Z" fill="#F1DADA" stroke="#E0A7A6" stroke-width="1.2"/>
<circle cx="977.5" cy="2042.0" r="9.8" fill="#DEA6A4" stroke="none" stroke-width="1"/>
<path d="M1000.4,2070 L1000.4,2019 Q1000.4,2015.5 1003.9,2015.5 L1038.9,2015.5 Q1042.4,2015.5 1042.4,2019 L1042.4,2070 C1041.4,2079 1035.0,2079 1034.0,2070 C1033.0,2079 1026.6,2079 1025.6,2070 C1024.6,2079 1018.2,2079 1017.2,2070 C1016.2,2079 1009.8,2079 1008.8,2070 C1007.8,2079 1001.4,2079 1000.4,2070 Z" fill="#F1DADA" stroke="#E0A7A6" stroke-width="1.2"/>
<circle cx="1021.4" cy="2042.0" r="9.8" fill="#DEA6A4" stroke="none" stroke-width="1"/>
<path d="M1044.2,2070 L1044.2,2019 Q1044.2,2015.5 1047.7,2015.5 L1082.8,2015.5 Q1086.3,2015.5 1086.3,2019 L1086.3,2070 C1085.3,2079 1078.9,2079 1077.9,2070 C1076.9,2079 1070.5,2079 1069.5,2070 C1068.5,2079 1062.1,2079 1061.1,2070 C1060.1,2079 1053.7,2079 1052.7,2070 C1051.7,2079 1045.2,2079 1044.2,2070 Z" fill="#F1DADA" stroke="#E0A7A6" stroke-width="1.2"/>
<circle cx="1065.3" cy="2042.0" r="9.8" fill="#DEA6A4" stroke="none" stroke-width="1"/>
<path d="M1088.1,2070 L1088.1,2019 Q1088.1,2015.5 1091.6,2015.5 L1126.7,2015.5 Q1130.2,2015.5 1130.2,2019 L1130.2,2070 C1129.2,2079 1122.7,2079 1121.7,2070 C1120.7,2079 1114.3,2079 1113.3,2070 C1112.3,2079 1105.9,2079 1104.9,2070 C1103.9,2079 1097.5,2079 1096.5,2070 C1095.5,2079 1089.1,2079 1088.1,2070 Z" fill="#F1DADA" stroke="#E0A7A6" stroke-width="1.2"/>
<circle cx="1109.1" cy="2042.0" r="9.8" fill="#DEA6A4" stroke="none" stroke-width="1"/>
<path d="M1132.0,2070 L1132.0,2019 Q1132.0,2015.5 1135.5,2015.5 L1170.5,2015.5 Q1174.0,2015.5 1174.0,2019 L1174.0,2070 C1173.0,2079 1166.6,2079 1165.6,2070 C1164.6,2079 1158.2,2079 1157.2,2070 C1156.2,2079 1149.8,2079 1148.8,2070 C1147.8,2079 1141.4,2079 1140.4,2070 C1139.4,2079 1133.0,2079 1132.0,2070 Z" fill="#F1DADA" stroke="#E0A7A6" stroke-width="1.2"/>
<circle cx="1153.0" cy="2042.0" r="9.8" fill="#DEA6A4" stroke="none" stroke-width="1"/>
<path d="M1175.8,2070 L1175.8,2019 Q1175.8,2015.5 1179.3,2015.5 L1214.4,2015.5 Q1217.9,2015.5 1217.9,2019 L1217.9,2070 C1216.9,2079 1210.5,2079 1209.5,2070 C1208.5,2079 1202.1,2079 1201.1,2070 C1200.1,2079 1193.6,2079 1192.6,2070 C1191.6,2079 1185.2,2079 1184.2,2070 C1183.2,2079 1176.8,2079 1175.8,2070 Z" fill="#F1DADA" stroke="#E0A7A6" stroke-width="1.2"/>
<circle cx="1196.8" cy="2042.0" r="9.8" fill="#DEA6A4" stroke="none" stroke-width="1"/>
<path d="M1219.7,2070 L1219.7,2019 Q1219.7,2015.5 1223.2,2015.5 L1258.2,2015.5 Q1261.7,2015.5 1261.7,2019 L1261.7,2070 C1260.7,2079 1254.3,2079 1253.3,2070 C1252.3,2079 1245.9,2079 1244.9,2070 C1243.9,2079 1237.5,2079 1236.5,2070 C1235.5,2079 1229.1,2079 1228.1,2070 C1227.1,2079 1220.7,2079 1219.7,2070 Z" fill="#F1DADA" stroke="#E0A7A6" stroke-width="1.2"/>
<circle cx="1240.7" cy="2042.0" r="9.8" fill="#DEA6A4" stroke="none" stroke-width="1"/>
<path d="M1263.5,2070 L1263.5,2019 Q1263.5,2015.5 1267.0,2015.5 L1302.1,2015.5 Q1305.6,2015.5 1305.6,2019 L1305.6,2070 C1304.6,2079 1298.2,2079 1297.2,2070 C1296.2,2079 1289.8,2079 1288.8,2070 C1287.8,2079 1281.4,2079 1280.4,2070 C1279.4,2079 1273.0,2079 1272.0,2070 C1271.0,2079 1264.5,2079 1263.5,2070 Z" fill="#F1DADA" stroke="#E0A7A6" stroke-width="1.2"/>
<circle cx="1284.6" cy="2042.0" r="9.8" fill="#DEA6A4" stroke="none" stroke-width="1"/>
<path d="M1307.4,2070 L1307.4,2019 Q1307.4,2015.5 1310.9,2015.5 L1346.0,2015.5 Q1349.5,2015.5 1349.5,2019 L1349.5,2070 C1348.5,2079 1342.0,2079 1341.0,2070 C1340.0,2079 1333.6,2079 1332.6,2070 C1331.6,2079 1325.2,2079 1324.2,2070 C1323.2,2079 1316.8,2079 1315.8,2070 C1314.8,2079 1308.4,2079 1307.4,2070 Z" fill="#F1DADA" stroke="#E0A7A6" stroke-width="1.2"/>
<circle cx="1328.4" cy="2042.0" r="9.8" fill="#DEA6A4" stroke="none" stroke-width="1"/>
<path d="M1351.3,2070 L1351.3,2019 Q1351.3,2015.5 1354.8,2015.5 L1389.8,2015.5 Q1393.3,2015.5 1393.3,2019 L1393.3,2070 C1392.3,2079 1385.9,2079 1384.9,2070 C1383.9,2079 1377.5,2079 1376.5,2070 C1375.5,2079 1369.1,2079 1368.1,2070 C1367.1,2079 1360.7,2079 1359.7,2070 C1358.7,2079 1352.3,2079 1351.3,2070 Z" fill="#F1DADA" stroke="#E0A7A6" stroke-width="1.2"/>
<circle cx="1372.3" cy="2042.0" r="9.8" fill="#DEA6A4" stroke="none" stroke-width="1"/>
<path d="M1395.1,2070 L1395.1,2019 Q1395.1,2015.5 1398.6,2015.5 L1433.7,2015.5 Q1437.2,2015.5 1437.2,2019 L1437.2,2070 C1436.2,2079 1429.8,2079 1428.8,2070 C1427.8,2079 1421.4,2079 1420.4,2070 C1419.4,2079 1412.9,2079 1411.9,2070 C1410.9,2079 1404.5,2079 1403.5,2070 C1402.5,2079 1396.1,2079 1395.1,2070 Z" fill="#F1DADA" stroke="#E0A7A6" stroke-width="1.2"/>
<circle cx="1416.1" cy="2042.0" r="9.8" fill="#DEA6A4" stroke="none" stroke-width="1"/>
<path d="M1439.0,2070 L1439.0,2019 Q1439.0,2015.5 1442.5,2015.5 L1477.5,2015.5 Q1481.0,2015.5 1481.0,2019 L1481.0,2070 C1480.0,2079 1473.6,2079 1472.6,2070 C1471.6,2079 1465.2,2079 1464.2,2070 C1463.2,2079 1456.8,2079 1455.8,2070 C1454.8,2079 1448.4,2079 1447.4,2070 C1446.4,2079 1440.0,2079 1439.0,2070 Z" fill="#F1DADA" stroke="#E0A7A6" stroke-width="1.2"/>
<circle cx="1460.0" cy="2042.0" r="9.8" fill="#DEA6A4" stroke="none" stroke-width="1"/>
<path d="M1482.8,2070 L1482.8,2019 Q1482.8,2015.5 1486.3,2015.5 L1521.4,2015.5 Q1524.9,2015.5 1524.9,2019 L1524.9,2070 C1523.9,2079 1517.5,2079 1516.5,2070 C1515.5,2079 1509.1,2079 1508.1,2070 C1507.1,2079 1500.7,2079 1499.7,2070 C1498.7,2079 1492.3,2079 1491.3,2070 C1490.3,2079 1483.8,2079 1482.8,2070 Z" fill="#F1DADA" stroke="#E0A7A6" stroke-width="1.2"/>
<circle cx="1503.9" cy="2042.0" r="9.8" fill="#DEA6A4" stroke="none" stroke-width="1"/>
<path d="M1195,2010 C1206,2008 1218,2016 1219,2030 C1220,2045 1212,2060 1200,2072 C1193,2079 1185,2082 1182,2077 C1180,2068 1192,2055 1196,2045 C1199,2037 1190,2030 1188,2022 C1187,2015 1190,2011 1195,2010 Z" fill="#5877B3" stroke="none" stroke-width="1"/>
<text x="1217.0" y="2009.2" font-size="23.5" fill="#111">Pla2</text>
<rect x="1203.0" y="2092.0" width="3.0" height="60.0" fill="url(#blkUp2)" stroke="none" stroke-width="1"/>
<polygon points="1204.4,2079.0 1210.9,2091.0 1197.9,2091.0" fill="#222" stroke="none" stroke-width="1"/>
<circle cx="1219.3" cy="2155.0" r="7.2" fill="#F2A7A3" stroke="#EC9590" stroke-width="0.8"/>
<circle cx="1198.8" cy="2172.0" r="7.2" fill="#F2A7A3" stroke="#EC9590" stroke-width="0.8"/>
<circle cx="1219.3" cy="2181.6" r="7.2" fill="#F2A7A3" stroke="#EC9590" stroke-width="0.8"/>
<circle cx="1180.8" cy="2190.0" r="7.2" fill="#F2A7A3" stroke="#EC9590" stroke-width="0.8"/>
<circle cx="1204.9" cy="2198.5" r="7.2" fill="#F2A7A3" stroke="#EC9590" stroke-width="0.8"/>
<circle cx="1229.0" cy="2206.9" r="7.2" fill="#F2A7A3" stroke="#EC9590" stroke-width="0.8"/>
<text x="1162.2" y="2235.8" font-size="23.5" fill="#111">Butyrate</text>
<g transform="translate(898.4 2131.8) rotate(-60)"><rect x="-13" y="-5.8" width="26" height="11.6" rx="5.8" fill="#A64848" stroke="#fff" stroke-opacity="0.0"/><rect x="-10.5" y="-3.5" width="21" height="7" rx="3.5" fill="none" stroke="#fff" stroke-width="0.8" stroke-opacity="0.7"/></g>
<g transform="translate(931.3 2138.0) rotate(30)"><rect x="-13" y="-5.8" width="26" height="11.6" rx="5.8" fill="#E3A550" stroke="#fff" stroke-opacity="0.0"/><rect x="-10.5" y="-3.5" width="21" height="7" rx="3.5" fill="none" stroke="#fff" stroke-width="0.8" stroke-opacity="0.7"/></g>
<g transform="translate(963.7 2152.9) rotate(-80)"><rect x="-13" y="-5.8" width="26" height="11.6" rx="5.8" fill="#93ABDA" stroke="#fff" stroke-opacity="0.0"/><rect x="-10.5" y="-3.5" width="21" height="7" rx="3.5" fill="none" stroke="#fff" stroke-width="0.8" stroke-opacity="0.7"/></g>
<g transform="translate(876.3 2161.5) rotate(50)"><rect x="-13" y="-5.8" width="26" height="11.6" rx="5.8" fill="#3D4F8D" stroke="#fff" stroke-opacity="0.0"/><rect x="-10.5" y="-3.5" width="21" height="7" rx="3.5" fill="none" stroke="#fff" stroke-width="0.8" stroke-opacity="0.7"/></g>
<g transform="translate(905.0 2166.0) rotate(55)"><rect x="-13" y="-5.8" width="26" height="11.6" rx="5.8" fill="#A2B8E0" stroke="#fff" stroke-opacity="0.0"/><rect x="-10.5" y="-3.5" width="21" height="7" rx="3.5" fill="none" stroke="#fff" stroke-width="0.8" stroke-opacity="0.7"/></g>
<g transform="translate(924.7 2156.5) rotate(12)"><rect x="-13" y="-5.8" width="26" height="11.6" rx="5.8" fill="#D06464" stroke="#fff" stroke-opacity="0.0"/><rect x="-10.5" y="-3.5" width="21" height="7" rx="3.5" fill="none" stroke="#fff" stroke-width="0.8" stroke-opacity="0.7"/></g>
<g transform="translate(934.6 2184.5) rotate(30)"><rect x="-13" y="-5.8" width="26" height="11.6" rx="5.8" fill="#3D4F8D" stroke="#fff" stroke-opacity="0.0"/><rect x="-10.5" y="-3.5" width="21" height="7" rx="3.5" fill="none" stroke="#fff" stroke-width="0.8" stroke-opacity="0.7"/></g>
<g transform="translate(961.7 2181.2) rotate(15)"><rect x="-13" y="-5.8" width="26" height="11.6" rx="5.8" fill="#A64848" stroke="#fff" stroke-opacity="0.0"/><rect x="-10.5" y="-3.5" width="21" height="7" rx="3.5" fill="none" stroke="#fff" stroke-width="0.8" stroke-opacity="0.7"/></g>
<g transform="translate(889.5 2192.5) rotate(-25)"><rect x="-13" y="-5.8" width="26" height="11.6" rx="5.8" fill="#D06464" stroke="#fff" stroke-opacity="0.0"/><rect x="-10.5" y="-3.5" width="21" height="7" rx="3.5" fill="none" stroke="#fff" stroke-width="0.8" stroke-opacity="0.7"/></g>
<g transform="translate(922.1 2204.3) rotate(0)"><rect x="-13" y="-5.8" width="26" height="11.6" rx="5.8" fill="#E3A550" stroke="#fff" stroke-opacity="0.0"/><rect x="-10.5" y="-3.5" width="21" height="7" rx="3.5" fill="none" stroke="#fff" stroke-width="0.8" stroke-opacity="0.7"/></g>
<text x="852.2" y="2236.3" font-size="23.5" fill="#111">Commensals</text>
<rect x="1025.0" y="2168.2" width="96.0" height="3.0" fill="url(#blkR)" stroke="none" stroke-width="1"/>
<polygon points="1131.0,2169.7 1118.0,2176.2 1118.0,2163.2" fill="#222" stroke="none" stroke-width="1"/>
<path d="M1262,2179 C1330,2160 1400,2120 1428,2060 C1448,2015 1450,1955 1433,1900 C1425,1870 1415,1848 1404,1832" fill="none" stroke="#222" stroke-width="2" stroke-dasharray="9,7"/>
<polygon points="1397.6,1822.3 1411.0,1830.5 1399.1,1837.9" fill="#222" stroke="none" stroke-width="1"/>
<text x="1278.9" y="1804.2" font-size="23.5" fill="#111">Fat body cells</text>
<text x="869.7" y="1778.0" font-size="23.5" fill="#111">AMPs</text>
<rect x="878.2" y="1795.0" width="14" height="14" rx="2.5" fill="#D3EAF9" stroke="#3883C8" stroke-width="2"/>
<rect x="868.6" y="1816.8" width="14" height="14" rx="2.5" fill="#D3EAF9" stroke="#3883C8" stroke-width="2"/>
<rect x="889.7" y="1814.5" width="14" height="14" rx="2.5" fill="#D3EAF9" stroke="#3883C8" stroke-width="2"/>
<path d="M995.6,1865 C996,1840 990,1815 975,1806 C960,1797 935,1798 915,1802" fill="none" stroke="#1F4FA8" stroke-width="3"/>
<polygon points="905.0,1803.0 918.7,1795.5 919.2,1809.5" fill="#1F4FA8" stroke="none" stroke-width="1"/>
<path d="M962.6,1918 C935,1932 900,1948 860,1947 C820,1946 790,1930 755,1896" fill="none" stroke="#1F4FA8" stroke-width="3"/>
<polygon points="743.4,1885.2 758.6,1889.1 749.4,1899.7" fill="#1F4FA8" stroke="none" stroke-width="1"/>
<circle cx="999.0" cy="1881.9" r="10.3" fill="#7DA0D8" stroke="#2C5CB0" stroke-width="1.4"/>
<circle cx="985.7" cy="1908.2" r="10.3" fill="#7DA0D8" stroke="#2C5CB0" stroke-width="1.4"/>
<circle cx="1012.0" cy="1905.0" r="10.3" fill="#7DA0D8" stroke="#2C5CB0" stroke-width="1.4"/>
<text x="971.5" y="1942.2" font-size="23.5" fill="#111">PGE<tspan font-size="15">2</tspan></text>
<text x="605.0" y="1817.6" font-size="23.5" fill="#111">Hemocytes</text>
<circle cx="755.6" cy="1800.4" r="6.5" fill="#C96B6B" stroke="none" stroke-width="1"/>
<circle cx="658.4" cy="1838.4" r="6.5" fill="#C96B6B" stroke="none" stroke-width="1"/>
<circle cx="733.2" cy="1846.3" r="6.5" fill="#C96B6B" stroke="none" stroke-width="1"/>
<circle cx="784.0" cy="1852.2" r="6.5" fill="#C96B6B" stroke="none" stroke-width="1"/>
<circle cx="697.3" cy="1899.7" r="6.5" fill="#C96B6B" stroke="none" stroke-width="1"/>
<circle cx="1389.5" cy="1631.8" r="31.3" fill="none" stroke="#6a6a6a" stroke-width="1.6"/>
<line x1="1390.0" y1="1600.5" x2="1656.0" y2="1581.5" stroke="#666" stroke-width="1.4" stroke-dasharray="5,4"/>
<line x1="1366.0" y1="1654.0" x2="1503.4" y2="1894.3" stroke="#666" stroke-width="1.4" stroke-dasharray="5,4"/>
<defs><clipPath id="bigc"><ellipse cx="1712" cy="1802.7" rx="230.3" ry="226.7"/></clipPath></defs>
<ellipse cx="1712" cy="1802.7" rx="230.3" ry="226.7" fill="#fff"/>
<g clip-path="url(#bigc)">
<path d="M1483,1789.6 C1500,1778 1530,1752 1557,1731.5 C1575,1718 1600,1705 1632.8,1696.6 C1655,1690 1670,1686 1685,1685.6 C1700,1686 1712,1689 1722,1694 C1735,1701 1750,1712 1763,1730 C1782,1756 1795,1785 1810,1815 C1822,1838 1833,1855 1837.7,1874 C1841,1895 1836,1915 1826,1935 C1815,1958 1805,1978 1795,1998 C1785,2015 1775,2024 1760,2027 C1740,2032 1720,2030 1700,2040 L1450,2060 L1450,1800 Z" fill="#FCF3D7" stroke="#D6B083" stroke-width="3.6"/>
<circle cx="1689.4" cy="1875.4" r="55.0" fill="#F7DCB8" stroke="#F3D2A6" stroke-width="3"/>
</g>
<ellipse cx="1712" cy="1802.7" rx="230.3" ry="226.7" fill="none" stroke="#6d6d6d" stroke-width="1.8"/>
<text x="1639.5" y="1616.7" font-size="23.5" fill="#111">Butyrate</text>
<circle cx="1622.0" cy="1619.6" r="7.3" fill="#F3A3A3" stroke="none" stroke-width="1"/>
<circle cx="1586.3" cy="1640.0" r="7.3" fill="#F3A3A3" stroke="none" stroke-width="1"/>
<circle cx="1611.0" cy="1645.7" r="7.3" fill="#F3A3A3" stroke="none" stroke-width="1"/>
<circle cx="1629.9" cy="1661.0" r="7.3" fill="#F3A3A3" stroke="none" stroke-width="1"/>
<circle cx="1598.5" cy="1672.0" r="7.3" fill="#F3A3A3" stroke="none" stroke-width="1"/>
<circle cx="1548.5" cy="1760.0" r="7.3" fill="#F3A3A3" stroke="none" stroke-width="1"/>
<circle cx="1530.5" cy="1782.4" r="7.3" fill="#F3A3A3" stroke="none" stroke-width="1"/>
<circle cx="1553.4" cy="1781.0" r="7.3" fill="#F3A3A3" stroke="none" stroke-width="1"/>
<circle cx="1767.0" cy="1667.0" r="7.3" fill="#F3A3A3" stroke="none" stroke-width="1"/>
<line x1="1618.8" y1="1673.4" x2="1618.8" y2="1767.0" stroke="#CC6B6B" stroke-width="3.5"/>
<line x1="1589.2" y1="1767.0" x2="1648.8" y2="1767.0" stroke="#CC6B6B" stroke-width="3.5"/>
<rect x="1570.3" y="1775.7" width="98.8" height="34.9" rx="9" fill="#B3E0F6" stroke="#111" stroke-width="2.4"/>
<text x="1620.5" y="1801.3" font-size="24.0" text-anchor="middle" fill="#111">HDACs</text>
<line x1="1756.5" y1="1696.0" x2="1743.5" y2="1730.0" stroke="#3F3A7A" stroke-width="3.2"/>
<path d="M1751,1668 C1745,1684 1752,1694.5 1763,1694.5 C1772,1694.5 1778,1689 1781,1680.5" fill="none" stroke="#3A2458" stroke-width="9.3" stroke-linecap="round"/>
<path d="M1751,1668 C1745,1684 1752,1694.5 1763,1694.5 C1772,1694.5 1778,1689 1781,1680.5" fill="none" stroke="#8D65AD" stroke-width="7.5" stroke-linecap="round"/>
<text x="1772.3" y="1721.3" font-size="23.5" fill="#111">GPR41</text>
<text x="1520.9" y="1818.7" font-size="23.5" fill="#111">Ac</text>
<path d="M1513.8,1882.1 C1522,1881 1532,1879 1538,1876 M1553.4,1878.1 C1558,1882 1564,1882.1 1572,1882.1 L1599,1882.1 C1605,1881 1609,1879 1612,1876 M1628.6,1878.1 C1632,1881 1636,1882.1 1642,1882.1 L1657,1882.1" fill="none" stroke="#1E1B5E" stroke-width="2.2"/>
<path d="M1558.4,1832.2 Q1557.2,1838.3 1553.9,1845.5" fill="none" stroke="#6E1A1E" stroke-width="2"/>
<g transform="translate(1538.6 1858.4) rotate(28)"><path d="M0,-17.5 L19,-17.5 A7.5,17.5 0 0 1 19,17.5 L0,17.5 Z" fill="#3E7FC1"/><path d="M6,-17.2 A7.5,17.2 0 0 1 6,17.2 M12,-17.2 A7.5,17.2 0 0 1 12,17.2 M18,-17 A7.5,17 0 0 1 18,17" fill="none" stroke="#1E1B5E" stroke-width="2"/><ellipse cx="0" cy="0" rx="7.5" ry="17.5" fill="#84BEEA"/></g>
<circle cx="1558.4" cy="1825.2" r="7.6" fill="#CD6B6B" stroke="#6E1A1E" stroke-width="1.6"/>
<path d="M1619.7,1832.9 Q1620.7,1836.7 1619.7,1841.5" fill="none" stroke="#6E1A1E" stroke-width="2"/>
<g transform="translate(1612.8 1858.4) rotate(28)"><path d="M0,-17.5 L19,-17.5 A7.5,17.5 0 0 1 19,17.5 L0,17.5 Z" fill="#3E7FC1"/><path d="M6,-17.2 A7.5,17.2 0 0 1 6,17.2 M12,-17.2 A7.5,17.2 0 0 1 12,17.2 M18,-17 A7.5,17 0 0 1 18,17" fill="none" stroke="#1E1B5E" stroke-width="2"/><ellipse cx="0" cy="0" rx="7.5" ry="17.5" fill="#84BEEA"/></g>
<circle cx="1619.7" cy="1825.9" r="7.6" fill="#CD6B6B" stroke="#6E1A1E" stroke-width="1.6"/>
<polyline points="1717.0,1864.0 1717.0,1821.6 1755.0,1821.6" fill="none" stroke="#111" stroke-width="1.8" stroke-linejoin="round"/>
<polygon points="1764.0,1821.6 1753.0,1826.1 1753.0,1817.1" fill="#111" stroke="none" stroke-width="1"/>
<rect x="1656.6" y="1864.6" width="146.8" height="34" rx="10" fill="#EEF1E6" stroke="#111" stroke-width="2.2"/>
<text x="1731.0" y="1890.0" font-size="23.8" text-anchor="middle" font-style="italic" fill="#111">LOC724951</text>
<rect x="1672.6" y="1895.7" width="147.1" height="35.5" rx="10" fill="#EEF1E6" stroke="#111" stroke-width="2.2"/>
<text x="1747.0" y="1921.9" font-size="23.8" text-anchor="middle" font-style="italic" fill="#111">LOC724907</text>
<text x="1863.8" y="1868" font-size="23.5" fill="#111">PGE<tspan font-size="15">2</tspan></text>
<circle cx="1863.0" cy="1897.2" r="10.5" fill="#7DA0D8" stroke="#2C5CB0" stroke-width="1.4"/>
<circle cx="1889.4" cy="1894.3" r="10.5" fill="#7DA0D8" stroke="#2C5CB0" stroke-width="1.4"/>
<path d="M1762,1967 C1790,1980 1830,1975 1864,1930" fill="none" stroke="#111" stroke-width="1.6"/>
<polygon points="1869.7,1920.4 1867.6,1933.2 1859.1,1927.9" fill="#111" stroke="none" stroke-width="1"/>
<text x="1578.0" y="1975.6" font-size="23.5" fill="#111">Fat body cells</text>
</svg>
</body></html>
